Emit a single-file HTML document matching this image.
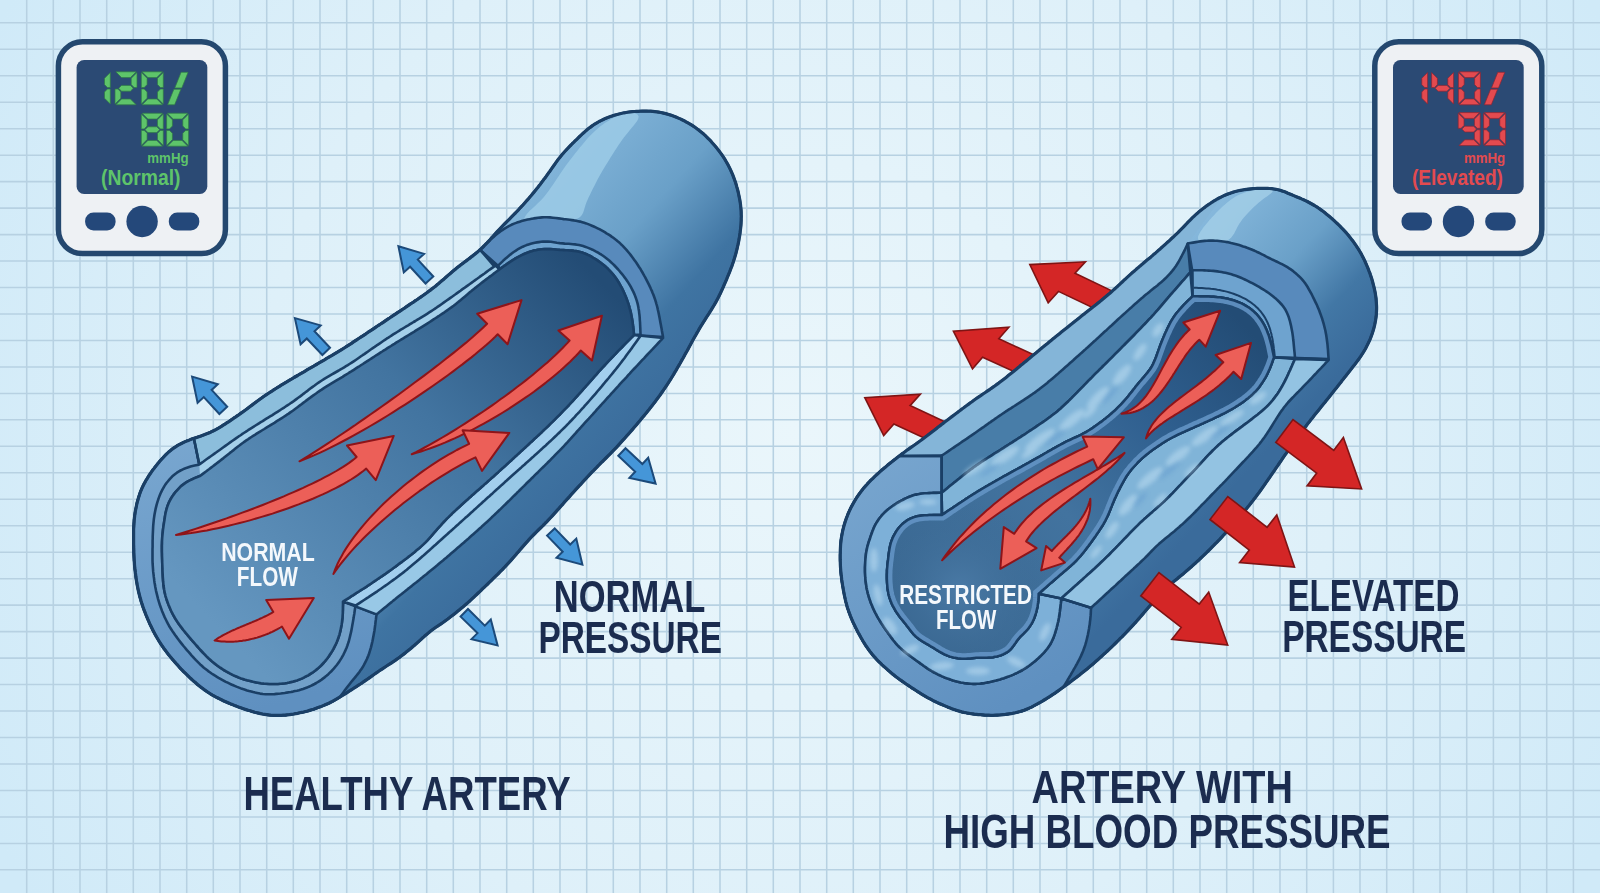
<!DOCTYPE html>
<html><head><meta charset="utf-8"><title>Healthy artery vs artery with high blood pressure</title>
<style>html,body{margin:0;padding:0;background:#d8ecf7;overflow:hidden;}svg{display:block;}text{font-family:"Liberation Sans",sans-serif;}</style></head>
<body><svg width="1600" height="893" viewBox="0 0 1600 893">
<defs>
<radialGradient id="bg" cx="800" cy="430" r="900" gradientUnits="userSpaceOnUse">
  <stop offset="0" stop-color="#eaf6fb"/>
  <stop offset="0.6" stop-color="#def0f9"/>
  <stop offset="1" stop-color="#d0eaf8"/>
</radialGradient>
<linearGradient id="lOuter" x1="540" y1="150" x2="740" y2="330" gradientUnits="userSpaceOnUse">
  <stop offset="0" stop-color="#86b8dc"/><stop offset="0.45" stop-color="#6aa0c8"/><stop offset="0.75" stop-color="#3f74a2"/><stop offset="1" stop-color="#3a6b9b"/>
</linearGradient>
<linearGradient id="lInt" x1="600" y1="280" x2="230" y2="640" gradientUnits="userSpaceOnUse">
  <stop offset="0" stop-color="#234c75"/><stop offset="0.42" stop-color="#4274a0"/><stop offset="1" stop-color="#6597c0"/>
</linearGradient>
<linearGradient id="lRing" x1="180" y1="440" x2="260" y2="710" gradientUnits="userSpaceOnUse">
  <stop offset="0" stop-color="#78a6cf"/><stop offset="0.5" stop-color="#6b9bc8"/><stop offset="1" stop-color="#5f90c0"/>
</linearGradient>
<linearGradient id="lWall" x1="420" y1="560" x2="470" y2="640" gradientUnits="userSpaceOnUse">
  <stop offset="0" stop-color="#4177ae"/><stop offset="1" stop-color="#3a6ea5"/>
</linearGradient>

<linearGradient id="rOuter" x1="1230" y1="190" x2="1380" y2="330" gradientUnits="userSpaceOnUse">
  <stop offset="0" stop-color="#86b8dc"/><stop offset="0.45" stop-color="#6aa0c8"/><stop offset="0.75" stop-color="#4277a5"/><stop offset="1" stop-color="#3a6b9b"/>
</linearGradient>
<linearGradient id="rLum" x1="1240" y1="320" x2="930" y2="620" gradientUnits="userSpaceOnUse">
  <stop offset="0" stop-color="#234c75"/><stop offset="0.3" stop-color="#2f5f8f"/><stop offset="0.6" stop-color="#42739f"/><stop offset="1" stop-color="#3a6892"/>
</linearGradient>
<linearGradient id="rRing" x1="850" y1="460" x2="1000" y2="710" gradientUnits="userSpaceOnUse">
  <stop offset="0" stop-color="#78a6cf"/><stop offset="1" stop-color="#5f90c0"/>
</linearGradient>
<radialGradient id="rLumC" cx="960" cy="590" r="90" gradientUnits="userSpaceOnUse">
  <stop offset="0" stop-color="#4a7aa6"/><stop offset="1" stop-color="#3a6892" stop-opacity="0"/>
</radialGradient>
<clipPath id="lumClip"><path d="M942,515 L939.5,515 L936.7,515 L933.7,515 L931.5,515.1 L929.3,515.1 L927,515.2 L924.7,515.3 L922.5,515.5 L920.3,515.8 L918.2,516.1 L916.1,516.6 L914.1,517.2 L912.2,517.9 L910.3,518.7 L908.5,519.6 L906,521.2 L903.6,523 L902.1,524.3 L900.7,525.8 L899.3,527.3 L898.1,528.9 L896.8,530.6 L895.7,532.3 L894.7,534.1 L893.7,535.9 L892.8,537.7 L892.1,539.6 L891.3,541.5 L890.7,543.5 L890.2,545.5 L889.8,547.5 L889.4,549.6 L889.1,551.6 L888.8,553.7 L888.6,555.8 L888.3,557.9 L888.1,559.9 L887.8,562 L887.6,564 L887.4,566.1 L887.2,568.2 L887,570.3 L887,572.4 L886.9,574.5 L886.9,576.6 L886.9,578.7 L887,580.8 L887.1,583 L887.3,585.2 L887.5,587.4 L887.7,589.5 L888.1,591.6 L888.5,593.7 L889,595.8 L889.6,597.8 L890.3,599.8 L891,601.8 L891.8,603.7 L892.7,605.6 L893.7,607.4 L894.7,609.2 L895.7,611 L896.9,612.8 L898.1,614.5 L899.3,616.2 L900.6,617.9 L901.9,619.5 L903.2,621.1 L904.5,622.7 L905.8,624.3 L907,625.9 L908.3,627.5 L909.5,629.1 L911.3,631.5 L913.1,633.8 L915.2,635.9 L917.4,637.8 L919.8,639.6 L921.5,640.7 L923.2,641.8 L925,642.8 L926.7,643.9 L928.5,644.9 L930.3,646 L932.1,647 L933.9,648.1 L935.6,649.2 L937.4,650.3 L939.2,651.4 L940.9,652.4 L942.7,653.4 L944.5,654.3 L946.3,655.1 L948.1,655.9 L950,656.6 L952,657.1 L954.9,657.8 L957.8,658.3 L959.8,658.5 L961.8,658.7 L963.8,658.7 L965.9,658.7 L968,658.5 L970,658.4 L972.1,658.2 L974.2,658 L976.3,657.8 L978.4,657.7 L980.5,657.6 L982.6,657.6 L984.6,657.6 L986.7,657.6 L988.8,657.5 L990.9,657.4 L992.9,657.2 L995,656.8 L997,656.4 L999.1,655.8 L1001.1,655.2 L1003.1,654.4 L1005,653.4 L1006.8,652.4 L1008.5,651.2 L1010.1,649.8 L1011.5,648.3 L1012.9,646.6 L1014.2,644.8 L1015.4,643.1 L1016.6,641.3 L1017.9,639.6 L1019.2,638 L1020.6,636.4 L1022,635 L1023.5,633.6 L1024.9,632.2 L1026.3,630.7 L1027.7,629.2 L1028.9,627.6 L1030.1,625.9 L1031.3,624.1 L1032.3,622.3 L1033.2,620.4 L1034.1,618.5 L1034.8,616.5 L1035.5,614.5 L1036.1,612.5 L1036.6,610.5 L1037.1,608.4 L1037.5,606.4 L1037.8,604.3 L1038.1,602.2 L1038.3,600.2 L1038.5,597.3 L1038.6,594.6 L1038.6,593.7 L1040.4,592.2 L1042.3,590.5 L1044.4,588.6 L1045.9,587.3 L1047.5,585.9 L1049.2,584.4 L1050.9,582.9 L1052.6,581.5 L1054.3,580 L1056,578.5 L1057.7,577.1 L1059.3,575.6 L1060.9,574.2 L1062.5,572.9 L1064.1,571.5 L1065.7,570.2 L1067.3,568.8 L1068.8,567.5 L1070.3,566.2 L1071.8,564.8 L1073.3,563.5 L1074.7,562.1 L1076.2,560.7 L1077.5,559.2 L1079.5,557 L1080.9,555.5 L1082.1,554 L1083.4,552.4 L1084.7,550.8 L1085.9,549.2 L1087.1,547.6 L1088.4,546 L1089.6,544.3 L1090.8,542.7 L1092,541 L1093.1,539.4 L1094.3,537.7 L1095.5,536.1 L1096.6,534.4 L1097.8,532.8 L1098.9,531.1 L1100,529.4 L1101.1,527.7 L1102.2,526 L1103.2,524.3 L1104.2,522.5 L1105.2,520.8 L1106.1,519 L1107,517.2 L1107.9,515.4 L1108.7,513.6 L1109.4,511.7 L1110.2,509.9 L1110.9,508 L1111.7,506.1 L1112.4,504.2 L1113.2,502.4 L1114,500.5 L1114.8,498.6 L1115.7,496.7 L1116.5,494.9 L1117.4,493 L1118.3,491.1 L1119.3,489.3 L1120.2,487.4 L1121.2,485.5 L1122.2,483.7 L1123.2,481.8 L1124.2,480 L1125.2,478.3 L1126.3,476.5 L1127.5,474.8 L1128.6,473.1 L1129.9,471.5 L1131.2,469.8 L1132.5,468.2 L1133.9,466.7 L1135.3,465.2 L1136.7,463.7 L1138,462.2 L1140.2,460.2 L1142.3,458.1 L1143.8,456.8 L1145.4,455.5 L1147,454.1 L1148.6,452.9 L1150.2,451.6 L1151.8,450.4 L1153.5,449.2 L1155.2,448.1 L1156.8,446.9 L1158.5,445.8 L1160.2,444.7 L1161.9,443.5 L1163.6,442.4 L1165.4,441.3 L1167.2,440.2 L1169,439.2 L1170.8,438.2 L1172.7,437.2 L1174.5,436.3 L1176.4,435.3 L1178.3,434.4 L1180.2,433.5 L1182.1,432.6 L1184,431.8 L1186,430.9 L1187.9,430 L1189.8,429.2 L1191.7,428.3 L1193.5,427.5 L1195.4,426.6 L1197.3,425.8 L1199.2,425 L1201.1,424.1 L1203,423.3 L1204.9,422.4 L1206.8,421.6 L1208.6,420.7 L1210.5,419.8 L1212.4,419 L1214.3,418.1 L1216.2,417.2 L1218.1,416.3 L1220,415.4 L1221.9,414.4 L1223.7,413.5 L1225.6,412.5 L1227.4,411.5 L1229.2,410.5 L1231.1,409.5 L1232.9,408.5 L1234.7,407.4 L1236.4,406.3 L1238.2,405.2 L1239.9,404.1 L1241.6,402.9 L1243.3,401.8 L1244.9,400.6 L1246.5,399.3 L1248.1,398.1 L1249.7,396.8 L1251.2,395.5 L1252.7,394.1 L1254.1,392.7 L1255.5,391.3 L1256.9,389.8 L1258.2,388.3 L1259.4,386.7 L1260.6,385 L1261.8,383.3 L1262.9,381.6 L1264,379.9 L1265.1,378.1 L1266.1,376.3 L1267.1,374.4 L1268,372.5 L1268.9,370.5 L1269.8,368.5 L1270.6,366.5 L1271.4,364.4 L1272.1,362.5 L1273,359.8 L1273.9,357.3 L1273.4,354.8 L1272.8,352.1 L1272.2,349.1 L1271.8,347 L1271.3,344.8 L1270.7,342.6 L1270.1,340.4 L1269.5,338.3 L1268.9,336.2 L1268.2,334.2 L1267.4,332.2 L1266.7,330.3 L1265.8,328.4 L1265,326.6 L1264.1,324.8 L1263.1,323.1 L1261.5,320.5 L1259.7,318.1 L1258.5,316.5 L1257.2,315 L1255.8,313.5 L1254.3,312.1 L1252.8,310.7 L1251.1,309.4 L1249.5,308.1 L1247.8,307 L1246,305.9 L1244.3,304.9 L1241.6,303.5 L1238.9,302.4 L1236.2,301.3 L1234.3,300.6 L1232.3,300 L1230.3,299.5 L1228.3,298.9 L1226.2,298.5 L1224.2,298.1 L1222.1,297.7 L1220,297.4 L1217.8,297.2 L1215.6,297 L1213.4,296.8 L1211.1,296.7 L1208.8,296.6 L1206.5,296.5 L1204.3,296.5 L1202.2,296.5 L1200.1,296.5 L1197.3,296.4 L1194.8,296.4 L1192.5,296.4 L1190.5,298.4 L1188.3,300.4 L1186.8,301.9 L1185.3,303.5 L1183.8,305 L1182.3,306.6 L1180.9,308.2 L1179.5,309.7 L1178.2,311.3 L1176.9,312.8 L1175.7,314.4 L1174.5,316 L1173.4,317.7 L1172.3,319.4 L1171.2,321.2 L1170.2,323 L1169.3,324.8 L1168.4,326.6 L1167.4,328.5 L1166.6,330.4 L1165.7,332.3 L1164.9,334.1 L1164.1,336 L1163.3,337.9 L1162.5,339.7 L1161.4,342.5 L1160.3,345.3 L1159.3,348.1 L1158.3,350.9 L1157.3,353.7 L1156.3,356.5 L1155.6,358.4 L1154.8,360.3 L1154,362.1 L1153.2,364 L1152.2,365.8 L1151.2,367.5 L1150.1,369.2 L1148.9,370.8 L1147.7,372.4 L1146.4,374 L1145.1,375.6 L1143.8,377.2 L1142.4,378.7 L1141.1,380.3 L1139.7,381.8 L1138.4,383.4 L1137.1,385 L1135.8,386.6 L1134.6,388.2 L1133.3,389.8 L1132.1,391.4 L1130.8,393 L1129.5,394.6 L1128.3,396.2 L1127,397.8 L1125,400 L1123.1,402.2 L1121.1,404.3 L1119,406.5 L1117.5,407.9 L1116.1,409.3 L1114.6,410.8 L1113,412.2 L1111.5,413.5 L1109.9,414.9 L1108.4,416.2 L1106.8,417.4 L1105.3,418.7 L1103.7,419.9 L1102.1,421.2 L1100.4,422.4 L1098.8,423.6 L1097.1,424.9 L1095.4,426.1 L1093.7,427.2 L1092,428.4 L1090.3,429.5 L1088.6,430.6 L1086.1,432.1 L1083.5,433.5 L1080.9,434.9 L1078.3,436.1 L1075.7,437.3 L1073,438.5 L1070.3,439.8 L1068.4,440.6 L1066.6,441.5 L1064.8,442.4 L1063,443.4 L1060.4,444.8 L1057.8,446.2 L1055.2,447.6 L1053.4,448.6 L1051.6,449.7 L1049.8,450.7 L1048,451.7 L1046.2,452.8 L1044.4,453.8 L1042.6,454.9 L1040.8,455.9 L1039,457 L1037.2,458 L1035.4,459 L1033.6,460 L1031.8,461 L1030,462 L1028.3,463 L1026.5,464 L1024.7,465 L1022.9,465.9 L1021.2,466.9 L1019.4,467.9 L1016.8,469.3 L1014.2,470.7 L1011.5,472.2 L1008.9,473.6 L1006.3,475.1 L1004.6,476 L1002.8,477 L1001.1,478 L999.3,479 L997.6,480 L995.8,481 L994.1,482 L992.3,483 L990.6,484 L988.8,485 L987.1,486 L985.3,487 L983.6,488 L981.8,489.1 L980,490.2 L978.2,491.2 L976.5,492.3 L974.7,493.4 L972.9,494.5 L971.1,495.7 L969.3,496.8 L967.5,498 L965.6,499.2 L963.7,500.5 L961.8,501.7 L959.9,503 L958,504.2 L956.2,505.5 L954.3,506.7 L952.6,507.9 L950.9,509 L948.5,510.6 L946.3,512.1 L944.4,513.4 L942.6,514.6 L942,515 Z"/></clipPath><filter id="soft" x="-20%" y="-20%" width="140%" height="140%"><feGaussianBlur stdDeviation="2.2"/></filter></defs>
<rect width="1600" height="893" fill="url(#bg)"/>
<path d="M26.7,0V893M53.3,0V893M80,0V893M106.7,0V893M133.3,0V893M160,0V893M186.7,0V893M213.3,0V893M240,0V893M266.7,0V893M293.3,0V893M320,0V893M346.7,0V893M373.3,0V893M400,0V893M426.7,0V893M453.3,0V893M480,0V893M506.7,0V893M533.3,0V893M560,0V893M586.7,0V893M613.3,0V893M640,0V893M666.7,0V893M693.3,0V893M720,0V893M746.7,0V893M773.3,0V893M800,0V893M826.7,0V893M853.3,0V893M880,0V893M906.7,0V893M933.3,0V893M960,0V893M986.7,0V893M1013.3,0V893M1040,0V893M1066.7,0V893M1093.3,0V893M1120,0V893M1146.7,0V893M1173.3,0V893M1200,0V893M1226.7,0V893M1253.3,0V893M1280,0V893M1306.7,0V893M1333.4,0V893M1360,0V893M1386.7,0V893M1413.4,0V893M1440,0V893M1466.7,0V893M1493.4,0V893M1520,0V893M1546.7,0V893M1573.4,0V893M0,22.8H1600M0,49.3H1600M0,75.7H1600M0,102.2H1600M0,128.7H1600M0,155.2H1600M0,181.6H1600M0,208.1H1600M0,234.6H1600M0,261H1600M0,287.5H1600M0,314H1600M0,340.4H1600M0,366.9H1600M0,393.4H1600M0,419.8H1600M0,446.3H1600M0,472.8H1600M0,499.3H1600M0,525.7H1600M0,552.2H1600M0,578.7H1600M0,605.1H1600M0,631.6H1600M0,658.1H1600M0,684.5H1600M0,711H1600M0,737.5H1600M0,764H1600M0,790.4H1600M0,816.9H1600M0,843.4H1600M0,869.8H1600" stroke="#b7d1e2" stroke-width="1.55" fill="none"/>
<rect x="58.4" y="41.8" width="167" height="211.8" rx="24" fill="#eef1f4" stroke="#24486f" stroke-width="5.5"/><rect x="76.6" y="60" width="130.7" height="134" rx="7.5" fill="#2b4a74"/><rect x="85.1" y="212.5" width="30.5" height="18" rx="8.5" fill="#24487a"/><circle cx="142.1" cy="221.5" r="15.7" fill="#24487a"/><rect x="168.8" y="212.5" width="30.5" height="18" rx="8.5" fill="#24487a"/>
<path d="M110.3,72.5 L104.5,78.3 L104.5,84.6 L107.4,87.5 L110.3,87.5 ZM110.3,89 L107.4,89 L104.5,92 L104.5,98.2 L110.3,104 ZM115.8,71.8 L136.2,71.8 L130.4,77.6 L121.5,77.6 ZM137,72.5 L131.2,78.3 L131.2,84.6 L134.1,87.5 L137,87.5 ZM115.8,104.8 L136.2,104.8 L130.4,99 L121.5,99 ZM115,89 L117.9,89 L120.8,92 L120.8,98.2 L115,104 ZM118.7,88.3 L121.5,85.4 L130.4,85.4 L133.3,88.3 L130.4,91.2 L121.5,91.2 ZM142.1,71.8 L162.6,71.8 L156.8,77.6 L147.9,77.6 ZM163.3,72.5 L157.5,78.3 L157.5,84.6 L160.4,87.5 L163.3,87.5 ZM163.3,89 L160.4,89 L157.5,92 L157.5,98.2 L163.3,104 ZM142.1,104.8 L162.6,104.8 L156.8,99 L147.9,99 ZM141.3,89 L144.2,89 L147.1,92 L147.1,98.2 L141.3,104 ZM141.3,72.5 L147.1,78.3 L147.1,84.6 L144.2,87.5 L141.3,87.5 ZM167.6,104.8 L174.6,104.8 L180.9,89.2 L173.9,89.2 ZM174.8,87.9 L181.8,87.9 L188.1,72.3 L181.1,72.3 Z" fill="#5ec46a" stroke="#2f7a45" stroke-width="0.7" stroke-linejoin="round"/>
<path d="M142.1,113.2 L162.6,113.2 L156.8,119 L147.9,119 ZM163.3,114 L157.5,119.8 L157.5,126 L160.4,128.9 L163.3,128.9 ZM163.3,130.4 L160.4,130.4 L157.5,133.3 L157.5,139.6 L163.3,145.4 ZM142.1,146.2 L162.6,146.2 L156.8,140.4 L147.9,140.4 ZM141.3,130.4 L144.2,130.4 L147.1,133.3 L147.1,139.6 L141.3,145.4 ZM141.3,114 L147.1,119.8 L147.1,126 L144.2,128.9 L141.3,128.9 ZM145,129.7 L147.9,126.8 L156.8,126.8 L159.7,129.7 L156.8,132.6 L147.9,132.6 ZM167.3,113.2 L187.8,113.2 L182,119 L173.2,119 ZM188.6,114 L182.8,119.8 L182.8,126 L185.7,128.9 L188.6,128.9 ZM188.6,130.4 L185.7,130.4 L182.8,133.3 L182.8,139.6 L188.6,145.4 ZM167.3,146.2 L187.8,146.2 L182,140.4 L173.2,140.4 ZM166.6,130.4 L169.5,130.4 L172.4,133.3 L172.4,139.6 L166.6,145.4 ZM166.6,114 L172.4,119.8 L172.4,126 L169.5,128.9 L166.6,128.9 Z" fill="#5ec46a" stroke="#2f7a45" stroke-width="0.7" stroke-linejoin="round"/>
<text x="147.3" y="162.5" font-family="Liberation Sans" font-weight="bold" font-size="15" fill="#5ec46a" textLength="41.3" lengthAdjust="spacingAndGlyphs">mmHg</text>
<text x="101" y="184.8" font-family="Liberation Sans" font-weight="bold" font-size="22" fill="#5ec46a" textLength="79.5" lengthAdjust="spacingAndGlyphs">(Normal)</text>
<rect x="1374.8" y="41.8" width="167" height="211.8" rx="24" fill="#eef1f4" stroke="#24486f" stroke-width="5.5"/><rect x="1393" y="60" width="130.7" height="134" rx="7.5" fill="#2b4a74"/><rect x="1401.5" y="212.5" width="30.5" height="18" rx="8.5" fill="#24487a"/><circle cx="1458.5" cy="221.5" r="15.7" fill="#24487a"/><rect x="1485.2" y="212.5" width="30.5" height="18" rx="8.5" fill="#24487a"/>
<path d="M1427.6,72.5 L1421.8,78.3 L1421.8,84.6 L1424.7,87.5 L1427.6,87.5 ZM1427.6,89 L1424.7,89 L1421.8,92 L1421.8,98.2 L1427.6,104 ZM1453.6,72.5 L1447.8,78.3 L1447.8,84.6 L1450.7,87.5 L1453.6,87.5 ZM1453.6,89 L1450.7,89 L1447.8,92 L1447.8,98.2 L1453.6,104 ZM1431.6,72.5 L1437.4,78.3 L1437.4,84.6 L1434.5,87.5 L1431.6,87.5 ZM1435.2,88.3 L1438.1,85.4 L1447,85.4 L1449.9,88.3 L1447,91.2 L1438.1,91.2 ZM1459.2,71.8 L1479.7,71.8 L1473.9,77.6 L1465,77.6 ZM1480.4,72.5 L1474.6,78.3 L1474.6,84.6 L1477.5,87.5 L1480.4,87.5 ZM1480.4,89 L1477.5,89 L1474.6,92 L1474.6,98.2 L1480.4,104 ZM1459.2,104.8 L1479.7,104.8 L1473.9,99 L1465,99 ZM1458.4,89 L1461.3,89 L1464.2,92 L1464.2,98.2 L1458.4,104 ZM1458.4,72.5 L1464.2,78.3 L1464.2,84.6 L1461.3,87.5 L1458.4,87.5 ZM1484.3,104.8 L1491.3,104.8 L1497.6,89.2 L1490.6,89.2 ZM1491.5,87.9 L1498.5,87.9 L1504.8,72.3 L1497.8,72.3 Z" fill="#e34a4f" stroke="#8c2432" stroke-width="0.7" stroke-linejoin="round"/>
<path d="M1459,112.6 L1479.5,112.6 L1473.7,118.4 L1464.8,118.4 ZM1480.2,113.3 L1474.4,119.1 L1474.4,125.4 L1477.3,128.3 L1480.2,128.3 ZM1480.2,129.8 L1477.3,129.8 L1474.4,132.8 L1474.4,139 L1480.2,144.8 ZM1459,145.6 L1479.5,145.6 L1473.7,139.8 L1464.8,139.8 ZM1458.2,113.3 L1464,119.1 L1464,125.4 L1461.1,128.3 L1458.2,128.3 ZM1461.9,129.1 L1464.8,126.2 L1473.7,126.2 L1476.5,129.1 L1473.7,132 L1464.8,132 ZM1484.3,112.6 L1504.8,112.6 L1499,118.4 L1490.1,118.4 ZM1505.6,113.3 L1499.8,119.1 L1499.8,125.4 L1502.7,128.3 L1505.6,128.3 ZM1505.6,129.8 L1502.7,129.8 L1499.8,132.8 L1499.8,139 L1505.6,144.8 ZM1484.3,145.6 L1504.8,145.6 L1499,139.8 L1490.1,139.8 ZM1483.6,129.8 L1486.5,129.8 L1489.4,132.8 L1489.4,139 L1483.6,144.8 ZM1483.6,113.3 L1489.4,119.1 L1489.4,125.4 L1486.5,128.3 L1483.6,128.3 Z" fill="#e34a4f" stroke="#8c2432" stroke-width="0.7" stroke-linejoin="round"/>
<text x="1463.9" y="162.5" font-family="Liberation Sans" font-weight="bold" font-size="15" fill="#e34a4f" textLength="41.3" lengthAdjust="spacingAndGlyphs">mmHg</text>
<text x="1411.9" y="184.8" font-family="Liberation Sans" font-weight="bold" font-size="22" fill="#e34a4f" textLength="91" lengthAdjust="spacingAndGlyphs">(Elevated)</text>
<path d="M193.3,438.6 L195.2,437.9 L198.1,436.9 L200.9,436 L202.8,435.3 L204.7,434.6 L206.7,433.8 L208.7,433 L210.7,432.2 L212.6,431.2 L214.5,430.3 L216.3,429.3 L218,428.3 L219.8,427.3 L221.5,426.3 L223.2,425.2 L225,424.1 L226.7,422.9 L228.5,421.8 L230.3,420.6 L232,419.4 L233.7,418.2 L235.4,417.1 L237.1,415.9 L238.8,414.8 L240.4,413.6 L242.1,412.4 L243.8,411.2 L245.5,410 L247.2,408.7 L248.8,407.5 L250.4,406.3 L252,405.1 L254.4,403.3 L256.8,401.5 L259.2,399.7 L261.6,398 L264,396.3 L266.5,394.6 L269,393 L270.7,391.9 L272.4,390.8 L274.1,389.6 L275.9,388.5 L277.7,387.4 L279.5,386.3 L281.2,385.2 L283,384.1 L285.5,382.6 L288,381.1 L290.5,379.6 L292.3,378.6 L294,377.5 L295.8,376.5 L297.6,375.5 L299.4,374.4 L301.2,373.4 L303,372.3 L304.8,371.3 L306.6,370.2 L308.3,369.2 L310.1,368.2 L311.9,367.1 L313.7,366.1 L315.5,365 L317.3,364 L319.1,362.9 L320.9,361.9 L322.7,360.8 L324.5,359.8 L326.3,358.7 L328.1,357.7 L329.8,356.6 L331.6,355.6 L334.1,354.1 L336.6,352.6 L339.1,351.1 L341.6,349.6 L344.2,348 L346.7,346.4 L349.1,344.8 L351.5,343.3 L353.9,341.7 L356.3,340.1 L358.7,338.5 L361.2,336.9 L363.6,335.3 L365.9,333.8 L368.2,332.2 L370.6,330.7 L373,329.1 L375.5,327.4 L377.1,326.3 L378.9,325.1 L380.6,324 L382.4,322.8 L384.2,321.6 L386,320.4 L387.8,319.2 L389.6,318 L391.3,316.8 L393,315.7 L395.4,314.1 L397.9,312.4 L399.6,311.3 L401.4,310.1 L403.1,309 L404.9,307.8 L406.6,306.6 L408.4,305.4 L410.2,304.2 L412,303 L413.8,301.8 L415.5,300.6 L417.3,299.5 L419,298.3 L420.7,297.1 L422.3,296 L424.8,294.2 L427.2,292.5 L428.8,291.3 L430.4,290.1 L432.1,288.8 L433.8,287.5 L435.5,286.2 L437.1,284.8 L438.7,283.5 L440.3,282.1 L441.8,280.8 L444.1,278.9 L446.2,277 L448.4,275.1 L450.6,273.2 L452.8,271.3 L455.1,269.4 L456.7,268.1 L458.3,266.8 L460,265.6 L461.6,264.3 L463.3,263.1 L465,261.8 L466.6,260.6 L468.3,259.3 L469.9,258.1 L471.6,256.8 L473.2,255.6 L474.8,254.3 L476.3,253 L477.9,251.7 L479.4,250.3 L481,248.9 L482.5,247.5 L484,246 L485.5,244.4 L487,242.9 L488.5,241.3 L489.9,239.8 L491.3,238.2 L492.7,236.7 L494.1,235.1 L495.4,233.6 L497.4,231.4 L499.4,229.3 L500.8,227.8 L502.2,226.3 L503.6,224.9 L505,223.5 L507.1,221.4 L509.2,219.3 L511.3,217.2 L513.3,215.1 L515.4,213 L517.5,210.8 L518.9,209.3 L520.2,207.8 L521.6,206.3 L523.1,204.8 L524.5,203.2 L525.8,201.7 L527.2,200.1 L528.6,198.6 L529.9,197 L531.2,195.5 L532.5,193.9 L533.8,192.4 L535.1,190.8 L536.3,189.2 L537.6,187.7 L538.8,186.1 L540.1,184.5 L541.3,182.9 L542.5,181.2 L543.7,179.6 L545,178 L546.2,176.3 L547.4,174.6 L548.6,172.9 L549.9,171.2 L551.1,169.4 L552.3,167.7 L553.5,166 L554.7,164.3 L555.9,162.6 L557.1,160.9 L558.3,159.3 L559.6,157.7 L560.9,156.1 L562.1,154.5 L563.5,153 L564.8,151.5 L566.8,149.3 L568.2,147.9 L569.6,146.4 L571,145 L572.4,143.5 L573.9,142.1 L575.3,140.7 L576.8,139.3 L578.2,137.9 L579.6,136.5 L581.1,135.1 L582.6,133.7 L584.2,132.3 L585.7,130.9 L587.3,129.6 L588.9,128.3 L590.5,127.1 L592.1,125.9 L593.8,124.7 L595.6,123.6 L597.3,122.6 L599.1,121.5 L601,120.6 L602.8,119.7 L604.7,118.8 L606.6,118 L608.5,117.3 L610.4,116.6 L612.3,115.9 L614.2,115.3 L616.2,114.7 L618.1,114.2 L620.1,113.7 L622.1,113.2 L624.2,112.8 L626.2,112.5 L628.2,112.2 L630.3,111.9 L632.3,111.7 L634.3,111.5 L636.4,111.4 L638.4,111.3 L640.4,111.2 L642.5,111.1 L644.5,111.1 L646.5,111.1 L648.6,111.2 L650.6,111.2 L652.7,111.4 L654.7,111.6 L656.7,111.8 L658.7,112.1 L660.7,112.5 L662.7,112.9 L664.7,113.4 L666.7,113.9 L668.7,114.5 L670.6,115.1 L672.6,115.8 L674.6,116.5 L676.5,117.3 L678.4,118.1 L680.3,118.9 L682.1,119.8 L684,120.7 L685.7,121.7 L687.5,122.6 L690.1,124.1 L692.6,125.7 L694.3,126.8 L696,128 L697.6,129.2 L699.2,130.4 L700.8,131.7 L702.4,133 L703.9,134.3 L705.4,135.7 L706.8,137.1 L708.2,138.5 L709.7,139.9 L711.1,141.4 L712.4,143 L713.8,144.5 L715.1,146 L716.4,147.6 L717.7,149.2 L718.9,150.8 L720.1,152.4 L721.3,154 L722.5,155.7 L723.6,157.3 L724.7,159 L725.7,160.8 L726.7,162.5 L728.2,165.1 L729.5,167.8 L730.8,170.4 L732,173.2 L732.8,175 L733.5,176.9 L734.2,178.8 L734.9,180.8 L735.6,182.7 L736.2,184.7 L736.7,186.6 L737.3,188.6 L737.8,190.5 L738.3,192.5 L738.7,194.5 L739.1,196.4 L739.5,198.4 L739.9,200.4 L740.2,202.4 L740.5,204.4 L740.7,206.4 L740.9,208.4 L741.1,210.4 L741.2,212.4 L741.2,214.4 L741.3,216.4 L741.2,218.4 L741.2,220.5 L741.1,222.5 L741,224.5 L740.8,226.6 L740.6,228.6 L740.3,230.7 L740.1,232.7 L739.8,234.8 L739.5,236.8 L739.1,238.8 L738.8,240.8 L738.4,242.8 L738,244.7 L737.5,246.7 L737.1,248.7 L736.6,250.6 L736.1,252.6 L735.6,254.5 L735,256.5 L734.4,258.4 L733.8,260.3 L733.2,262.3 L732.5,264.2 L731.9,266.1 L731.1,268 L730.4,269.9 L729.7,271.8 L728.9,273.7 L728.1,275.6 L727.3,277.5 L726.6,279.3 L725.4,282.1 L724.2,284.8 L723.1,287.4 L721.9,290 L720.7,292.7 L719.4,295.3 L718.5,297.1 L717.6,298.9 L716.6,300.7 L715.7,302.4 L714.2,305 L712.6,307.6 L711.1,310.1 L710,311.8 L708.9,313.6 L707.8,315.3 L706.6,317.1 L705.5,318.9 L704.4,320.7 L703.3,322.4 L702.2,324.2 L701.1,325.9 L700,327.7 L699,329.4 L698,331.2 L697,332.9 L696,334.7 L695,336.4 L693.5,339 L692.1,341.6 L690.7,344.2 L689.3,346.8 L687.9,349.4 L686.9,351.2 L685.9,352.9 L684.9,354.7 L684,356.4 L683,358.2 L682,359.9 L681,361.7 L680,363.5 L678.9,365.3 L677.9,367 L676.9,368.8 L675.9,370.6 L674.8,372.3 L673.8,374.1 L672.8,375.8 L671.7,377.5 L670.7,379.2 L669.6,380.9 L668.5,382.6 L667.4,384.3 L666.3,386 L665.2,387.6 L663.5,390.1 L661.8,392.5 L660.1,395 L658.9,396.6 L657.7,398.2 L656.5,399.8 L655.3,401.5 L654.1,403.1 L652.8,404.7 L651.6,406.3 L650.3,407.9 L649.1,409.5 L647.8,411.1 L646.5,412.7 L645.2,414.3 L643.9,415.9 L642.5,417.5 L641.2,419.1 L639.9,420.7 L638.5,422.3 L637.2,423.9 L635.9,425.5 L634.5,427 L633.2,428.6 L631.9,430.1 L630.5,431.7 L629.2,433.2 L627.9,434.7 L626.5,436.2 L625.2,437.7 L623.9,439.2 L622.5,440.7 L620.5,442.9 L618.5,445.1 L616.5,447.3 L614.4,449.5 L612.3,451.7 L610.2,453.8 L608.1,455.9 L606,458 L603.9,460.1 L602.5,461.5 L601,462.9 L599.6,464.4 L598.1,465.8 L596.7,467.3 L595.2,468.8 L593.8,470.3 L592.4,471.7 L591,473.2 L589.6,474.7 L588.2,476.2 L586.8,477.6 L585.4,479.2 L584,480.7 L582.6,482.2 L581.2,483.8 L579.7,485.3 L578.3,486.9 L576.9,488.4 L575.5,489.9 L574.1,491.5 L572.7,493 L571.3,494.5 L570,496.1 L568.6,497.6 L567.2,499.1 L565.8,500.7 L564.4,502.2 L563.1,503.8 L561.7,505.3 L560.3,506.9 L559,508.4 L557.6,509.9 L556.3,511.4 L554.3,513.6 L552.3,515.8 L550.3,518 L548.3,520.1 L546.9,521.6 L545.5,523 L544.1,524.5 L542.7,525.9 L540.5,528 L538.4,530 L536.3,532.1 L534.9,533.5 L533.4,535 L532,536.4 L530.6,537.9 L529.2,539.4 L527.9,540.9 L525.9,543.1 L523.9,545.4 L522.6,546.9 L521.3,548.4 L519.9,550 L518.6,551.6 L517.2,553.1 L515.9,554.7 L514.5,556.3 L513.2,557.8 L511.8,559.4 L510.5,560.9 L509.1,562.4 L507.7,563.9 L506.3,565.4 L504.9,566.9 L503.5,568.3 L502.1,569.8 L500.7,571.2 L499.3,572.6 L497.9,574.1 L495.7,576.2 L493.6,578.2 L491.5,580.3 L489.3,582.4 L487.2,584.5 L485.7,585.9 L484.2,587.3 L482.7,588.7 L481.3,590.2 L479.8,591.6 L478.2,593 L476.7,594.5 L475.2,595.9 L473.7,597.3 L472.2,598.7 L470.7,600.1 L469.2,601.5 L467.6,602.9 L466.1,604.2 L464.5,605.6 L462.9,607 L461.3,608.3 L459.6,609.7 L457.9,611.1 L456.2,612.5 L454.4,613.9 L452.7,615.2 L451,616.5 L449.4,617.8 L447.8,619 L446.1,620.2 L443.7,622 L441.3,623.7 L439.6,624.8 L438,625.9 L435.5,627.5 L433.1,629.2 L430.7,631 L428.4,632.9 L426.9,634.2 L425.3,635.5 L423.8,636.9 L422.2,638.3 L420.6,639.8 L419.1,641.2 L417.5,642.6 L415.9,644.1 L414.3,645.4 L412.7,646.8 L411.1,648.2 L409.5,649.5 L407.9,650.8 L406.3,652.1 L404.7,653.4 L403.1,654.6 L401.5,655.8 L399.9,657.1 L398.2,658.3 L396.6,659.4 L394.9,660.6 L393.3,661.7 L391.6,662.8 L389.1,664.4 L386.6,666 L384.1,667.7 L382.4,668.8 L380.7,669.9 L379,671 L377.4,672.2 L375.7,673.3 L374,674.5 L372.3,675.7 L370.7,676.9 L369,678.1 L367.3,679.3 L365.6,680.4 L363.9,681.6 L362.2,682.8 L360.4,684 L358.6,685.1 L356.9,686.3 L355.1,687.4 L353.4,688.5 L351.7,689.6 L349.2,691.2 L346.7,692.8 L344.2,694.4 L341.7,695.9 L339.3,697.4 L336.8,698.9 L334.2,700.4 L332.5,701.4 L330.7,702.3 L328.9,703.2 L327,704 L325.2,704.8 L323.3,705.6 L321.4,706.4 L319.4,707.1 L317.5,707.8 L315.5,708.5 L313.6,709.2 L311.6,709.8 L309.6,710.4 L307.7,711 L305.7,711.5 L303.7,712 L301.7,712.4 L299.7,712.8 L297.7,713.3 L295.7,713.6 L293.7,714 L291.6,714.3 L289.5,714.6 L287.5,714.8 L285.4,715.1 L283.3,715.2 L281.3,715.3 L279.3,715.4 L276.3,715.4 L273.4,715.3 L270.5,715.1 L268.5,714.9 L266.5,714.6 L264.5,714.3 L262.5,714 L260.5,713.6 L257.6,712.9 L254.8,712.2 L251.9,711.4 L250,710.8 L248,710.2 L246.1,709.6 L244.1,709 L242.1,708.3 L240.1,707.6 L238.2,706.9 L236.3,706.1 L234.4,705.4 L232.5,704.6 L230.6,703.9 L227.9,702.7 L225.1,701.5 L223.3,700.7 L221.5,699.8 L219.7,698.9 L217.9,698 L216.1,697.1 L214.3,696.1 L212.5,695.1 L210.8,694.1 L209.1,693 L207.4,691.9 L205.7,690.7 L204,689.6 L202.4,688.3 L200.7,687.1 L199.1,685.8 L197.5,684.5 L196,683.1 L194.4,681.8 L192.8,680.4 L191.3,679 L189.8,677.6 L188.3,676.1 L186.8,674.7 L185.3,673.2 L183.8,671.8 L182.4,670.3 L180.9,668.8 L179.5,667.3 L178.1,665.7 L176.7,664.2 L175.3,662.6 L173.9,661 L172.5,659.4 L171.2,657.8 L169.9,656.3 L168.6,654.7 L167.3,653 L166.1,651.4 L164.9,649.8 L163.7,648.2 L162.6,646.5 L161.4,644.8 L160.3,643.1 L159.2,641.4 L158.2,639.7 L156.7,637.2 L155.2,634.6 L153.8,631.9 L152.4,629.3 L151.6,627.5 L150.7,625.7 L149.8,623.9 L149,622 L148.2,620.2 L147.4,618.3 L146.6,616.4 L145.8,614.5 L145.1,612.6 L144.3,610.6 L143.6,608.7 L142.9,606.7 L142.3,604.8 L141.6,602.8 L141,600.9 L140.5,598.9 L139.9,597 L139.4,595 L138.9,593 L138.4,591 L138,589 L137.6,587 L137.2,585.1 L136.9,583.1 L136.5,581.1 L136.2,579.1 L135.9,577.1 L135.7,575.1 L135.4,573 L135.2,571 L134.9,569 L134.7,566.9 L134.5,564.8 L134.4,562.7 L134.2,560.6 L134.1,558.5 L134,556.5 L133.9,554.4 L133.8,552.3 L133.8,550.3 L133.7,548.2 L133.7,546.2 L133.6,544.1 L133.6,542 L133.6,539.9 L133.6,537.9 L133.6,535.8 L133.6,533.7 L133.6,531.7 L133.6,529.7 L133.7,527.7 L133.9,524.7 L134.1,521.7 L134.2,519.7 L134.5,517.6 L134.7,515.6 L135,513.5 L135.3,511.5 L135.7,509.4 L136.1,507.5 L136.5,505.5 L136.9,503.5 L137.4,501.5 L138,499.6 L138.5,497.6 L139.2,495.6 L139.8,493.6 L140.5,491.7 L141.3,489.8 L142.1,487.9 L143,486 L143.9,484.2 L144.9,482.4 L145.9,480.5 L147,478.8 L148.1,477 L149.2,475.2 L150.4,473.5 L151.5,471.8 L152.7,470.1 L154,468.5 L155.2,466.9 L156.5,465.3 L157.7,463.7 L159.1,462.1 L160.4,460.5 L161.8,459 L163.2,457.5 L164.6,456 L166,454.5 L167.5,453.1 L169,451.7 L170.6,450.4 L172.2,449.1 L173.9,447.9 L175.6,446.8 L177.3,445.7 L179.1,444.6 L180.9,443.7 L182.8,442.8 L184.6,441.9 L186.5,441.1 L188.5,440.4 L190.4,439.6 Z" fill="url(#lOuter)" stroke="#1a3f66" stroke-width="2.6" stroke-linejoin="round"/>
<path d="M524.7,220.4 L524.3,218.2 L525.4,215.9 L527,213.8 L528.4,212.3 L530,210.6 L531.8,209 L533.7,207.2 L535.6,205.4 L537.5,203.6 L539.4,201.8 L541.2,199.9 L542.8,198.2 L544.3,196.4 L545.7,194.7 L547,193.1 L548.2,191.5 L549.9,189 L551.6,186.6 L552.8,184.9 L553.9,183.2 L555.1,181.5 L556.2,179.7 L557.4,178 L558.6,176.2 L559.7,174.5 L560.9,172.7 L562.1,171 L563.3,169.2 L564.5,167.5 L565.7,165.8 L567,164.1 L568.2,162.5 L569.4,160.8 L570.7,159.2 L572,157.5 L573.2,155.9 L574.5,154.2 L575.9,152.6 L577.2,150.9 L578.5,149.3 L579.8,147.6 L581.2,146 L582.5,144.4 L583.9,142.8 L585.2,141.2 L586.6,139.6 L587.9,138.1 L589.3,136.6 L591.3,134.5 L593.4,132.4 L595.5,130.4 L597.8,128.4 L599.4,127.1 L601.1,125.8 L602.9,124.4 L604.7,123.1 L606.6,121.9 L608.5,120.7 L610.4,119.6 L612.2,118.6 L614.1,117.6 L615.9,116.7 L618.6,115.5 L621.3,114.5 L624.1,113.6 L626.2,113.2 L628.4,112.9 L630.6,112.7 L632.7,112.8 L635.5,113.4 L637.5,114.4 L638.7,116.5 L638.2,118.9 L637.1,120.9 L635.6,123.1 L633.7,125.4 L632.4,127.1 L630.9,128.8 L629.5,130.6 L628,132.4 L626.5,134.2 L625.1,136 L623.7,137.8 L622.4,139.6 L621.2,141.3 L620,143 L618.9,144.6 L617.3,147.1 L616.2,148.8 L615,150.5 L613.9,152.3 L612.8,154 L611.7,155.8 L610.5,157.6 L609.4,159.4 L608.3,161.2 L607.2,163 L606.1,164.7 L605,166.5 L604,168.3 L602.9,170 L601.9,171.8 L600.9,173.5 L599.9,175.3 L598.8,177.2 L597.8,179.1 L596.8,181 L595.8,183 L594.8,184.9 L593.8,186.9 L592.8,188.8 L591.9,190.7 L591,192.6 L590.1,194.4 L588.8,197.1 L587.6,199.7 L586.5,202.3 L585.5,205 L584.6,207.9 L584.1,209.8 L583.2,212.6 L581.9,215.1 L580.1,217 L577.8,218.4 L575.2,219.3 L572.4,219.9 L569.4,220.4 L567.4,220.7 L565.2,221 L562.9,221.3 L560.5,221.5 L558.1,221.7 L555.6,221.9 L553.1,222.1 L550.6,222.3 L548.1,222.4 L545.6,222.5 L543.2,222.6 L540.8,222.7 L538.5,222.7 L536.3,222.6 L534.3,222.6 L531.5,222.4 L529,222.1 L527,221.6 Z" fill="#9ccbe6" opacity="0.85"/>
<path d="M193.9,438.3 L191.1,439.3 L189.2,440.1 L187.2,440.9 L185.2,441.7 L183.1,442.6 L181.2,443.6 L179.3,444.6 L177.4,445.6 L175.6,446.7 L173.9,447.9 L172.2,449.1 L170.6,450.4 L169,451.7 L167.5,453.1 L166,454.5 L164.6,456 L163.2,457.5 L161.8,459 L160.4,460.5 L159.1,462.1 L157.7,463.7 L156.5,465.3 L155.2,466.9 L154,468.5 L152.7,470.1 L151.5,471.8 L150.4,473.5 L149.2,475.2 L148.1,477 L147,478.8 L145.9,480.5 L144.9,482.4 L143.9,484.2 L143,486 L142.1,487.9 L141.3,489.8 L140.5,491.7 L139.8,493.6 L139.2,495.6 L138.5,497.6 L138,499.6 L137.4,501.5 L136.9,503.5 L136.5,505.5 L136.1,507.5 L135.7,509.4 L135.3,511.5 L135,513.5 L134.7,515.6 L134.5,517.6 L134.2,519.7 L134.1,521.7 L133.9,523.7 L133.8,526.7 L133.6,529.7 L133.6,531.7 L133.6,533.7 L133.6,535.8 L133.6,537.9 L133.6,539.9 L133.6,542 L133.6,544.1 L133.7,546.2 L133.7,548.2 L133.8,550.3 L133.8,552.3 L133.9,554.4 L134,556.5 L134.1,558.5 L134.2,560.6 L134.4,562.7 L134.5,564.8 L134.7,566.9 L134.9,569 L135.2,571 L135.4,573 L135.7,575.1 L135.9,577.1 L136.2,579.1 L136.5,581.1 L136.9,583.1 L137.2,585.1 L137.6,587 L138,589 L138.4,591 L138.9,593 L139.4,595 L139.9,597 L140.5,598.9 L141,600.9 L141.6,602.8 L142.3,604.8 L142.9,606.7 L143.6,608.7 L144.3,610.6 L145.1,612.6 L145.8,614.5 L146.6,616.4 L147.4,618.3 L148.2,620.2 L149,622 L149.8,623.9 L150.7,625.7 L151.6,627.5 L152.4,629.3 L153.8,631.9 L155.2,634.6 L156.7,637.2 L158.2,639.7 L159.2,641.4 L160.3,643.1 L161.4,644.8 L162.6,646.5 L163.7,648.2 L164.9,649.8 L166.1,651.4 L167.3,653 L168.6,654.7 L169.9,656.3 L171.2,657.8 L172.5,659.4 L173.9,661 L175.3,662.6 L176.7,664.2 L178.1,665.7 L179.5,667.3 L180.9,668.8 L182.4,670.3 L183.8,671.8 L185.3,673.2 L186.8,674.7 L188.3,676.1 L189.8,677.6 L191.3,679 L192.8,680.4 L194.4,681.8 L196,683.1 L197.5,684.5 L199.1,685.8 L200.7,687.1 L202.4,688.3 L204,689.6 L205.7,690.7 L207.4,691.9 L209.1,693 L210.8,694.1 L212.5,695.1 L214.3,696.1 L216.1,697.1 L217.9,698 L219.7,698.9 L221.5,699.8 L223.3,700.7 L225.1,701.5 L226.9,702.3 L229.7,703.5 L231.5,704.3 L233.4,705 L235.3,705.8 L237.2,706.5 L239.2,707.2 L241.1,707.9 L243.1,708.6 L245.1,709.3 L247.1,709.9 L249,710.5 L250.9,711.1 L253.8,711.9 L256.7,712.7 L259.5,713.3 L262.5,714 L264.5,714.3 L266.5,714.6 L268.5,714.9 L270.5,715.1 L273.4,715.3 L276.3,715.4 L279.3,715.4 L281.3,715.3 L283.3,715.2 L285.4,715.1 L287.5,714.8 L289.5,714.6 L291.6,714.3 L293.7,714 L295.7,713.6 L297.7,713.3 L299.7,712.8 L301.7,712.4 L303.7,712 L305.7,711.5 L307.7,711 L309.6,710.4 L311.6,709.8 L313.6,709.2 L315.5,708.5 L317.5,707.8 L319.4,707.1 L321.4,706.4 L323.3,705.6 L325.2,704.8 L327.1,704 L328.9,703.1 L330.8,702.2 L332.6,701.3 L334.4,700.3 L336.9,698.9 L339.2,697.5 L340,697 L340,697 L341.6,694.8 L343.3,692.5 L344.5,690.8 L345.8,689 L347.1,687.3 L348.5,685.5 L349.9,683.7 L351.2,682 L352.6,680.3 L354,678.7 L355.3,677.1 L356.6,675.5 L357.9,673.9 L359.2,672.3 L360.3,670.6 L361.5,668.9 L362.6,667.3 L364.1,664.7 L365,662.9 L365.9,661.1 L366.8,659.2 L367.6,657.4 L368.4,655.5 L369.1,653.5 L369.7,651.6 L370.3,649.6 L370.9,647.6 L371.4,645.6 L371.9,643.6 L372.4,641.5 L372.8,639.4 L373.2,637.3 L373.6,635.2 L374,633.1 L374.4,630.9 L374.7,628.7 L375,626.5 L375.3,624.4 L375.5,622.3 L375.9,619.4 L376.2,616.8 L376.5,614.4 L343,601.6 L343,604.2 L342.9,607 L342.9,609 L342.8,611.2 L342.8,613.4 L342.6,615.6 L342.5,617.8 L342.2,620 L342,622.1 L341.7,624.2 L341.3,626.3 L340.9,628.3 L340.5,630.4 L340,632.4 L339.5,634.3 L338.9,636.3 L338.2,638.2 L337.5,640.1 L336.8,642 L336,643.8 L335.1,645.6 L334.2,647.4 L333.3,649.2 L332.3,650.9 L331.2,652.6 L330.1,654.3 L329,656 L327.8,657.7 L326.6,659.3 L325.3,660.9 L323.9,662.5 L322.5,664 L321.1,665.5 L319.6,666.9 L318.1,668.3 L316.5,669.6 L315,670.8 L313.3,672 L311.6,673.1 L309.9,674.2 L308.2,675.3 L306.4,676.2 L304.6,677.2 L302.8,678.1 L300.9,678.9 L299,679.6 L297.1,680.4 L295.1,681 L293.1,681.6 L291.1,682.1 L289,682.6 L287,683 L284.9,683.3 L282.9,683.5 L280.8,683.7 L278.7,683.9 L276.7,684 L274.6,684 L272.6,684 L269.7,684 L266.8,683.8 L263.9,683.6 L261,683.3 L258.2,682.8 L255.2,682.2 L253.2,681.8 L251.2,681.3 L249.2,680.8 L247.1,680.3 L245.1,679.7 L243,679 L241,678.4 L239,677.6 L237,676.8 L235.1,676 L233.1,675.1 L231.2,674.1 L229.3,673.2 L227.5,672.1 L225.7,671.1 L223.8,670 L222.1,668.9 L220.3,667.7 L218.6,666.5 L216.9,665.3 L215.3,664 L213.7,662.7 L212.1,661.4 L210.5,660 L209,658.7 L207.5,657.3 L206.1,655.9 L204.7,654.4 L203.3,653 L201.9,651.5 L200.5,650 L199.2,648.5 L197.9,647 L196.5,645.5 L195.2,644 L193.8,642.4 L192.4,640.8 L191.1,639.3 L189.7,637.7 L188.4,636.1 L187.1,634.5 L185.7,632.9 L184.4,631.3 L183.1,629.7 L181.9,628 L180.6,626.4 L179.4,624.7 L178.2,623.1 L177.1,621.4 L176,619.7 L174.9,618 L173.9,616.2 L173,614.5 L172,612.7 L171.1,610.8 L170.3,609 L169.5,607.1 L168.7,605.2 L168,603.4 L167.3,601.5 L166.6,599.5 L166,597.5 L165.4,595.5 L164.9,593.4 L164.5,591.4 L164.1,589.3 L163.8,587.3 L163.5,585.3 L163.3,583.2 L163.1,581.2 L163,579.1 L162.8,577 L162.7,574.9 L162.6,572.8 L162.5,570.7 L162.5,568.6 L162.4,566.5 L162.3,564.4 L162.2,562.3 L162.2,560.2 L162.1,558.1 L162,556 L162,554 L161.9,551.9 L161.9,549.9 L161.9,547.8 L161.9,545.8 L162,543.8 L162,541.8 L162.1,539.8 L162.2,537.7 L162.4,535.7 L162.6,533.6 L162.8,531.6 L163,529.5 L163.3,527.5 L163.7,524.6 L164.2,521.6 L164.5,519.7 L164.8,517.6 L165.1,515.6 L165.5,513.6 L165.9,511.6 L166.4,509.7 L167.2,506.8 L168.3,504 L169.1,502.1 L170,500.3 L171,498.5 L172.1,496.8 L173.2,495.1 L174.5,493.4 L175.7,491.8 L177.1,490.3 L178.5,488.8 L179.9,487.3 L181.4,485.9 L183.1,484.6 L184.8,483.4 L186.6,482.2 L188.4,481.1 L190.3,480.2 L192.2,479.3 L194.1,478.4 L196.7,477.3 L199.2,476.3 L200,476 L199.3,464.5 Z" fill="url(#lRing)" stroke="#1a3f66" stroke-width="2.6" stroke-linejoin="round"/>
<path d="M355.5,605.6 L355.1,608.1 L354.7,610.8 L354.3,613.7 L353.9,615.9 L353.6,618.1 L353.2,620.3 L352.8,622.6 L352.4,624.8 L352,627.1 L351.6,629.2 L351.2,631.4 L350.7,633.5 L350.2,635.6 L349.7,637.7 L349.2,639.7 L348.7,641.7 L348,643.6 L347.4,645.5 L346.7,647.4 L345.9,649.3 L345.1,651.2 L344.2,653 L343.3,654.8 L342.3,656.6 L341.3,658.4 L340.2,660.1 L339.1,661.9 L337.9,663.5 L336.6,665.2 L335.3,666.8 L334,668.4 L332.6,669.9 L331.1,671.5 L329.6,672.9 L328.1,674.4 L326.5,675.8 L324.9,677.1 L323.2,678.4 L321.6,679.6 L319.8,680.8 L318.1,681.9 L316.3,683 L314.5,684 L312.6,685 L310.8,685.9 L308.9,686.7 L307,687.6 L305,688.3 L303,689 L301.1,689.6 L299,690.2 L297,690.7 L295,691.1 L293,691.6 L290.9,692 L288.9,692.3 L286.8,692.6 L284.8,693 L282.7,693.2 L280.6,693.5 L278.6,693.7 L276.5,693.9 L274.5,694.1 L271.5,694.3 L268.7,694.3 L265.8,694.3 L262.9,694 L260.1,693.6 L257.2,693 L255.2,692.6 L253.2,692.1 L251.2,691.5 L249.2,691 L247.1,690.4 L245.1,689.7 L243,689.1 L241,688.4 L239,687.6 L237.1,686.9 L235.2,686.1 L233.3,685.3 L231.4,684.5 L229.6,683.6 L227.7,682.7 L225.8,681.8 L224,680.8 L222.2,679.8 L220.4,678.8 L218.6,677.8 L216.9,676.8 L215.1,675.7 L213.4,674.6 L211.6,673.5 L209.9,672.3 L208.2,671.1 L206.6,669.8 L204.9,668.5 L203.3,667.2 L201.8,665.8 L200.2,664.4 L198.7,662.9 L197.2,661.4 L195.7,659.9 L194.3,658.4 L192.9,656.8 L191.5,655.3 L190.1,653.7 L188.8,652.2 L187.4,650.7 L186.1,649.1 L184.8,647.5 L183.5,646 L182.2,644.4 L180.4,642.1 L178.6,639.8 L176.9,637.4 L175.1,635 L173.4,632.5 L172.3,630.9 L171.2,629.2 L170.1,627.5 L169,625.7 L168,623.9 L167.1,622.2 L166.2,620.3 L165.3,618.5 L164.4,616.6 L163.6,614.7 L162.8,612.8 L162,610.9 L161.3,608.9 L160.6,607 L159.9,605 L159.3,603.1 L158.7,601.1 L158.1,599.1 L157.6,597.1 L157.1,595.1 L156.6,593.1 L156.1,591.1 L155.7,589.1 L155.3,587 L155,585 L154.6,583 L154.3,580.9 L154.1,578.9 L153.8,576.9 L153.6,574.9 L153.2,571.9 L153,569 L152.8,566.1 L152.6,563.2 L152.5,560.3 L152.5,558.2 L152.5,556.1 L152.5,554.1 L152.5,552.1 L152.5,549.1 L152.6,547.1 L152.6,545 L152.6,542.9 L152.6,540.8 L152.7,538.7 L152.7,536.5 L152.8,534.3 L152.9,532.1 L153,530 L153.1,527.9 L153.2,525.8 L153.4,523.7 L153.6,521.6 L153.8,519.5 L154.1,517.4 L154.4,515.3 L154.8,513.1 L155.2,511 L155.6,508.9 L156.1,506.9 L156.6,504.9 L157.4,502.1 L158.3,499.3 L159,497.4 L159.7,495.4 L160.5,493.5 L161.4,491.6 L162.4,489.7 L163.4,487.9 L164.4,486.1 L165.5,484.4 L166.7,482.8 L168,481.2 L169.3,479.6 L170.7,478.1 L172.1,476.6 L173.6,475.3 L175.2,474 L176.9,472.7 L178.6,471.6 L180.5,470.5 L182.4,469.6 L184.3,468.7 L186.3,467.9 L188.4,467.2 L190.5,466.5 L192.5,466 L194.6,465.5 L197.4,464.9 L199.3,464.5 L201.2,463.1 L203.2,461.7 L205.5,460 L207.2,458.8 L208.9,457.6 L210.8,456.3 L212.6,455 L214.5,453.6 L216.4,452.3 L218.2,451 L220,449.7 L221.7,448.5 L223.4,447.3 L225.7,445.6 L228,444 L230.2,442.4 L232.5,440.8 L234.9,439.1 L236.6,437.9 L238.3,436.7 L240.2,435.5 L242,434.2 L243.8,433 L245.6,431.9 L247.3,430.8 L249.7,429.2 L252.2,427.6 L254.7,426 L256.4,425 L258.1,423.9 L259.9,422.8 L261.7,421.6 L263.6,420.5 L265.4,419.3 L267.3,418.2 L269.2,417 L271,415.8 L272.9,414.7 L274.8,413.5 L276.6,412.4 L278.4,411.2 L280.2,410.1 L281.9,409 L283.6,407.9 L285.3,406.8 L287,405.7 L288.7,404.5 L290.4,403.4 L292.1,402.2 L293.8,401 L295.6,399.7 L297.3,398.5 L299,397.2 L300.7,396 L302.3,394.8 L303.9,393.5 L306.2,391.8 L308.5,390 L310.8,388.3 L313.1,386.6 L315.4,384.9 L317.7,383.2 L320.2,381.6 L322.6,380 L325.1,378.4 L327.7,376.9 L330.2,375.4 L332.7,373.9 L335.3,372.5 L337.9,371 L339.7,370 L341.5,368.9 L343.3,367.8 L345.1,366.7 L346.9,365.6 L348.7,364.5 L350.4,363.4 L352.9,361.8 L355.3,360.2 L357.7,358.6 L360.2,356.9 L362.6,355.2 L364.3,354.1 L366,352.9 L367.7,351.7 L369.4,350.5 L371.1,349.3 L372.8,348.1 L374.6,346.9 L376.3,345.7 L378,344.6 L379.8,343.4 L381.5,342.2 L383.2,341 L384.9,339.9 L386.6,338.7 L388.4,337.6 L390.1,336.5 L391.8,335.4 L393.6,334.2 L395.4,333.1 L397.2,332 L399,330.9 L400.8,329.7 L402.7,328.6 L404.5,327.5 L406.3,326.4 L408.2,325.3 L410,324.2 L411.8,323.1 L413.6,322 L415.4,321 L417.1,319.9 L418.8,318.9 L421.4,317.4 L423.8,315.8 L426.3,314.3 L428.7,312.8 L431.3,311.1 L433,310 L434.7,308.9 L436.3,307.8 L438.7,306.2 L441,304.6 L443.3,303 L445.6,301.4 L447.9,299.7 L449.6,298.5 L451.2,297.3 L452.9,296.1 L454.6,294.9 L456.3,293.7 L458,292.5 L459.7,291.3 L461.4,290.1 L463.1,288.8 L464.9,287.5 L466.7,286.2 L468.6,284.9 L470.5,283.5 L472.4,282.2 L474.3,280.8 L476.1,279.5 L478,278.1 L479.8,276.8 L481.6,275.5 L483.4,274.3 L485,273.1 L487.4,271.4 L489.5,269.8 L491.4,268.5 L493.2,267.2 L494.3,266.4 L499.4,269.4 L497.6,270.8 L495.6,272.3 L493.4,273.9 L491.8,275.2 L490.1,276.4 L488.3,277.8 L486.5,279.1 L484.7,280.5 L482.9,281.9 L481.1,283.3 L479.3,284.7 L477.6,286 L475.9,287.4 L474.2,288.7 L472.6,290 L471.1,291.3 L469.5,292.6 L467.3,294.5 L465,296.4 L462.8,298.3 L460.5,300.2 L458.2,302.1 L455.9,303.9 L453.6,305.7 L451.3,307.4 L449,309 L446.8,310.6 L444.4,312.3 L442,313.9 L440.3,315 L438.6,316.2 L436.8,317.4 L435,318.5 L433.2,319.7 L431.4,320.9 L429.7,322 L427.2,323.6 L424.8,325.1 L422.4,326.6 L419.9,328.1 L417.4,329.6 L415.7,330.7 L414,331.8 L412.2,332.8 L410.5,333.9 L408.7,335 L406.9,336.1 L405.1,337.2 L403.3,338.3 L401.5,339.4 L399.7,340.5 L397.9,341.6 L396.1,342.7 L394.4,343.8 L392.6,344.9 L390.9,346 L389.1,347.1 L387.4,348.2 L385.7,349.3 L383.9,350.4 L382.2,351.5 L380.4,352.6 L378.6,353.8 L376.9,354.9 L375.1,356 L373.4,357.2 L371.6,358.3 L369.8,359.5 L368.1,360.6 L366.4,361.7 L364.6,362.8 L362.9,364 L361.2,365 L358.7,366.7 L356.3,368.2 L353.8,369.8 L351.3,371.4 L349.6,372.4 L347.9,373.5 L346.1,374.6 L344.3,375.7 L342.6,376.8 L340.8,377.8 L339.1,378.9 L336.5,380.4 L334,381.9 L331.5,383.4 L329.1,384.8 L326.6,386.4 L324.2,387.9 L321.7,389.6 L320,390.7 L318.3,391.8 L316.7,393 L315,394.2 L313.3,395.4 L311.6,396.6 L309.9,397.9 L308.2,399.1 L306.5,400.4 L304.8,401.7 L303.2,402.9 L301.5,404.2 L299.9,405.4 L298.3,406.6 L295.9,408.4 L293.5,410.1 L291.1,411.8 L289.5,413 L287.8,414.1 L286.1,415.3 L284.4,416.4 L282.7,417.6 L280.1,419.2 L277.7,420.7 L275.2,422.3 L272.7,423.8 L270.2,425.4 L267.7,426.9 L265.1,428.5 L262.6,430 L260,431.6 L258.3,432.6 L256.6,433.7 L254.9,434.8 L253.1,435.9 L251.4,437 L249.7,438.1 L248,439.3 L246.3,440.4 L244.6,441.6 L243,442.8 L241.3,444 L239.7,445.3 L238,446.5 L236.4,447.8 L234.8,449.1 L233.2,450.4 L231.5,451.7 L229.9,452.9 L228.3,454.2 L226.7,455.5 L225.1,456.8 L223.5,458.1 L221.8,459.4 L220.1,460.7 L218.3,462.1 L216.5,463.5 L214.7,464.9 L212.9,466.3 L211.1,467.6 L209.3,469 L207.6,470.2 L206,471.5 L203.8,473.1 L201.8,474.6 L200,476 L197.6,477 L195,478 L192.2,479.3 L190.3,480.2 L188.4,481.1 L186.6,482.2 L184.8,483.4 L183.1,484.6 L181.4,485.9 L179.9,487.3 L178.5,488.8 L177.1,490.3 L175.7,491.8 L174.5,493.4 L173.2,495.1 L172.1,496.8 L171,498.5 L170,500.3 L169.1,502.1 L168.3,504 L167.6,505.8 L166.7,508.7 L166.2,510.6 L165.7,512.6 L165.3,514.6 L165,516.6 L164.6,518.7 L164.3,520.7 L164,522.6 L163.6,525.6 L163.2,528.5 L162.9,530.5 L162.7,532.6 L162.5,534.6 L162.3,536.7 L162.2,538.7 L162.1,540.8 L162,542.8 L161.9,544.8 L161.9,546.8 L161.9,548.8 L161.9,550.9 L162,552.9 L162,555 L162.1,557.1 L162.1,559.2 L162.2,561.2 L162.3,563.3 L162.3,565.4 L162.4,567.5 L162.5,569.6 L162.6,571.7 L162.7,573.9 L162.8,576 L162.9,578.1 L163,580.2 L163.2,582.2 L163.4,584.3 L163.6,586.3 L163.9,588.3 L164.3,590.4 L164.7,592.4 L165.2,594.5 L165.7,596.5 L166.3,598.5 L166.9,600.5 L167.6,602.4 L168.3,604.3 L169.1,606.2 L169.9,608 L170.7,609.9 L171.6,611.7 L172.5,613.6 L173.4,615.3 L174.4,617.1 L175.5,618.8 L176.5,620.6 L177.6,622.2 L178.8,623.9 L180,625.6 L181.2,627.2 L182.5,628.9 L183.8,630.5 L185.1,632.1 L186.4,633.7 L187.7,635.3 L189.1,636.9 L190.4,638.5 L191.8,640 L193.1,641.6 L194.5,643.2 L195.8,644.7 L197.2,646.3 L198.5,647.8 L199.9,649.3 L201.2,650.8 L202.6,652.3 L204,653.7 L205.4,655.2 L206.8,656.6 L208.3,658 L209.8,659.4 L211.3,660.7 L212.9,662 L214.5,663.4 L216.1,664.6 L217.8,665.9 L219.5,667.1 L221.2,668.3 L223,669.4 L224.7,670.6 L226.6,671.6 L228.4,672.7 L230.3,673.6 L232.2,674.6 L234.1,675.5 L236,676.4 L238,677.2 L240,678 L242,678.7 L244,679.4 L246.1,680 L248.2,680.6 L250.2,681.1 L252.2,681.6 L254.2,682 L256.2,682.4 L259.1,683 L262,683.4 L264.9,683.7 L267.7,683.9 L270.7,684 L273.6,684 L275.6,684 L277.7,683.9 L279.7,683.8 L281.8,683.7 L283.9,683.4 L286,683.1 L288,682.8 L290,682.3 L292.1,681.9 L294.1,681.3 L296.1,680.7 L298,680 L300,679.3 L301.9,678.5 L303.7,677.6 L305.5,676.7 L307.3,675.8 L309.1,674.8 L310.8,673.7 L312.5,672.6 L314.1,671.4 L315.8,670.2 L317.3,668.9 L318.9,667.6 L320.4,666.2 L321.8,664.8 L323.2,663.3 L324.6,661.7 L325.9,660.1 L327.2,658.5 L328.4,656.9 L329.6,655.2 L330.7,653.5 L331.8,651.8 L332.8,650.1 L333.8,648.3 L334.7,646.5 L335.6,644.7 L336.4,642.9 L337.2,641 L337.9,639.2 L338.6,637.2 L339.2,635.3 L339.7,633.3 L340.3,631.4 L340.7,629.4 L341.1,627.3 L341.5,625.3 L341.8,623.2 L342.1,621.1 L342.4,618.9 L342.5,616.7 L342.7,614.5 L342.8,612.3 L342.9,610.1 L342.9,608 L343,605.1 L343,602.5 L343,601.6 Z" fill="#72a0c8" stroke="#1a3f66" stroke-width="2.6" stroke-linejoin="round"/>
<path d="M199.3,464.5 L201.2,463.1 L203.2,461.7 L205.5,460 L207.2,458.8 L208.9,457.6 L210.8,456.3 L212.6,455 L214.5,453.6 L216.4,452.3 L218.2,451 L220,449.7 L221.7,448.5 L223.4,447.3 L225.7,445.6 L228,444 L230.2,442.4 L232.5,440.8 L234.9,439.1 L236.6,437.9 L238.3,436.7 L240.2,435.5 L242,434.2 L243.8,433 L245.6,431.9 L247.3,430.8 L249.7,429.2 L252.2,427.6 L254.7,426 L256.4,425 L258.1,423.9 L259.9,422.8 L261.7,421.6 L263.6,420.5 L265.4,419.3 L267.3,418.2 L269.2,417 L271,415.8 L272.9,414.7 L274.8,413.5 L276.6,412.4 L278.4,411.2 L280.2,410.1 L281.9,409 L283.6,407.9 L285.3,406.8 L287,405.7 L288.7,404.5 L290.4,403.4 L292.1,402.2 L293.8,401 L295.6,399.7 L297.3,398.5 L299,397.2 L300.7,396 L302.3,394.8 L303.9,393.5 L306.2,391.8 L308.5,390 L310.8,388.3 L313.1,386.6 L315.4,384.9 L317.7,383.2 L320.2,381.6 L322.6,380 L325.1,378.4 L327.7,376.9 L330.2,375.4 L332.7,373.9 L335.3,372.5 L337.9,371 L339.7,370 L341.5,368.9 L343.3,367.8 L345.1,366.7 L346.9,365.6 L348.7,364.5 L350.4,363.4 L352.9,361.8 L355.3,360.2 L357.7,358.6 L360.2,356.9 L362.6,355.2 L364.3,354.1 L366,352.9 L367.7,351.7 L369.4,350.5 L371.1,349.3 L372.8,348.1 L374.6,346.9 L376.3,345.7 L378,344.6 L379.8,343.4 L381.5,342.2 L383.2,341 L384.9,339.9 L386.6,338.7 L388.4,337.6 L390.1,336.5 L391.8,335.4 L393.6,334.2 L395.4,333.1 L397.2,332 L399,330.9 L400.8,329.7 L402.7,328.6 L404.5,327.5 L406.3,326.4 L408.2,325.3 L410,324.2 L411.8,323.1 L413.6,322 L415.4,321 L417.1,319.9 L418.8,318.9 L421.4,317.4 L423.8,315.8 L426.3,314.3 L428.7,312.8 L431.3,311.1 L433,310 L434.7,308.9 L436.3,307.8 L438.7,306.2 L441,304.6 L443.3,303 L445.6,301.4 L447.9,299.7 L449.6,298.5 L451.2,297.3 L452.9,296.1 L454.6,294.9 L456.3,293.7 L458,292.5 L459.7,291.3 L461.4,290.1 L463.1,288.8 L464.9,287.5 L466.7,286.2 L468.6,284.9 L470.5,283.5 L472.4,282.2 L474.3,280.8 L476.1,279.5 L478,278.1 L479.8,276.8 L481.6,275.5 L483.4,274.3 L485,273.1 L487.4,271.4 L489.5,269.8 L491.4,268.5 L493.2,267.2 L494.3,266.4 L499.4,269.4 L497.6,270.8 L495.6,272.3 L493.4,273.9 L491.8,275.2 L490.1,276.4 L488.3,277.8 L486.5,279.1 L484.7,280.5 L482.9,281.9 L481.1,283.3 L479.3,284.7 L477.6,286 L475.9,287.4 L474.2,288.7 L472.6,290 L471.1,291.3 L469.5,292.6 L467.3,294.5 L465,296.4 L462.8,298.3 L460.5,300.2 L458.2,302.1 L455.9,303.9 L453.6,305.7 L451.3,307.4 L449,309 L446.8,310.6 L444.4,312.3 L442,313.9 L440.3,315 L438.6,316.2 L436.8,317.4 L435,318.5 L433.2,319.7 L431.4,320.9 L429.7,322 L427.2,323.6 L424.8,325.1 L422.4,326.6 L419.9,328.1 L417.4,329.6 L415.7,330.7 L414,331.8 L412.2,332.8 L410.5,333.9 L408.7,335 L406.9,336.1 L405.1,337.2 L403.3,338.3 L401.5,339.4 L399.7,340.5 L397.9,341.6 L396.1,342.7 L394.4,343.8 L392.6,344.9 L390.9,346 L389.1,347.1 L387.4,348.2 L385.7,349.3 L383.9,350.4 L382.2,351.5 L380.4,352.6 L378.6,353.8 L376.9,354.9 L375.1,356 L373.4,357.2 L371.6,358.3 L369.8,359.5 L368.1,360.6 L366.4,361.7 L364.6,362.8 L362.9,364 L361.2,365 L358.7,366.7 L356.3,368.2 L353.8,369.8 L351.3,371.4 L349.6,372.4 L347.9,373.5 L346.1,374.6 L344.3,375.7 L342.6,376.8 L340.8,377.8 L339.1,378.9 L336.5,380.4 L334,381.9 L331.5,383.4 L329.1,384.8 L326.6,386.4 L324.2,387.9 L321.7,389.6 L320,390.7 L318.3,391.8 L316.7,393 L315,394.2 L313.3,395.4 L311.6,396.6 L309.9,397.9 L308.2,399.1 L306.5,400.4 L304.8,401.7 L303.2,402.9 L301.5,404.2 L299.9,405.4 L298.3,406.6 L295.9,408.4 L293.5,410.1 L291.1,411.8 L289.5,413 L287.8,414.1 L286.1,415.3 L284.4,416.4 L282.7,417.6 L280.1,419.2 L277.7,420.7 L275.2,422.3 L272.7,423.8 L270.2,425.4 L267.7,426.9 L265.1,428.5 L262.6,430 L260,431.6 L258.3,432.6 L256.6,433.7 L254.9,434.8 L253.1,435.9 L251.4,437 L249.7,438.1 L248,439.3 L246.3,440.4 L244.6,441.6 L243,442.8 L241.3,444 L239.7,445.3 L238,446.5 L236.4,447.8 L234.8,449.1 L233.2,450.4 L231.5,451.7 L229.9,452.9 L228.3,454.2 L226.7,455.5 L225.1,456.8 L223.5,458.1 L221.8,459.4 L220.1,460.7 L218.3,462.1 L216.5,463.5 L214.7,464.9 L212.9,466.3 L211.1,467.6 L209.3,469 L207.6,470.2 L206,471.5 L203.8,473.1 L201.8,474.6 L200,476 Z" fill="#a5d0ea"/>
<path d="M193.9,438.3 L196.1,437.6 L198.5,436.8 L201.2,435.9 L203.2,435.2 L205.2,434.4 L207.3,433.6 L209.4,432.7 L211.4,431.8 L213.4,430.8 L215.3,429.8 L217.1,428.9 L218.9,427.8 L220.6,426.8 L222.4,425.7 L224.1,424.6 L225.9,423.5 L227.6,422.3 L229.4,421.2 L231.1,420 L232.9,418.8 L234.6,417.7 L236.3,416.5 L237.9,415.3 L239.6,414.2 L241.3,413 L243,411.8 L244.6,410.6 L246.3,409.3 L248,408.1 L249.6,406.9 L251.2,405.7 L253.6,403.9 L256,402.1 L258.4,400.3 L260.8,398.6 L263.2,396.9 L265.7,395.2 L268.1,393.5 L269.8,392.4 L271.5,391.3 L273.3,390.2 L275,389.1 L276.8,387.9 L278.6,386.8 L280.4,385.7 L282.1,384.6 L284.6,383.1 L287.2,381.6 L289.7,380.1 L292.3,378.6 L294,377.5 L295.8,376.5 L297.6,375.5 L299.4,374.4 L301.2,373.4 L303,372.3 L304.8,371.3 L306.6,370.2 L308.3,369.2 L310.1,368.2 L311.9,367.1 L313.7,366.1 L315.5,365 L317.3,364 L319.1,362.9 L320.9,361.9 L322.7,360.8 L324.5,359.8 L326.3,358.7 L328.1,357.7 L329.8,356.6 L331.6,355.6 L334.1,354.1 L336.6,352.6 L339.1,351.1 L341.6,349.6 L344.2,348 L346.7,346.4 L349.1,344.8 L351.5,343.3 L353.9,341.7 L356.3,340.1 L358.7,338.5 L361.2,336.9 L363.6,335.3 L365.9,333.8 L368.2,332.2 L370.6,330.7 L373,329.1 L375.5,327.4 L377.1,326.3 L378.9,325.1 L380.6,324 L382.4,322.8 L384.2,321.6 L386,320.4 L387.8,319.2 L389.6,318 L391.3,316.8 L393,315.7 L395.4,314.1 L397.9,312.4 L399.6,311.3 L401.4,310.1 L403.1,309 L404.9,307.8 L406.6,306.6 L408.4,305.4 L410.2,304.2 L412,303 L413.8,301.8 L415.5,300.6 L417.3,299.5 L419,298.3 L420.7,297.1 L422.3,296 L424.8,294.2 L427.2,292.5 L428.8,291.3 L430.4,290.1 L432.1,288.8 L433.8,287.5 L435.5,286.2 L437.1,284.8 L438.7,283.5 L440.3,282.1 L441.8,280.8 L444.1,278.9 L446.2,277 L448.4,275.1 L450.6,273.2 L452.9,271.2 L454.4,269.9 L456.1,268.6 L457.8,267.2 L459.5,265.8 L461.3,264.4 L463.1,263 L464.9,261.6 L466.8,260.2 L468.6,258.8 L470.3,257.4 L472,256.1 L473.6,254.9 L475.8,253.2 L477.8,251.6 L479.6,250.3 L480.2,249.8 L494.3,266.4 L492.6,267.6 L490.8,268.9 L488.8,270.3 L486.6,271.9 L484.2,273.7 L482.5,274.9 L480.7,276.1 L478.9,277.5 L477.1,278.8 L475.2,280.1 L473.3,281.5 L471.4,282.9 L469.5,284.2 L467.6,285.6 L465.8,286.9 L464,288.2 L462.2,289.4 L460.5,290.7 L458.8,291.9 L457.1,293.1 L455.5,294.3 L453.8,295.5 L452.1,296.7 L450.4,297.9 L448.7,299.1 L446.3,300.8 L444,302.4 L441.8,304 L439.5,305.6 L437.1,307.2 L434.7,308.9 L433,310 L431.3,311.1 L429.6,312.2 L427.1,313.8 L424.7,315.3 L422.2,316.8 L419.7,318.4 L417.1,319.9 L415.4,321 L413.6,322 L411.8,323.1 L410,324.2 L408.2,325.3 L406.3,326.4 L404.5,327.5 L402.7,328.6 L400.8,329.7 L399,330.9 L397.2,332 L395.4,333.1 L393.6,334.2 L391.8,335.4 L390.1,336.5 L388.4,337.6 L386.6,338.7 L384.9,339.9 L383.2,341 L381.5,342.2 L379.8,343.4 L378,344.6 L376.3,345.7 L374.6,346.9 L372.8,348.1 L371.1,349.3 L369.4,350.5 L367.7,351.7 L366,352.9 L364.3,354.1 L362.6,355.2 L361,356.3 L358.6,358 L356.1,359.7 L353.7,361.3 L351.3,362.9 L349.5,364 L347.8,365.1 L346,366.2 L344.2,367.3 L342.4,368.4 L340.6,369.4 L338.8,370.5 L337,371.5 L334.4,373 L331.9,374.4 L329.4,375.9 L326.8,377.4 L324.3,378.9 L321.8,380.5 L319.3,382.1 L316.9,383.8 L314.6,385.5 L312.3,387.1 L310,388.8 L307.8,390.6 L305.5,392.3 L303.1,394.1 L301.5,395.4 L299.9,396.6 L298.2,397.8 L296.4,399.1 L294.7,400.4 L293,401.6 L291.2,402.8 L289.5,404 L287.8,405.1 L286.1,406.2 L284.5,407.3 L282.8,408.4 L281,409.5 L279.3,410.7 L277.5,411.8 L275.7,412.9 L273.8,414.1 L272,415.3 L270.1,416.4 L268.2,417.6 L266.4,418.7 L264.5,419.9 L262.7,421.1 L260.8,422.2 L259,423.3 L257.3,424.4 L255.5,425.5 L253,427.1 L250.6,428.6 L248.1,430.2 L245.6,431.9 L243.8,433 L242,434.2 L240.2,435.5 L238.3,436.7 L236.6,437.9 L234.9,439.1 L232.5,440.8 L230.2,442.4 L228,444 L225.7,445.6 L223.4,447.3 L221.7,448.5 L220,449.7 L218.2,451 L216.4,452.3 L214.5,453.6 L212.6,455 L210.8,456.3 L208.9,457.6 L207.2,458.8 L205.5,460 L203.2,461.7 L201.2,463.1 L199.3,464.5 Z" fill="#8cbedc" stroke="#1a3f66" stroke-width="2.6" stroke-linejoin="round"/>
<path d="M480.2,249.8 L481.9,248 L483.8,246.2 L485.9,244.1 L487.4,242.6 L489,241.1 L490.5,239.6 L492.2,238.1 L493.8,236.7 L495.4,235.3 L497,234 L498.7,232.7 L500.3,231.5 L502,230.3 L503.7,229.2 L506.2,227.6 L508.8,226.1 L511.4,224.8 L514.1,223.6 L516.9,222.6 L519.7,221.7 L521.6,221.1 L523.6,220.6 L525.6,220.1 L527.6,219.6 L529.6,219.2 L531.7,218.8 L533.7,218.4 L535.8,218.1 L537.9,217.8 L540,217.6 L542,217.4 L544,217.3 L547,217.3 L549.9,217.4 L552.9,217.7 L555.8,218 L558.7,218.4 L561.7,218.8 L563.7,219.1 L565.7,219.3 L567.7,219.5 L569.8,219.8 L571.9,220.1 L574,220.4 L576,220.8 L578.1,221.2 L580.2,221.6 L582.2,222.2 L584.2,222.8 L586.2,223.4 L588.1,224.1 L590,224.9 L591.9,225.7 L593.8,226.5 L595.7,227.4 L597.6,228.3 L599.4,229.2 L601.2,230.2 L603,231.2 L604.8,232.2 L606.5,233.3 L608.3,234.3 L610,235.4 L611.6,236.6 L613.3,237.8 L614.9,239 L616.5,240.2 L618,241.5 L619.6,242.8 L621,244.2 L622.5,245.6 L623.9,247.1 L625.3,248.6 L626.7,250.1 L628,251.7 L629.3,253.3 L630.6,254.9 L631.8,256.5 L633.1,258.2 L634.3,259.9 L635.5,261.6 L636.7,263.3 L637.8,265 L638.9,266.7 L640.1,268.4 L641.1,270.2 L642.2,272 L643.2,273.8 L644.2,275.6 L645.2,277.3 L646.1,279.1 L647.5,281.8 L648.8,284.4 L650.1,287.1 L650.9,289 L651.8,290.8 L652.5,292.7 L653.3,294.5 L654.3,297.3 L655.3,300.2 L655.9,302.1 L656.4,304 L657,306 L657.5,308 L657.9,310 L658.4,312 L658.8,314 L659.2,316.1 L659.6,318.1 L660,320.2 L660.4,322.4 L660.8,324.5 L661.2,326.7 L661.6,328.8 L661.9,330.8 L662.4,333.6 L662.9,336.2 L663,337 L634,335 L633.8,332.5 L633.5,329.7 L633.1,326.8 L632.9,324.7 L632.6,322.5 L632.3,320.4 L631.9,318.3 L631.5,316.2 L631.1,314.1 L630.7,312.1 L630.2,310.1 L629.6,308.1 L629.1,306.1 L628.5,304.1 L627.8,302.1 L627.1,300.2 L626.4,298.2 L625.6,296.3 L624.8,294.4 L624,292.5 L623.1,290.6 L622.2,288.7 L621.2,286.9 L620.2,285.1 L619.2,283.3 L618.1,281.5 L617,279.8 L615.8,278.1 L614.7,276.5 L613.4,274.9 L612.1,273.3 L610.8,271.8 L609.4,270.3 L607.9,268.8 L606.4,267.4 L604.9,266 L603.3,264.7 L601.7,263.5 L600.1,262.3 L598.4,261.1 L596.7,259.9 L595,258.8 L593.2,257.8 L591.4,256.7 L589.6,255.7 L587.7,254.8 L585.9,254 L584,253.2 L582.1,252.6 L580.1,252 L578.1,251.5 L576,251.1 L573.9,250.9 L571.9,250.6 L569.8,250.5 L567.7,250.3 L565.7,250.2 L563.7,250.1 L561.7,250 L559.7,249.9 L557.6,249.7 L555.6,249.5 L553.6,249.3 L550.7,249.1 L547.8,249 L544.8,249 L541.8,249.3 L539.8,249.5 L537.8,249.8 L535.8,250.2 L533.8,250.6 L531.8,251.2 L529.8,251.8 L527.9,252.5 L526,253.2 L524.1,254 L522.2,254.9 L520.3,255.8 L518.4,256.8 L516.5,257.9 L514.6,259 L512.8,260.2 L510.9,261.4 L509,262.6 L507.2,263.9 L505.5,265.1 L503.8,266.2 L501.5,267.9 L499.4,269.4 Z" fill="#588abc" stroke="#1a3f66" stroke-width="2.6" stroke-linejoin="round"/>
<path d="M498.3,265.4 L500.2,263.6 L502.3,261.6 L503.7,260.2 L505.3,258.8 L506.9,257.4 L508.6,256 L510.3,254.6 L512,253.3 L513.7,252 L515.5,250.9 L517.2,249.7 L519,248.7 L520.9,247.7 L522.8,246.7 L524.7,245.9 L526.6,245.1 L528.6,244.4 L530.7,243.8 L532.7,243.3 L534.8,242.8 L536.9,242.4 L538.9,242.1 L541,241.8 L543,241.6 L545,241.5 L548,241.6 L550.9,241.8 L553.8,242.2 L556.8,242.7 L559.7,243.1 L562.7,243.4 L564.7,243.6 L566.7,243.7 L568.8,243.8 L570.8,244 L572.9,244.2 L575,244.4 L577.1,244.7 L579.1,245.1 L581.1,245.6 L583.1,246.1 L585,246.7 L586.9,247.4 L588.8,248.1 L590.6,248.9 L592.5,249.7 L594.3,250.6 L596.1,251.6 L597.9,252.5 L599.6,253.6 L601.4,254.7 L603,255.8 L604.7,257 L606.3,258.2 L607.9,259.5 L609.5,260.8 L611,262.2 L612.5,263.6 L614,265 L615.4,266.5 L616.8,268 L618.2,269.5 L619.5,271 L620.8,272.6 L622.1,274.1 L623.4,275.7 L624.6,277.4 L625.8,279 L627,280.7 L628.1,282.4 L629.2,284.1 L630.7,286.7 L632.1,289.3 L633.4,291.9 L634.6,294.6 L635.6,297.3 L636.6,300.1 L637.4,302.9 L637.9,304.9 L638.3,306.9 L638.6,308.9 L639,311 L639.2,313.1 L639.5,315.3 L639.7,317.5 L639.8,319.8 L640,322 L640.1,324.2 L640.2,326.4 L640.3,328.4 L640.4,331.2 L640.5,333.7 L640.5,334.5 L634,335 L633.8,332.5 L633.5,329.7 L633.1,326.8 L632.9,324.7 L632.6,322.5 L632.3,320.4 L631.9,318.3 L631.5,316.2 L631.1,314.1 L630.7,312.1 L630.2,310.1 L629.6,308.1 L629.1,306.1 L628.5,304.1 L627.8,302.1 L627.1,300.2 L626.4,298.2 L625.6,296.3 L624.8,294.4 L624,292.5 L623.1,290.6 L622.2,288.7 L621.2,286.9 L620.2,285.1 L619.2,283.3 L618.1,281.5 L617,279.8 L615.8,278.1 L614.7,276.5 L613.4,274.9 L612.1,273.3 L610.8,271.8 L609.4,270.3 L607.9,268.8 L606.4,267.4 L604.9,266 L603.3,264.7 L601.7,263.5 L600.1,262.3 L598.4,261.1 L596.7,259.9 L595,258.8 L593.2,257.8 L591.4,256.7 L589.6,255.7 L587.7,254.8 L585.9,254 L584,253.2 L582.1,252.6 L580.1,252 L578.1,251.5 L576,251.1 L573.9,250.9 L571.9,250.6 L569.8,250.5 L567.7,250.3 L565.7,250.2 L563.7,250.1 L561.7,250 L559.7,249.9 L557.6,249.7 L555.6,249.5 L553.6,249.3 L550.7,249.1 L547.8,249 L544.8,249 L541.8,249.3 L539.8,249.5 L537.8,249.8 L535.8,250.2 L533.8,250.6 L531.8,251.2 L529.8,251.8 L527.9,252.5 L526,253.2 L524.1,254 L522.2,254.9 L520.3,255.8 L518.4,256.8 L516.5,257.9 L514.6,259 L512.8,260.2 L510.9,261.4 L509,262.6 L507.2,263.9 L505.5,265.1 L503.8,266.2 L501.5,267.9 L499.4,269.4 Z" fill="#6ea3cf" stroke="#1a3f66" stroke-width="2.6" stroke-linejoin="round"/>
<path d="M634,335 L632.2,336.9 L630.7,338.4 L629,340.1 L627.2,341.9 L625.2,343.9 L623.1,346 L621.7,347.5 L620.1,349.1 L618.5,350.7 L616.9,352.4 L615.3,354.1 L613.6,355.8 L611.9,357.6 L610.2,359.4 L608.5,361.1 L606.9,362.8 L605.4,364.5 L604,366 L602,368.1 L600.2,370.2 L598.3,372.2 L596.5,374.3 L594.6,376.4 L592.7,378.6 L590.7,380.8 L588.7,383.1 L587.4,384.6 L586,386.1 L584.7,387.7 L583.3,389.2 L581.9,390.8 L580.5,392.3 L579.1,393.9 L577.7,395.5 L576.2,397.1 L574.8,398.7 L573.3,400.3 L571.9,401.9 L570.4,403.4 L569,405 L567.5,406.6 L566,408.2 L564.5,409.7 L563,411.2 L561.6,412.7 L560.2,414.2 L558.7,415.6 L556.6,417.7 L554.5,419.8 L552.4,421.9 L550.3,423.9 L548.2,426 L546,428.1 L544.6,429.4 L543.1,430.8 L541.7,432.2 L540.2,433.6 L538.7,435 L537.2,436.4 L535.7,437.8 L534.2,439.1 L532.8,440.5 L531.2,441.9 L529.7,443.3 L528.2,444.7 L526.7,446.1 L525.2,447.5 L523.7,448.9 L522.2,450.3 L520.7,451.6 L519.2,453 L517.7,454.4 L516.2,455.8 L514.7,457.1 L513.2,458.5 L511.7,459.9 L510.2,461.2 L508.7,462.6 L507.2,464 L505.7,465.4 L504.2,466.7 L502.7,468.1 L501.1,469.5 L499.6,470.9 L498,472.4 L496.4,473.8 L494.8,475.2 L493.2,476.7 L491.6,478.1 L489.9,479.6 L488.3,481 L486.7,482.5 L485,483.9 L483.4,485.4 L481.8,486.8 L480.2,488.3 L478.5,489.7 L476.9,491.1 L475.3,492.5 L473.7,493.9 L472.1,495.3 L470.6,496.7 L469,498.1 L467.5,499.5 L466,500.8 L463.8,502.8 L461.6,504.8 L459.5,506.7 L457.5,508.5 L455.5,510.4 L453.5,512.2 L451.5,514.2 L450,515.6 L448.5,517.1 L446.9,518.6 L445.3,520.3 L443.7,522 L442.2,523.6 L440.7,525.3 L439.3,526.8 L437.9,528.4 L436,530.6 L434.2,532.7 L432.5,534.7 L430.8,536.7 L429,538.7 L427.2,540.6 L425.2,542.6 L423.1,544.6 L420.9,546.6 L419.4,548 L417.8,549.3 L416.2,550.6 L414.7,551.9 L413.1,553.2 L411.5,554.5 L409.9,555.7 L408.3,556.9 L406.7,558.2 L404.3,560 L402,561.8 L400.3,562.9 L398.7,564.1 L397.1,565.4 L395.5,566.6 L393.8,567.8 L392.2,569 L390.5,570.2 L388.8,571.4 L387.1,572.6 L385.5,573.8 L383.8,574.9 L382.1,576.1 L380.4,577.2 L378.7,578.4 L377,579.5 L375.3,580.7 L373.6,581.8 L371.9,583 L370.2,584.2 L368.4,585.3 L366.6,586.6 L364.7,587.8 L362.8,589 L360.9,590.2 L358.9,591.5 L357,592.7 L355.1,593.9 L353.3,595.1 L351.5,596.2 L349.1,597.8 L346.9,599.2 L344.9,600.4 L343,601.6 L376.5,614.4 L378.3,613 L380.1,611.4 L382.2,609.7 L384.6,607.8 L386.3,606.4 L388,605 L389.8,603.5 L391.6,602.1 L393.3,600.6 L395.1,599.2 L396.8,597.8 L398.4,596.5 L400,595.2 L401.6,594 L403.2,592.7 L404.8,591.5 L406.3,590.2 L407.9,588.9 L409.5,587.7 L411.2,586.4 L412.8,585.1 L414.4,583.8 L416.1,582.5 L417.7,581.2 L419.3,579.9 L420.9,578.6 L422.5,577.3 L424,576 L426.4,574.2 L428.6,572.3 L430.8,570.5 L433,568.7 L435.2,566.9 L437.5,565.1 L439.8,563.1 L441.4,561.8 L443,560.5 L444.6,559.1 L446.3,557.7 L447.9,556.3 L449.5,554.9 L451,553.6 L453.2,551.7 L455.3,549.9 L457.4,548.1 L459.6,546.2 L461.8,544.3 L464,542.4 L465.5,541.1 L467,539.7 L468.6,538.4 L470.1,537 L471.7,535.6 L473.3,534.2 L474.9,532.8 L476.4,531.4 L478,530 L479.6,528.6 L481.2,527.2 L482.7,525.7 L484.3,524.3 L485.8,522.9 L487.4,521.5 L488.9,520.1 L490.4,518.7 L491.8,517.3 L493.3,515.9 L494.8,514.5 L496.2,513.1 L497.7,511.7 L499.2,510.3 L500.7,508.9 L502.2,507.4 L503.7,505.9 L505.2,504.5 L506.7,503 L508.2,501.5 L509.7,500.1 L511.2,498.6 L512.6,497.2 L514.1,495.7 L515.6,494.3 L517,492.8 L518.5,491.4 L519.9,490 L522,487.9 L524.1,485.9 L526.1,483.8 L528.2,481.8 L530.4,479.7 L531.8,478.2 L533.4,476.7 L534.9,475.2 L536.4,473.7 L538,472.2 L539.5,470.7 L541,469.2 L542.5,467.7 L544,466.3 L545.4,464.9 L547.5,462.8 L549.6,460.8 L551.6,458.7 L553.6,456.7 L555.5,454.7 L557.5,452.7 L559.5,450.7 L561.5,448.6 L563.4,446.6 L565.3,444.5 L567.1,442.6 L568.9,440.6 L570.7,438.7 L572.5,436.6 L574.5,434.4 L575.9,432.9 L577.3,431.2 L578.8,429.6 L580.3,428 L581.7,426.4 L583.1,424.8 L585,422.7 L586.9,420.6 L588.8,418.6 L590.7,416.5 L592.7,414.3 L594,412.8 L595.4,411.3 L596.8,409.7 L598.2,408.2 L599.6,406.6 L601.1,405 L602.5,403.4 L604,401.8 L605.5,400.2 L606.9,398.5 L608.4,396.9 L609.9,395.3 L611.3,393.7 L612.8,392.1 L614.3,390.5 L615.7,388.9 L617.1,387.3 L618.5,385.8 L619.9,384.2 L621.3,382.7 L622.7,381.2 L624,379.8 L625.4,378.3 L626.8,376.8 L628.2,375.2 L629.7,373.6 L631.2,371.9 L632.8,370.2 L634.4,368.5 L636,366.8 L637.6,365.1 L639.2,363.3 L640.8,361.6 L642.4,359.9 L644,358.3 L645.5,356.6 L647,355 L648.5,353.4 L650,351.8 L651.4,350.3 L652.8,348.9 L654.7,346.8 L656.6,344.8 L658.3,343 L659.8,341.4 L661.3,339.9 L663,338 Z" fill="#98c8e6" stroke="#1a3f66" stroke-width="2.6" stroke-linejoin="round"/>
<path d="M634,335 L632.2,336.9 L630.7,338.4 L629,340.1 L627.2,341.9 L625.2,343.9 L623.1,346 L621.7,347.5 L620.1,349.1 L618.5,350.7 L616.9,352.4 L615.3,354.1 L613.6,355.8 L611.9,357.6 L610.2,359.4 L608.5,361.1 L606.9,362.8 L605.4,364.5 L604,366 L602,368.1 L600.2,370.2 L598.3,372.2 L596.5,374.3 L594.6,376.4 L592.7,378.6 L590.7,380.8 L588.7,383.1 L587.4,384.6 L586,386.1 L584.7,387.7 L583.3,389.2 L581.9,390.8 L580.5,392.3 L579.1,393.9 L577.7,395.5 L576.2,397.1 L574.8,398.7 L573.3,400.3 L571.9,401.9 L570.4,403.4 L569,405 L567.5,406.6 L566,408.2 L564.5,409.7 L563,411.2 L561.6,412.7 L560.2,414.2 L558.7,415.6 L556.6,417.7 L554.5,419.8 L552.4,421.9 L550.3,423.9 L548.2,426 L546,428.1 L544.6,429.4 L543.1,430.8 L541.7,432.2 L540.2,433.6 L538.7,435 L537.2,436.4 L535.7,437.8 L534.2,439.1 L532.8,440.5 L531.2,441.9 L529.7,443.3 L528.2,444.7 L526.7,446.1 L525.2,447.5 L523.7,448.9 L522.2,450.3 L520.7,451.6 L519.2,453 L517.7,454.4 L516.2,455.8 L514.7,457.1 L513.2,458.5 L511.7,459.9 L510.2,461.2 L508.7,462.6 L507.2,464 L505.7,465.4 L504.2,466.7 L502.7,468.1 L501.1,469.5 L499.6,470.9 L498,472.4 L496.4,473.8 L494.8,475.2 L493.2,476.7 L491.6,478.1 L489.9,479.6 L488.3,481 L486.7,482.5 L485,483.9 L483.4,485.4 L481.8,486.8 L480.2,488.3 L478.5,489.7 L476.9,491.1 L475.3,492.5 L473.7,493.9 L472.1,495.3 L470.6,496.7 L469,498.1 L467.5,499.5 L466,500.8 L463.8,502.8 L461.6,504.8 L459.5,506.7 L457.5,508.5 L455.5,510.4 L453.5,512.2 L451.5,514.2 L450,515.6 L448.5,517.1 L446.9,518.6 L445.3,520.3 L443.7,522 L442.2,523.6 L440.7,525.3 L439.3,526.8 L437.9,528.4 L436,530.6 L434.2,532.7 L432.5,534.7 L430.8,536.7 L429,538.7 L427.2,540.6 L425.2,542.6 L423.1,544.6 L420.9,546.6 L419.4,548 L417.8,549.3 L416.2,550.6 L414.7,551.9 L413.1,553.2 L411.5,554.5 L409.9,555.7 L408.3,556.9 L406.7,558.2 L404.3,560 L402,561.8 L400.3,562.9 L398.7,564.1 L397.1,565.4 L395.5,566.6 L393.8,567.8 L392.2,569 L390.5,570.2 L388.8,571.4 L387.1,572.6 L385.5,573.8 L383.8,574.9 L382.1,576.1 L380.4,577.2 L378.7,578.4 L377,579.5 L375.3,580.7 L373.6,581.8 L371.9,583 L370.2,584.2 L368.4,585.3 L366.6,586.6 L364.7,587.8 L362.8,589 L360.9,590.2 L358.9,591.5 L357,592.7 L355.1,593.9 L353.3,595.1 L351.5,596.2 L349.1,597.8 L346.9,599.2 L344.9,600.4 L343,601.6 L355.5,605.6 L357.4,604.4 L359.4,603.1 L361.6,601.6 L364.1,600 L365.8,598.9 L367.7,597.7 L369.6,596.4 L371.5,595.1 L373.4,593.9 L375.3,592.6 L377.3,591.3 L379.1,590 L381,588.7 L382.7,587.5 L384.4,586.3 L386.1,585.2 L388.5,583.5 L390.8,581.8 L393.1,580.1 L395.4,578.5 L397.7,576.7 L400.1,574.9 L401.7,573.7 L403.4,572.4 L405.1,571 L406.8,569.7 L408.4,568.3 L410,567 L412.3,565.1 L414.4,563.3 L416.5,561.6 L418.6,559.8 L420.6,558 L422.8,556.1 L424.9,554.2 L427.1,552.3 L429.4,550.3 L430.9,548.9 L432.4,547.5 L434,546.1 L435.6,544.7 L437.2,543.2 L438.8,541.7 L440.5,540.3 L442.2,538.7 L443.8,537.2 L445.5,535.7 L447.2,534.3 L448.8,532.8 L450.3,531.4 L452.5,529.5 L454.6,527.6 L456.6,525.7 L458.7,523.9 L460.8,522 L462.9,520.1 L465.1,518.1 L467.3,516.2 L469.5,514.2 L471,512.8 L472.5,511.5 L474,510.1 L475.5,508.8 L477,507.4 L478.5,506 L480.1,504.6 L481.6,503.2 L483.1,501.8 L484.7,500.4 L486.2,499 L487.8,497.6 L489.4,496.2 L490.9,494.8 L492.5,493.4 L494.1,491.9 L495.6,490.5 L497.2,489.1 L498.7,487.7 L500.3,486.3 L501.8,484.9 L503.4,483.5 L504.9,482.1 L506.4,480.8 L508.6,478.8 L510.8,476.8 L513,474.8 L515.3,472.8 L516.8,471.4 L518.3,470.1 L519.8,468.7 L521.3,467.4 L522.8,466 L524.4,464.7 L525.9,463.3 L527.4,461.9 L529,460.6 L530.5,459.2 L532,457.8 L533.6,456.4 L535.1,455 L536.6,453.7 L538.2,452.3 L539.7,450.9 L541.2,449.5 L542.7,448.1 L544.2,446.8 L545.8,445.4 L547.2,444 L548.7,442.6 L550.2,441.3 L551.7,439.9 L553.9,437.8 L556,435.8 L558.1,433.7 L560.2,431.7 L562.3,429.6 L564.5,427.5 L565.9,426.1 L567.3,424.6 L568.8,423.1 L570.3,421.5 L571.8,420 L573.3,418.4 L574.8,416.8 L576.2,415.2 L577.7,413.7 L579.2,412.1 L580.6,410.5 L582,408.9 L583.5,407.3 L584.9,405.7 L586.3,404.2 L587.7,402.6 L589.1,401 L590.4,399.5 L591.8,397.9 L593.1,396.4 L594.5,394.8 L595.8,393.3 L597.7,391 L599.6,388.8 L601.5,386.6 L603.3,384.4 L605.1,382.2 L606.9,380.1 L608.7,378 L610.5,375.8 L611.8,374.2 L613.1,372.6 L614.5,370.8 L616,369 L617.5,367.1 L619,365.2 L620.5,363.3 L621.9,361.4 L623.4,359.5 L624.8,357.7 L626.1,355.8 L627.4,354 L628.7,352.3 L630,350.6 L631.2,348.9 L632.9,346.5 L634.5,344.3 L636,342.2 L637.4,340.3 L638.6,338.6 L640.1,336.5 L640.5,336 Z" fill="#a3cfee" stroke="#1a3f66" stroke-width="2.6" stroke-linejoin="round"/>
<path d="M200,476 L201.8,474.6 L203.8,473.1 L206,471.5 L207.6,470.2 L209.3,469 L211.1,467.6 L212.9,466.3 L214.7,464.9 L216.5,463.5 L218.3,462.1 L220.1,460.7 L221.8,459.4 L223.5,458.1 L225.1,456.8 L226.7,455.5 L228.3,454.2 L229.9,452.9 L231.5,451.7 L233.2,450.4 L234.8,449.1 L236.4,447.8 L238,446.5 L239.7,445.3 L241.3,444 L243,442.8 L244.6,441.6 L246.3,440.4 L248,439.3 L249.7,438.1 L251.4,437 L253.1,435.9 L254.9,434.8 L256.6,433.7 L258.3,432.6 L260,431.6 L261.8,430.5 L264.3,429 L266.8,427.4 L269.3,425.9 L271.8,424.3 L274.4,422.8 L276.8,421.2 L279.3,419.7 L281.8,418.1 L283.5,417 L285.2,415.9 L286.9,414.7 L288.7,413.6 L290.3,412.4 L292.8,410.7 L295.1,409 L297.5,407.2 L299.9,405.4 L301.5,404.2 L303.2,402.9 L304.8,401.7 L306.5,400.4 L308.2,399.1 L309.9,397.9 L311.6,396.6 L313.3,395.4 L315,394.2 L316.7,393 L318.3,391.8 L320,390.7 L321.7,389.6 L324.2,387.9 L326.6,386.4 L329.1,384.8 L331.5,383.4 L334,381.9 L336.5,380.4 L339.1,378.9 L340.8,377.8 L342.6,376.8 L344.3,375.7 L346.1,374.6 L347.9,373.5 L349.6,372.4 L351.3,371.4 L353.8,369.8 L356.3,368.2 L358.7,366.7 L361.2,365 L362.9,364 L364.6,362.8 L366.4,361.7 L368.1,360.6 L369.8,359.5 L371.6,358.3 L373.4,357.2 L375.1,356 L376.9,354.9 L378.6,353.8 L380.4,352.6 L382.2,351.5 L383.9,350.4 L385.7,349.3 L387.4,348.2 L389.1,347.1 L390.9,346 L392.6,344.9 L394.4,343.8 L396.1,342.7 L397.9,341.6 L399.7,340.5 L401.5,339.4 L403.3,338.3 L405.1,337.2 L406.9,336.1 L408.7,335 L410.5,333.9 L412.2,332.8 L414,331.8 L415.7,330.7 L417.4,329.6 L419.9,328.1 L422.4,326.6 L424.8,325.1 L427.2,323.6 L429.7,322 L431.4,320.9 L433.2,319.7 L435,318.5 L436.8,317.4 L438.6,316.2 L440.3,315 L442,313.9 L444.4,312.3 L446.8,310.6 L449,309 L451.3,307.4 L453.6,305.7 L455.9,303.9 L458.2,302.1 L460.5,300.2 L462.8,298.3 L465,296.4 L467.3,294.5 L469.5,292.6 L471.1,291.3 L472.6,290 L474.2,288.7 L475.9,287.4 L477.6,286 L479.3,284.7 L481.1,283.3 L482.9,281.9 L484.7,280.5 L486.5,279.1 L488.3,277.8 L490.1,276.4 L491.8,275.2 L493.4,273.9 L495.6,272.3 L497.6,270.8 L499.4,269.4 L501.5,267.9 L503.8,266.2 L505.5,265.1 L507.2,263.9 L509,262.6 L510.9,261.4 L512.8,260.2 L514.6,259 L516.5,257.9 L518.4,256.8 L520.3,255.8 L522.2,254.9 L524.1,254 L526,253.2 L527.9,252.5 L529.8,251.8 L531.8,251.2 L533.8,250.6 L535.8,250.2 L537.8,249.8 L539.8,249.5 L541.8,249.3 L543.8,249.1 L546.8,249 L549.7,249.1 L552.6,249.3 L555.6,249.5 L557.6,249.7 L559.7,249.9 L561.7,250 L563.7,250.1 L565.7,250.2 L567.7,250.3 L569.8,250.5 L571.9,250.6 L573.9,250.9 L576,251.1 L578.1,251.5 L580.1,252 L582.1,252.6 L584,253.2 L585.9,254 L587.7,254.8 L589.6,255.7 L591.4,256.7 L593.2,257.8 L595,258.8 L596.7,259.9 L598.4,261.1 L600.1,262.3 L601.7,263.5 L603.3,264.7 L604.9,266 L606.4,267.4 L607.9,268.8 L609.4,270.3 L610.8,271.8 L612.1,273.3 L613.4,274.9 L614.7,276.5 L615.8,278.1 L617,279.8 L618.1,281.5 L619.2,283.3 L620.2,285.1 L621.2,286.9 L622.2,288.7 L623.1,290.6 L624,292.5 L624.8,294.4 L625.6,296.3 L626.4,298.2 L627.1,300.2 L627.8,302.1 L628.5,304.1 L629.1,306.1 L629.6,308.1 L630.2,310.1 L630.7,312.1 L631.1,314.1 L631.5,316.2 L631.9,318.3 L632.3,320.4 L632.6,322.5 L632.9,324.7 L633.1,326.8 L633.4,328.8 L633.7,331.6 L633.9,334.2 L634,335 L632.2,336.9 L630.7,338.4 L629,340.1 L627.2,341.9 L625.2,343.9 L623.1,346 L621.7,347.5 L620.1,349.1 L618.5,350.7 L616.9,352.4 L615.3,354.1 L613.6,355.8 L611.9,357.6 L610.2,359.4 L608.5,361.1 L606.9,362.8 L605.4,364.5 L604,366 L602,368.1 L600.2,370.2 L598.3,372.2 L596.5,374.3 L594.6,376.4 L592.7,378.6 L590.7,380.8 L588.7,383.1 L587.4,384.6 L586,386.1 L584.7,387.7 L583.3,389.2 L581.9,390.8 L580.5,392.3 L579.1,393.9 L577.7,395.5 L576.2,397.1 L574.8,398.7 L573.3,400.3 L571.9,401.9 L570.4,403.4 L569,405 L567.5,406.6 L566,408.2 L564.5,409.7 L563,411.2 L561.6,412.7 L560.2,414.2 L558.7,415.6 L556.6,417.7 L554.5,419.8 L552.4,421.9 L550.3,423.9 L548.2,426 L546,428.1 L544.6,429.4 L543.1,430.8 L541.7,432.2 L540.2,433.6 L538.7,435 L537.2,436.4 L535.7,437.8 L534.2,439.1 L532.8,440.5 L531.2,441.9 L529.7,443.3 L528.2,444.7 L526.7,446.1 L525.2,447.5 L523.7,448.9 L522.2,450.3 L520.7,451.6 L519.2,453 L517.7,454.4 L516.2,455.8 L514.7,457.1 L513.2,458.5 L511.7,459.9 L510.2,461.2 L508.7,462.6 L507.2,464 L505.7,465.4 L504.2,466.7 L502.7,468.1 L501.1,469.5 L499.6,470.9 L498,472.4 L496.4,473.8 L494.8,475.2 L493.2,476.7 L491.6,478.1 L489.9,479.6 L488.3,481 L486.7,482.5 L485,483.9 L483.4,485.4 L481.8,486.8 L480.2,488.3 L478.5,489.7 L476.9,491.1 L475.3,492.5 L473.7,493.9 L472.1,495.3 L470.6,496.7 L469,498.1 L467.5,499.5 L466,500.8 L463.8,502.8 L461.6,504.8 L459.5,506.7 L457.5,508.5 L455.5,510.4 L453.5,512.2 L451.5,514.2 L450,515.6 L448.5,517.1 L446.9,518.6 L445.3,520.3 L443.7,522 L442.2,523.6 L440.7,525.3 L439.3,526.8 L437.9,528.4 L436,530.6 L434.2,532.7 L432.5,534.7 L430.8,536.7 L429,538.7 L427.2,540.6 L425.2,542.6 L423.1,544.6 L420.9,546.6 L419.4,548 L417.8,549.3 L416.2,550.6 L414.7,551.9 L413.1,553.2 L411.5,554.5 L409.9,555.7 L408.3,556.9 L406.7,558.2 L404.3,560 L402,561.8 L400.3,562.9 L398.7,564.1 L397.1,565.4 L395.5,566.6 L393.8,567.8 L392.2,569 L390.5,570.2 L388.8,571.4 L387.1,572.6 L385.5,573.8 L383.8,574.9 L382.1,576.1 L380.4,577.2 L378.7,578.4 L377,579.5 L375.3,580.7 L373.6,581.8 L371.9,583 L370.2,584.2 L368.4,585.3 L366.6,586.6 L364.7,587.8 L362.8,589 L360.9,590.2 L358.9,591.5 L357,592.7 L355.1,593.9 L353.3,595.1 L351.5,596.2 L349.1,597.8 L346.9,599.2 L344.9,600.4 L343,601.6 L343,604.2 L342.9,607 L342.9,609 L342.8,611.2 L342.8,613.4 L342.6,615.6 L342.5,617.8 L342.2,620 L342,622.1 L341.7,624.2 L341.3,626.3 L340.9,628.3 L340.5,630.4 L340,632.4 L339.5,634.3 L338.9,636.3 L338.2,638.2 L337.5,640.1 L336.8,642 L336,643.8 L335.1,645.6 L334.2,647.4 L333.3,649.2 L332.3,650.9 L331.2,652.6 L330.1,654.3 L329,656 L327.8,657.7 L326.6,659.3 L325.3,660.9 L323.9,662.5 L322.5,664 L321.1,665.5 L319.6,666.9 L318.1,668.3 L316.5,669.6 L315,670.8 L313.3,672 L311.6,673.1 L309.9,674.2 L308.2,675.3 L306.4,676.2 L304.6,677.2 L302.8,678.1 L300.9,678.9 L299,679.6 L297.1,680.4 L295.1,681 L293.1,681.6 L291.1,682.1 L289,682.6 L287,683 L284.9,683.3 L282.9,683.5 L280.8,683.7 L278.7,683.9 L276.7,684 L274.6,684 L272.6,684 L269.7,684 L266.8,683.8 L263.9,683.6 L261,683.3 L258.2,682.8 L255.2,682.2 L253.2,681.8 L251.2,681.3 L249.2,680.8 L247.1,680.3 L245.1,679.7 L243,679 L241,678.4 L239,677.6 L237,676.8 L235.1,676 L233.1,675.1 L231.2,674.1 L229.3,673.2 L227.5,672.1 L225.7,671.1 L223.8,670 L222.1,668.9 L220.3,667.7 L218.6,666.5 L216.9,665.3 L215.3,664 L213.7,662.7 L212.1,661.4 L210.5,660 L209,658.7 L207.5,657.3 L206.1,655.9 L204.7,654.4 L203.3,653 L201.9,651.5 L200.5,650 L199.2,648.5 L197.9,647 L196.5,645.5 L195.2,644 L193.8,642.4 L192.4,640.8 L191.1,639.3 L189.7,637.7 L188.4,636.1 L187.1,634.5 L185.7,632.9 L184.4,631.3 L183.1,629.7 L181.9,628 L180.6,626.4 L179.4,624.7 L178.2,623.1 L177.1,621.4 L176,619.7 L174.9,618 L173.9,616.2 L173,614.5 L172,612.7 L171.1,610.8 L170.3,609 L169.5,607.1 L168.7,605.2 L168,603.4 L167.3,601.5 L166.6,599.5 L166,597.5 L165.4,595.5 L164.9,593.4 L164.5,591.4 L164.1,589.3 L163.8,587.3 L163.5,585.3 L163.3,583.2 L163.1,581.2 L163,579.1 L162.8,577 L162.7,574.9 L162.6,572.8 L162.5,570.7 L162.5,568.6 L162.4,566.5 L162.3,564.4 L162.2,562.3 L162.2,560.2 L162.1,558.1 L162,556 L162,554 L161.9,551.9 L161.9,549.9 L161.9,547.8 L161.9,545.8 L162,543.8 L162,541.8 L162.1,539.8 L162.2,537.7 L162.4,535.7 L162.6,533.6 L162.8,531.6 L163,529.5 L163.3,527.5 L163.7,524.6 L164.2,521.6 L164.5,519.7 L164.8,517.6 L165.1,515.6 L165.5,513.6 L165.9,511.6 L166.4,509.7 L167.2,506.8 L168.3,504 L169.1,502.1 L170,500.3 L171,498.5 L172.1,496.8 L173.2,495.1 L174.5,493.4 L175.7,491.8 L177.1,490.3 L178.5,488.8 L179.9,487.3 L181.4,485.9 L183.1,484.6 L184.8,483.4 L186.6,482.2 L188.4,481.1 L190.3,480.2 L192.2,479.3 L194.1,478.4 L196.7,477.3 L199.2,476.3 L200,476 Z" fill="url(#lInt)" stroke="#1a3f66" stroke-width="2.6" stroke-linejoin="round"/>
<path d="M193.9,438.3 L199.3,464.5 M480.2,249.8 L498.3,266" stroke="#1a3f66" stroke-width="2.4"/>
<path d="M193.3,438.6 L195.2,437.9 L198.1,436.9 L200.9,436 L202.8,435.3 L204.7,434.6 L206.7,433.8 L208.7,433 L210.7,432.2 L212.6,431.2 L214.5,430.3 L216.3,429.3 L218,428.3 L219.8,427.3 L221.5,426.3 L223.2,425.2 L225,424.1 L226.7,422.9 L228.5,421.8 L230.3,420.6 L232,419.4 L233.7,418.2 L235.4,417.1 L237.1,415.9 L238.8,414.8 L240.4,413.6 L242.1,412.4 L243.8,411.2 L245.5,410 L247.2,408.7 L248.8,407.5 L250.4,406.3 L252,405.1 L254.4,403.3 L256.8,401.5 L259.2,399.7 L261.6,398 L264,396.3 L266.5,394.6 L269,393 L270.7,391.9 L272.4,390.8 L274.1,389.6 L275.9,388.5 L277.7,387.4 L279.5,386.3 L281.2,385.2 L283,384.1 L285.5,382.6 L288,381.1 L290.5,379.6 L292.3,378.6 L294,377.5 L295.8,376.5 L297.6,375.5 L299.4,374.4 L301.2,373.4 L303,372.3 L304.8,371.3 L306.6,370.2 L308.3,369.2 L310.1,368.2 L311.9,367.1 L313.7,366.1 L315.5,365 L317.3,364 L319.1,362.9 L320.9,361.9 L322.7,360.8 L324.5,359.8 L326.3,358.7 L328.1,357.7 L329.8,356.6 L331.6,355.6 L334.1,354.1 L336.6,352.6 L339.1,351.1 L341.6,349.6 L344.2,348 L346.7,346.4 L349.1,344.8 L351.5,343.3 L353.9,341.7 L356.3,340.1 L358.7,338.5 L361.2,336.9 L363.6,335.3 L365.9,333.8 L368.2,332.2 L370.6,330.7 L373,329.1 L375.5,327.4 L377.1,326.3 L378.9,325.1 L380.6,324 L382.4,322.8 L384.2,321.6 L386,320.4 L387.8,319.2 L389.6,318 L391.3,316.8 L393,315.7 L395.4,314.1 L397.9,312.4 L399.6,311.3 L401.4,310.1 L403.1,309 L404.9,307.8 L406.6,306.6 L408.4,305.4 L410.2,304.2 L412,303 L413.8,301.8 L415.5,300.6 L417.3,299.5 L419,298.3 L420.7,297.1 L422.3,296 L424.8,294.2 L427.2,292.5 L428.8,291.3 L430.4,290.1 L432.1,288.8 L433.8,287.5 L435.5,286.2 L437.1,284.8 L438.7,283.5 L440.3,282.1 L441.8,280.8 L444.1,278.9 L446.2,277 L448.4,275.1 L450.6,273.2 L452.8,271.3 L455.1,269.4 L456.7,268.1 L458.3,266.8 L460,265.6 L461.6,264.3 L463.3,263.1 L465,261.8 L466.6,260.6 L468.3,259.3 L469.9,258.1 L471.6,256.8 L473.2,255.6 L474.8,254.3 L476.3,253 L477.9,251.7 L479.4,250.3 L481,248.9 L482.5,247.5 L484,246 L485.5,244.4 L487,242.9 L488.5,241.3 L489.9,239.8 L491.3,238.2 L492.7,236.7 L494.1,235.1 L495.4,233.6 L497.4,231.4 L499.4,229.3 L500.8,227.8 L502.2,226.3 L503.6,224.9 L505,223.5 L507.1,221.4 L509.2,219.3 L511.3,217.2 L513.3,215.1 L515.4,213 L517.5,210.8 L518.9,209.3 L520.2,207.8 L521.6,206.3 L523.1,204.8 L524.5,203.2 L525.8,201.7 L527.2,200.1 L528.6,198.6 L529.9,197 L531.2,195.5 L532.5,193.9 L533.8,192.4 L535.1,190.8 L536.3,189.2 L537.6,187.7 L538.8,186.1 L540.1,184.5 L541.3,182.9 L542.5,181.2 L543.7,179.6 L545,178 L546.2,176.3 L547.4,174.6 L548.6,172.9 L549.9,171.2 L551.1,169.4 L552.3,167.7 L553.5,166 L554.7,164.3 L555.9,162.6 L557.1,160.9 L558.3,159.3 L559.6,157.7 L560.9,156.1 L562.1,154.5 L563.5,153 L564.8,151.5 L566.8,149.3 L568.2,147.9 L569.6,146.4 L571,145 L572.4,143.5 L573.9,142.1 L575.3,140.7 L576.8,139.3 L578.2,137.9 L579.6,136.5 L581.1,135.1 L582.6,133.7 L584.2,132.3 L585.7,130.9 L587.3,129.6 L588.9,128.3 L590.5,127.1 L592.1,125.9 L593.8,124.7 L595.6,123.6 L597.3,122.6 L599.1,121.5 L601,120.6 L602.8,119.7 L604.7,118.8 L606.6,118 L608.5,117.3 L610.4,116.6 L612.3,115.9 L614.2,115.3 L616.2,114.7 L618.1,114.2 L620.1,113.7 L622.1,113.2 L624.2,112.8 L626.2,112.5 L628.2,112.2 L630.3,111.9 L632.3,111.7 L634.3,111.5 L636.4,111.4 L638.4,111.3 L640.4,111.2 L642.5,111.1 L644.5,111.1 L646.5,111.1 L648.6,111.2 L650.6,111.2 L652.7,111.4 L654.7,111.6 L656.7,111.8 L658.7,112.1 L660.7,112.5 L662.7,112.9 L664.7,113.4 L666.7,113.9 L668.7,114.5 L670.6,115.1 L672.6,115.8 L674.6,116.5 L676.5,117.3 L678.4,118.1 L680.3,118.9 L682.1,119.8 L684,120.7 L685.7,121.7 L687.5,122.6 L690.1,124.1 L692.6,125.7 L694.3,126.8 L696,128 L697.6,129.2 L699.2,130.4 L700.8,131.7 L702.4,133 L703.9,134.3 L705.4,135.7 L706.8,137.1 L708.2,138.5 L709.7,139.9 L711.1,141.4 L712.4,143 L713.8,144.5 L715.1,146 L716.4,147.6 L717.7,149.2 L718.9,150.8 L720.1,152.4 L721.3,154 L722.5,155.7 L723.6,157.3 L724.7,159 L725.7,160.8 L726.7,162.5 L728.2,165.1 L729.5,167.8 L730.8,170.4 L732,173.2 L732.8,175 L733.5,176.9 L734.2,178.8 L734.9,180.8 L735.6,182.7 L736.2,184.7 L736.7,186.6 L737.3,188.6 L737.8,190.5 L738.3,192.5 L738.7,194.5 L739.1,196.4 L739.5,198.4 L739.9,200.4 L740.2,202.4 L740.5,204.4 L740.7,206.4 L740.9,208.4 L741.1,210.4 L741.2,212.4 L741.2,214.4 L741.3,216.4 L741.2,218.4 L741.2,220.5 L741.1,222.5 L741,224.5 L740.8,226.6 L740.6,228.6 L740.3,230.7 L740.1,232.7 L739.8,234.8 L739.5,236.8 L739.1,238.8 L738.8,240.8 L738.4,242.8 L738,244.7 L737.5,246.7 L737.1,248.7 L736.6,250.6 L736.1,252.6 L735.6,254.5 L735,256.5 L734.4,258.4 L733.8,260.3 L733.2,262.3 L732.5,264.2 L731.9,266.1 L731.1,268 L730.4,269.9 L729.7,271.8 L728.9,273.7 L728.1,275.6 L727.3,277.5 L726.6,279.3 L725.4,282.1 L724.2,284.8 L723.1,287.4 L721.9,290 L720.7,292.7 L719.4,295.3 L718.5,297.1 L717.6,298.9 L716.6,300.7 L715.7,302.4 L714.2,305 L712.6,307.6 L711.1,310.1 L710,311.8 L708.9,313.6 L707.8,315.3 L706.6,317.1 L705.5,318.9 L704.4,320.7 L703.3,322.4 L702.2,324.2 L701.1,325.9 L700,327.7 L699,329.4 L698,331.2 L697,332.9 L696,334.7 L695,336.4 L693.5,339 L692.1,341.6 L690.7,344.2 L689.3,346.8 L687.9,349.4 L686.9,351.2 L685.9,352.9 L684.9,354.7 L684,356.4 L683,358.2 L682,359.9 L681,361.7 L680,363.5 L678.9,365.3 L677.9,367 L676.9,368.8 L675.9,370.6 L674.8,372.3 L673.8,374.1 L672.8,375.8 L671.7,377.5 L670.7,379.2 L669.6,380.9 L668.5,382.6 L667.4,384.3 L666.3,386 L665.2,387.6 L663.5,390.1 L661.8,392.5 L660.1,395 L658.9,396.6 L657.7,398.2 L656.5,399.8 L655.3,401.5 L654.1,403.1 L652.8,404.7 L651.6,406.3 L650.3,407.9 L649.1,409.5 L647.8,411.1 L646.5,412.7 L645.2,414.3 L643.9,415.9 L642.5,417.5 L641.2,419.1 L639.9,420.7 L638.5,422.3 L637.2,423.9 L635.9,425.5 L634.5,427 L633.2,428.6 L631.9,430.1 L630.5,431.7 L629.2,433.2 L627.9,434.7 L626.5,436.2 L625.2,437.7 L623.9,439.2 L622.5,440.7 L620.5,442.9 L618.5,445.1 L616.5,447.3 L614.4,449.5 L612.3,451.7 L610.2,453.8 L608.1,455.9 L606,458 L603.9,460.1 L602.5,461.5 L601,462.9 L599.6,464.4 L598.1,465.8 L596.7,467.3 L595.2,468.8 L593.8,470.3 L592.4,471.7 L591,473.2 L589.6,474.7 L588.2,476.2 L586.8,477.6 L585.4,479.2 L584,480.7 L582.6,482.2 L581.2,483.8 L579.7,485.3 L578.3,486.9 L576.9,488.4 L575.5,489.9 L574.1,491.5 L572.7,493 L571.3,494.5 L570,496.1 L568.6,497.6 L567.2,499.1 L565.8,500.7 L564.4,502.2 L563.1,503.8 L561.7,505.3 L560.3,506.9 L559,508.4 L557.6,509.9 L556.3,511.4 L554.3,513.6 L552.3,515.8 L550.3,518 L548.3,520.1 L546.9,521.6 L545.5,523 L544.1,524.5 L542.7,525.9 L540.5,528 L538.4,530 L536.3,532.1 L534.9,533.5 L533.4,535 L532,536.4 L530.6,537.9 L529.2,539.4 L527.9,540.9 L525.9,543.1 L523.9,545.4 L522.6,546.9 L521.3,548.4 L519.9,550 L518.6,551.6 L517.2,553.1 L515.9,554.7 L514.5,556.3 L513.2,557.8 L511.8,559.4 L510.5,560.9 L509.1,562.4 L507.7,563.9 L506.3,565.4 L504.9,566.9 L503.5,568.3 L502.1,569.8 L500.7,571.2 L499.3,572.6 L497.9,574.1 L495.7,576.2 L493.6,578.2 L491.5,580.3 L489.3,582.4 L487.2,584.5 L485.7,585.9 L484.2,587.3 L482.7,588.7 L481.3,590.2 L479.8,591.6 L478.2,593 L476.7,594.5 L475.2,595.9 L473.7,597.3 L472.2,598.7 L470.7,600.1 L469.2,601.5 L467.6,602.9 L466.1,604.2 L464.5,605.6 L462.9,607 L461.3,608.3 L459.6,609.7 L457.9,611.1 L456.2,612.5 L454.4,613.9 L452.7,615.2 L451,616.5 L449.4,617.8 L447.8,619 L446.1,620.2 L443.7,622 L441.3,623.7 L439.6,624.8 L438,625.9 L435.5,627.5 L433.1,629.2 L430.7,631 L428.4,632.9 L426.9,634.2 L425.3,635.5 L423.8,636.9 L422.2,638.3 L420.6,639.8 L419.1,641.2 L417.5,642.6 L415.9,644.1 L414.3,645.4 L412.7,646.8 L411.1,648.2 L409.5,649.5 L407.9,650.8 L406.3,652.1 L404.7,653.4 L403.1,654.6 L401.5,655.8 L399.9,657.1 L398.2,658.3 L396.6,659.4 L394.9,660.6 L393.3,661.7 L391.6,662.8 L389.1,664.4 L386.6,666 L384.1,667.7 L382.4,668.8 L380.7,669.9 L379,671 L377.4,672.2 L375.7,673.3 L374,674.5 L372.3,675.7 L370.7,676.9 L369,678.1 L367.3,679.3 L365.6,680.4 L363.9,681.6 L362.2,682.8 L360.4,684 L358.6,685.1 L356.9,686.3 L355.1,687.4 L353.4,688.5 L351.7,689.6 L349.2,691.2 L346.7,692.8 L344.2,694.4 L341.7,695.9 L339.3,697.4 L336.8,698.9 L334.2,700.4 L332.5,701.4 L330.7,702.3 L328.9,703.2 L327,704 L325.2,704.8 L323.3,705.6 L321.4,706.4 L319.4,707.1 L317.5,707.8 L315.5,708.5 L313.6,709.2 L311.6,709.8 L309.6,710.4 L307.7,711 L305.7,711.5 L303.7,712 L301.7,712.4 L299.7,712.8 L297.7,713.3 L295.7,713.6 L293.7,714 L291.6,714.3 L289.5,714.6 L287.5,714.8 L285.4,715.1 L283.3,715.2 L281.3,715.3 L279.3,715.4 L276.3,715.4 L273.4,715.3 L270.5,715.1 L268.5,714.9 L266.5,714.6 L264.5,714.3 L262.5,714 L260.5,713.6 L257.6,712.9 L254.8,712.2 L251.9,711.4 L250,710.8 L248,710.2 L246.1,709.6 L244.1,709 L242.1,708.3 L240.1,707.6 L238.2,706.9 L236.3,706.1 L234.4,705.4 L232.5,704.6 L230.6,703.9 L227.9,702.7 L225.1,701.5 L223.3,700.7 L221.5,699.8 L219.7,698.9 L217.9,698 L216.1,697.1 L214.3,696.1 L212.5,695.1 L210.8,694.1 L209.1,693 L207.4,691.9 L205.7,690.7 L204,689.6 L202.4,688.3 L200.7,687.1 L199.1,685.8 L197.5,684.5 L196,683.1 L194.4,681.8 L192.8,680.4 L191.3,679 L189.8,677.6 L188.3,676.1 L186.8,674.7 L185.3,673.2 L183.8,671.8 L182.4,670.3 L180.9,668.8 L179.5,667.3 L178.1,665.7 L176.7,664.2 L175.3,662.6 L173.9,661 L172.5,659.4 L171.2,657.8 L169.9,656.3 L168.6,654.7 L167.3,653 L166.1,651.4 L164.9,649.8 L163.7,648.2 L162.6,646.5 L161.4,644.8 L160.3,643.1 L159.2,641.4 L158.2,639.7 L156.7,637.2 L155.2,634.6 L153.8,631.9 L152.4,629.3 L151.6,627.5 L150.7,625.7 L149.8,623.9 L149,622 L148.2,620.2 L147.4,618.3 L146.6,616.4 L145.8,614.5 L145.1,612.6 L144.3,610.6 L143.6,608.7 L142.9,606.7 L142.3,604.8 L141.6,602.8 L141,600.9 L140.5,598.9 L139.9,597 L139.4,595 L138.9,593 L138.4,591 L138,589 L137.6,587 L137.2,585.1 L136.9,583.1 L136.5,581.1 L136.2,579.1 L135.9,577.1 L135.7,575.1 L135.4,573 L135.2,571 L134.9,569 L134.7,566.9 L134.5,564.8 L134.4,562.7 L134.2,560.6 L134.1,558.5 L134,556.5 L133.9,554.4 L133.8,552.3 L133.8,550.3 L133.7,548.2 L133.7,546.2 L133.6,544.1 L133.6,542 L133.6,539.9 L133.6,537.9 L133.6,535.8 L133.6,533.7 L133.6,531.7 L133.6,529.7 L133.7,527.7 L133.9,524.7 L134.1,521.7 L134.2,519.7 L134.5,517.6 L134.7,515.6 L135,513.5 L135.3,511.5 L135.7,509.4 L136.1,507.5 L136.5,505.5 L136.9,503.5 L137.4,501.5 L138,499.6 L138.5,497.6 L139.2,495.6 L139.8,493.6 L140.5,491.7 L141.3,489.8 L142.1,487.9 L143,486 L143.9,484.2 L144.9,482.4 L145.9,480.5 L147,478.8 L148.1,477 L149.2,475.2 L150.4,473.5 L151.5,471.8 L152.7,470.1 L154,468.5 L155.2,466.9 L156.5,465.3 L157.7,463.7 L159.1,462.1 L160.4,460.5 L161.8,459 L163.2,457.5 L164.6,456 L166,454.5 L167.5,453.1 L169,451.7 L170.6,450.4 L172.2,449.1 L173.9,447.9 L175.6,446.8 L177.3,445.7 L179.1,444.6 L180.9,443.7 L182.8,442.8 L184.6,441.9 L186.5,441.1 L188.5,440.4 L190.4,439.6 Z" fill="none" stroke="#1a3f66" stroke-width="3.2" stroke-linejoin="round"/>
<path d="M299.5,461.3 L304.3,459.4 L309.3,457.4 L314.4,455.2 L319.6,452.8 L325,450.3 L330.4,447.7 L335.9,444.9 L341.5,442 L347.2,439 L352.9,435.9 L358.7,432.7 L364.5,429.4 L370.3,426 L376.1,422.6 L381.9,419.1 L387.8,415.5 L393.6,411.9 L399.3,408.2 L405.1,404.6 L410.8,400.9 L416.4,397.1 L421.9,393.4 L427.4,389.7 L432.7,386 L438,382.3 L443.2,378.6 L448.2,375 L453.1,371.4 L457.8,367.8 L462.4,364.4 L466.8,360.9 L471.1,357.6 L475.2,354.3 L479,351.1 L482.7,348 L486.2,345.1 L489.4,342.2 L492.4,339.4 L495.2,336.8 L497.7,334.3 L507.6,344.2 L521.5,300.1 L477.2,313.8 L487.1,323.7 L484.8,326 L482.2,328.5 L479.4,331.1 L476.3,333.8 L473,336.7 L469.5,339.7 L465.8,342.9 L461.8,346.1 L457.7,349.5 L453.5,352.9 L449,356.4 L444.4,360 L439.7,363.7 L434.9,367.4 L429.9,371.2 L424.8,375.1 L419.7,378.9 L414.4,382.8 L409.1,386.8 L403.7,390.7 L398.3,394.7 L392.8,398.6 L387.3,402.6 L381.8,406.5 L376.3,410.4 L370.7,414.3 L365.2,418.1 L359.7,421.9 L354.3,425.7 L348.9,429.3 L343.5,433 L338.2,436.5 L333,440 L327.9,443.3 L322.9,446.6 L317.9,449.8 L313.1,452.9 L308.5,455.8 L303.9,458.6 L299.5,461.3 Z" fill="#ec5f58" stroke="#8e1419" stroke-width="2" stroke-linejoin="round"/>
<path d="M411.8,454.2 L416.4,452.9 L421,451.5 L425.7,449.9 L430.4,448.3 L435.2,446.5 L440,444.6 L444.9,442.6 L449.7,440.5 L454.6,438.4 L459.5,436.1 L464.4,433.7 L469.2,431.3 L474.1,428.8 L479,426.2 L483.8,423.6 L488.6,420.9 L493.4,418.1 L498.1,415.3 L502.8,412.5 L507.5,409.6 L512,406.7 L516.5,403.7 L521,400.7 L525.4,397.7 L529.7,394.7 L533.9,391.7 L538,388.6 L542,385.6 L545.9,382.6 L549.7,379.5 L553.4,376.5 L557,373.5 L560.5,370.5 L563.8,367.5 L567,364.6 L570.1,361.7 L573,358.8 L575.8,356 L578.4,353.2 L580.8,350.5 L592,360.5 L601.9,315.7 L558.4,330.5 L569.6,340.5 L567.3,343.1 L564.9,345.6 L562.4,348.3 L559.6,351 L556.8,353.7 L553.8,356.6 L550.6,359.4 L547.4,362.4 L544,365.3 L540.5,368.3 L536.9,371.3 L533.2,374.4 L529.4,377.5 L525.5,380.6 L521.5,383.7 L517.4,386.8 L513.3,390 L509.1,393.1 L504.9,396.2 L500.5,399.3 L496.2,402.5 L491.8,405.6 L487.4,408.6 L482.9,411.7 L478.4,414.7 L473.9,417.7 L469.4,420.7 L464.9,423.6 L460.3,426.5 L455.8,429.3 L451.3,432.1 L446.8,434.8 L442.3,437.5 L437.8,440.1 L433.4,442.6 L429,445.1 L424.6,447.5 L420.3,449.8 L416,452.1 L411.8,454.2 Z" fill="#ec5f58" stroke="#8e1419" stroke-width="2" stroke-linejoin="round"/>
<path d="M176,535 L180.9,534.4 L186,533.8 L191.1,533.1 L196.3,532.2 L201.6,531.3 L206.9,530.4 L212.3,529.3 L217.7,528.2 L223.2,527 L228.6,525.8 L234.1,524.4 L239.6,523 L245.2,521.6 L250.7,520.1 L256.1,518.5 L261.6,516.9 L267.1,515.3 L272.5,513.6 L277.8,511.8 L283.1,510 L288.3,508.2 L293.5,506.3 L298.6,504.4 L303.6,502.4 L308.5,500.5 L313.4,498.5 L318.1,496.4 L322.7,494.4 L327.1,492.3 L331.5,490.2 L335.7,488.1 L339.7,486 L343.7,483.8 L347.4,481.7 L351,479.5 L354.4,477.3 L357.7,475.1 L360.7,472.9 L363.6,470.7 L366.2,468.6 L375.8,480.1 L393.7,435.9 L347,445.5 L356.6,457 L354.3,459 L351.8,460.9 L349.1,462.9 L346.2,464.8 L343.1,466.9 L339.8,468.9 L336.3,471 L332.7,473 L328.9,475.1 L324.9,477.2 L320.8,479.4 L316.5,481.5 L312.2,483.6 L307.7,485.7 L303.1,487.9 L298.4,490 L293.6,492.1 L288.7,494.2 L283.8,496.4 L278.7,498.5 L273.7,500.5 L268.5,502.6 L263.3,504.7 L258.1,506.7 L252.9,508.7 L247.6,510.7 L242.3,512.6 L237,514.6 L231.7,516.5 L226.5,518.4 L221.2,520.2 L216,522 L210.8,523.8 L205.6,525.5 L200.5,527.2 L195.5,528.9 L190.5,530.5 L185.6,532 L180.8,533.5 L176,535 Z" fill="#ec5f58" stroke="#8e1419" stroke-width="2" stroke-linejoin="round"/>
<path d="M333.4,574 L335.5,570.9 L337.7,567.8 L340.1,564.6 L342.6,561.5 L345.2,558.3 L347.9,555.1 L350.7,551.8 L353.6,548.6 L356.7,545.3 L359.8,542.1 L363,538.8 L366.3,535.5 L369.7,532.3 L373.2,529 L376.7,525.7 L380.3,522.5 L384,519.2 L387.8,516 L391.6,512.8 L395.4,509.6 L399.3,506.4 L403.2,503.3 L407.2,500.2 L411.2,497.2 L415.2,494.2 L419.3,491.2 L423.4,488.4 L427.4,485.5 L431.5,482.7 L435.6,480 L439.7,477.4 L443.8,474.8 L447.9,472.3 L451.9,469.9 L455.9,467.6 L459.9,465.3 L463.9,463.2 L467.8,461.2 L471.7,459.2 L475.5,457.4 L482,470.9 L509.3,432.9 L462.6,430.3 L469.1,443.8 L465.1,445.8 L461,447.8 L456.8,450 L452.7,452.3 L448.5,454.6 L444.3,457.1 L440.1,459.7 L435.9,462.4 L431.7,465.1 L427.5,468 L423.3,470.9 L419.2,473.9 L415.1,477 L411,480.1 L406.9,483.3 L402.9,486.6 L398.9,490 L394.9,493.4 L391.1,496.8 L387.3,500.3 L383.5,503.8 L379.9,507.4 L376.3,511.1 L372.8,514.7 L369.4,518.4 L366.1,522.1 L362.9,525.8 L359.8,529.6 L356.8,533.3 L353.9,537.1 L351.2,540.9 L348.6,544.6 L346.1,548.4 L343.8,552.1 L341.7,555.9 L339.7,559.6 L337.8,563.2 L336.2,566.9 L334.7,570.5 L333.4,574 Z" fill="#ec5f58" stroke="#8e1419" stroke-width="2" stroke-linejoin="round"/>
<path d="M214.6,640.5 L216.3,640.8 L217.9,641 L219.6,641.2 L221.3,641.4 L223,641.5 L224.7,641.6 L226.4,641.7 L228,641.7 L229.7,641.7 L231.4,641.7 L233.1,641.7 L234.9,641.6 L236.6,641.4 L238.3,641.3 L240,641.1 L241.7,640.9 L243.4,640.6 L245.1,640.4 L246.9,640.1 L248.6,639.7 L250.3,639.3 L252,638.9 L253.7,638.5 L255.4,638 L257.1,637.6 L258.8,637 L260.5,636.5 L262.2,635.9 L263.9,635.3 L265.6,634.6 L267.3,634 L268.9,633.3 L270.6,632.5 L272.2,631.8 L273.9,631 L275.5,630.2 L277.1,629.3 L278.8,628.4 L280.4,627.5 L281.9,626.6 L289,638.7 L313.8,598.1 L266.2,599.9 L273.3,612 L271.9,612.8 L270.5,613.6 L269.1,614.3 L267.7,615.1 L266.3,615.8 L264.9,616.5 L263.5,617.2 L262,617.9 L260.6,618.5 L259.1,619.2 L257.7,619.8 L256.2,620.5 L254.7,621.1 L253.2,621.7 L251.7,622.4 L250.2,623 L248.7,623.6 L247.2,624.2 L245.7,624.9 L244.2,625.5 L242.7,626.1 L241.2,626.7 L239.7,627.4 L238.2,628 L236.7,628.7 L235.2,629.4 L233.7,630 L232.1,630.7 L230.6,631.4 L229.1,632.2 L227.6,632.9 L226.2,633.7 L224.7,634.4 L223.2,635.2 L221.7,636 L220.3,636.9 L218.8,637.7 L217.4,638.6 L216,639.6 L214.6,640.5 Z" fill="#ec5f58" stroke="#8e1419" stroke-width="2" stroke-linejoin="round"/>
<path d="M227.2,406.8 L211.6,389.9 L217.8,384.2 L192.1,376.6 L197.6,402.8 L203.8,397.1 L219.4,414 Z" fill="#4596d8" stroke="#1c4a7a" stroke-width="2" stroke-linejoin="miter"/>
<path d="M330,347.8 L314.5,331.3 L320.7,325.4 L294.9,318.1 L300.6,344.3 L306.8,338.5 L322.4,355 Z" fill="#4596d8" stroke="#1c4a7a" stroke-width="2" stroke-linejoin="miter"/>
<path d="M433.3,276.5 L417.8,259.6 L424.1,253.9 L398.4,246.2 L403.8,272.4 L410.1,266.7 L425.5,283.5 Z" fill="#4596d8" stroke="#1c4a7a" stroke-width="2" stroke-linejoin="miter"/>
<path d="M618.3,455.8 L635.2,471.7 L629.4,477.9 L655.6,483.6 L648.2,457.8 L642.4,464 L625.5,448.2 Z" fill="#4596d8" stroke="#1c4a7a" stroke-width="2" stroke-linejoin="miter"/>
<path d="M547.1,535.6 L562.7,551.8 L556.5,557.7 L582.4,564.7 L576.3,538.6 L570.2,544.5 L554.7,528.4 Z" fill="#4596d8" stroke="#1c4a7a" stroke-width="2" stroke-linejoin="miter"/>
<path d="M460.6,616.6 L477.5,633.1 L471.5,639.1 L497.6,645.4 L490.8,619.5 L484.8,625.6 L468,609 Z" fill="#4596d8" stroke="#1c4a7a" stroke-width="2" stroke-linejoin="miter"/>
<path d="M1116.6,293.1 L1075,273.2 L1085.4,261.8 L1029.8,264.6 L1048.2,302.8 L1058.5,291.4 L1106.5,314.3 Z" fill="#d42626" stroke="#7f1414" stroke-width="1.6" stroke-linejoin="miter"/>
<path d="M1039.1,357.2 L998.8,338.8 L1008.9,327.2 L953.4,331.1 L972.5,368.9 L982.6,357.3 L1029.4,378.6 Z" fill="#d42626" stroke="#7f1414" stroke-width="1.6" stroke-linejoin="miter"/>
<path d="M949.6,423.9 L910.1,405.6 L920.4,394.1 L864.8,397.6 L883.7,435.5 L893.9,424 L939.8,445.2 Z" fill="#d42626" stroke="#7f1414" stroke-width="1.6" stroke-linejoin="miter"/>
<path d="M923.1,438.7 L925.4,437 L927.7,435.3 L930,433.5 L932.3,431.7 L934.6,429.9 L937,428.1 L938.6,426.8 L940.2,425.6 L941.9,424.3 L943.5,423.1 L945.1,421.8 L947.5,420 L949.8,418.2 L952.2,416.4 L953.8,415.2 L955.4,414 L957.1,412.8 L958.7,411.5 L960.4,410.3 L962,409 L963.7,407.8 L965.4,406.5 L967.1,405.3 L968.7,404.1 L970.4,402.8 L972,401.7 L973.6,400.5 L976,398.8 L978.4,397.1 L980.7,395.6 L983,394 L985.3,392.5 L987.6,390.9 L990,389.3 L991.7,388.1 L993.4,386.9 L995.1,385.7 L996.9,384.4 L998.7,383.1 L1000.4,381.8 L1002.1,380.5 L1003.8,379.2 L1006.1,377.4 L1008.3,375.6 L1010.6,373.8 L1012.9,372 L1014.4,370.7 L1016,369.4 L1017.7,368 L1019.3,366.7 L1020.9,365.3 L1022.6,364 L1024.3,362.6 L1026,361.2 L1027.7,359.8 L1029.3,358.4 L1031,357 L1032.7,355.6 L1034.3,354.2 L1036,352.9 L1037.6,351.6 L1039.2,350.2 L1040.7,348.9 L1043,347.1 L1045.2,345.2 L1047.5,343.4 L1049.8,341.5 L1051.4,340.2 L1053.1,338.8 L1054.8,337.4 L1056.5,336.1 L1058.2,334.7 L1059.8,333.4 L1061.4,332.1 L1063.7,330.3 L1066,328.5 L1068.2,326.7 L1070.3,325 L1072.5,323.3 L1074.7,321.5 L1076.9,319.8 L1079.2,317.9 L1081.5,316.1 L1083.1,314.8 L1084.7,313.6 L1086.3,312.3 L1087.9,311 L1089.5,309.8 L1091.1,308.5 L1092.7,307.2 L1094.3,306 L1095.9,304.7 L1097.5,303.4 L1099.1,302.2 L1100.6,300.9 L1103,299 L1105.3,297.1 L1106.8,295.8 L1108.3,294.5 L1109.9,293.2 L1111.5,291.8 L1113,290.4 L1114.6,289 L1116.1,287.6 L1117.7,286.2 L1119.2,284.8 L1120.7,283.4 L1122.2,282 L1123.6,280.6 L1125.1,279.3 L1126.6,277.9 L1128.8,275.9 L1131,273.9 L1132.5,272.5 L1134.1,271.2 L1135.6,269.9 L1137.1,268.5 L1138.7,267.2 L1140.2,265.9 L1141.8,264.6 L1143.3,263.3 L1144.8,262 L1147.1,260.1 L1149.4,258.2 L1151,256.9 L1152.5,255.6 L1154,254.2 L1155.6,252.9 L1157.1,251.6 L1158.6,250.2 L1160.2,248.9 L1161.7,247.5 L1163.3,246.1 L1164.8,244.8 L1166.3,243.4 L1167.8,242 L1169.4,240.7 L1170.8,239.3 L1173,237.3 L1175.2,235.2 L1176.7,233.8 L1178.2,232.4 L1179.6,230.9 L1181.1,229.4 L1182.6,227.9 L1184.1,226.3 L1185.5,224.8 L1186.9,223.4 L1188.3,221.9 L1190.4,219.8 L1192.5,217.7 L1194,216.3 L1195.5,214.9 L1197.1,213.5 L1198.7,212.1 L1200.3,210.8 L1201.9,209.5 L1203.5,208.3 L1205.1,207.1 L1206.7,205.8 L1208.4,204.7 L1210.2,203.5 L1211.9,202.3 L1213.7,201.2 L1215.5,200.1 L1217.3,199 L1219.2,198 L1221,197.1 L1222.9,196.1 L1224.8,195.3 L1226.7,194.5 L1228.6,193.7 L1230.6,193.1 L1232.5,192.4 L1234.5,191.8 L1236.4,191.3 L1238.5,190.8 L1240.5,190.4 L1242.5,190 L1244.6,189.7 L1246.7,189.4 L1248.8,189.1 L1250.9,188.9 L1252.9,188.7 L1255,188.5 L1257.1,188.4 L1259.2,188.3 L1261.3,188.3 L1263.4,188.3 L1265.5,188.3 L1267.6,188.4 L1269.7,188.5 L1271.8,188.7 L1273.9,189 L1276,189.3 L1278,189.7 L1280.1,190.3 L1282,190.9 L1284,191.6 L1285.9,192.3 L1287.9,193.2 L1289.8,194 L1291.8,194.8 L1293.7,195.6 L1295.7,196.4 L1297.6,197.2 L1299.6,198 L1301.6,198.9 L1303.5,199.7 L1305.4,200.6 L1307.3,201.5 L1309.1,202.5 L1310.9,203.5 L1312.7,204.5 L1314.5,205.5 L1316.3,206.6 L1318,207.7 L1319.7,208.9 L1321.4,210.1 L1323,211.3 L1324.7,212.6 L1326.3,213.9 L1327.9,215.2 L1329.5,216.5 L1331.1,217.9 L1332.7,219.3 L1334.2,220.7 L1335.7,222.1 L1337.2,223.5 L1338.7,224.9 L1340.2,226.4 L1341.6,227.9 L1343.1,229.4 L1344.5,230.9 L1345.9,232.4 L1347.3,234 L1348.6,235.6 L1349.9,237.2 L1351.2,238.9 L1352.5,240.5 L1353.7,242.2 L1354.9,243.9 L1356.1,245.6 L1357.2,247.3 L1358.4,249.1 L1359.4,250.8 L1360.5,252.6 L1361.5,254.4 L1362.4,256.2 L1363.4,258.1 L1364.3,259.9 L1365.2,261.8 L1366,263.6 L1366.8,265.5 L1367.6,267.4 L1368.4,269.3 L1369.1,271.3 L1369.9,273.2 L1370.5,275.1 L1371.2,277.1 L1371.8,279 L1372.4,281 L1372.9,283 L1373.4,284.9 L1373.9,286.9 L1374.4,288.9 L1374.8,290.8 L1375.2,292.8 L1375.5,294.8 L1375.8,296.8 L1376.1,298.8 L1376.3,301.8 L1376.5,304.8 L1376.6,306.8 L1376.6,308.8 L1376.5,310.8 L1376.4,312.8 L1376.3,314.8 L1376.1,316.8 L1375.8,318.8 L1375.5,320.8 L1375.1,322.8 L1374.7,324.8 L1374.2,326.8 L1373.7,328.8 L1373.1,330.8 L1372.5,332.7 L1371.8,334.7 L1371.1,336.6 L1370.4,338.5 L1369.6,340.4 L1368.7,342.2 L1367.8,344.1 L1366.9,345.9 L1366,347.7 L1365,349.5 L1364,351.2 L1362.9,353 L1361.8,354.7 L1360.7,356.4 L1359.5,358.1 L1358.3,359.8 L1357.1,361.4 L1355.8,363.1 L1354.6,364.7 L1353.3,366.3 L1352,368 L1350.8,369.6 L1349.5,371.2 L1348.3,372.8 L1347,374.4 L1345.8,376 L1344.5,377.6 L1343.2,379.2 L1341.9,380.8 L1340.7,382.5 L1339.4,384.1 L1338.1,385.7 L1336.8,387.4 L1335.5,389 L1334.2,390.6 L1332.9,392.3 L1331.6,393.9 L1330.3,395.6 L1329,397.2 L1327.6,398.9 L1326.3,400.5 L1325,402.2 L1323.7,403.8 L1322.3,405.5 L1321,407.1 L1319.7,408.8 L1318.4,410.4 L1317.1,412 L1315.7,413.6 L1314.4,415.3 L1313.2,416.9 L1311.9,418.5 L1310.6,420.1 L1309.4,421.7 L1308.1,423.3 L1306.9,424.9 L1305.7,426.5 L1303.9,428.9 L1302.2,431.3 L1300.4,433.8 L1298.6,436.2 L1296.8,438.6 L1295.7,440.2 L1294.5,441.8 L1293.3,443.4 L1292.1,445.1 L1290.9,446.7 L1289.7,448.4 L1288.6,450 L1287.4,451.6 L1286.2,453.3 L1284.5,455.7 L1282.8,458.2 L1281.2,460.6 L1279.5,463 L1277.9,465.4 L1276.7,467.1 L1275.6,468.7 L1274.5,470.4 L1273.3,472.1 L1272.1,473.8 L1271,475.4 L1269.9,477.1 L1268.7,478.7 L1267.6,480.4 L1266.4,482 L1265.3,483.7 L1264.1,485.4 L1262.9,487.1 L1261.7,488.8 L1260.5,490.5 L1259.3,492.2 L1258,493.9 L1256.8,495.5 L1255.6,497.2 L1254.3,498.8 L1253.1,500.4 L1251.8,502 L1250.5,503.7 L1249.3,505.3 L1248,506.8 L1246.7,508.4 L1245.4,510 L1244.1,511.6 L1242.8,513.1 L1241.5,514.7 L1240.2,516.2 L1238.9,517.8 L1237.6,519.3 L1236.2,520.9 L1234.9,522.4 L1233.5,524 L1232.1,525.6 L1230.8,527.1 L1229.4,528.7 L1228,530.2 L1226.6,531.7 L1225.2,533.3 L1223.8,534.8 L1222.5,536.3 L1221.1,537.8 L1219.7,539.3 L1218.2,540.8 L1216.8,542.3 L1215.4,543.7 L1214,545.2 L1212.5,546.7 L1211.1,548.1 L1209.6,549.6 L1208.2,551 L1206.8,552.4 L1205.3,553.8 L1203.9,555.2 L1202.4,556.6 L1200.9,558 L1199.5,559.4 L1198,560.8 L1196.5,562.1 L1195,563.5 L1193.5,564.8 L1192,566.2 L1190.5,567.5 L1188.2,569.5 L1186.7,570.8 L1185.2,572.1 L1183.7,573.4 L1182.1,574.7 L1180.5,576 L1178.9,577.3 L1177.3,578.7 L1175.7,580 L1174.1,581.3 L1172.5,582.6 L1171,583.9 L1169.4,585.2 L1167.9,586.5 L1165.7,588.5 L1163.6,590.6 L1161.5,592.7 L1159.4,594.9 L1158.1,596.4 L1156.8,597.9 L1155.4,599.4 L1154,601 L1152.7,602.5 L1151.4,604.1 L1149.5,606.3 L1147.6,608.5 L1145.6,610.8 L1144.3,612.3 L1143,613.9 L1141.7,615.4 L1140.3,617 L1138.9,618.6 L1137.5,620.2 L1136.1,621.8 L1134.7,623.3 L1133.3,624.9 L1131.9,626.4 L1130.5,627.9 L1129.1,629.4 L1127.7,630.9 L1126.3,632.4 L1124.9,633.8 L1123.4,635.3 L1122,636.8 L1120.5,638.2 L1119.1,639.7 L1117.6,641.1 L1116.2,642.5 L1114.7,644 L1113.3,645.4 L1111.8,646.8 L1110.4,648.2 L1108.9,649.6 L1107.4,651 L1105.9,652.4 L1104.4,653.7 L1102.9,655.1 L1101.4,656.5 L1099.9,657.8 L1098.4,659.2 L1096.9,660.5 L1095.4,661.8 L1093.9,663.2 L1092.4,664.5 L1090.8,665.8 L1089.3,667.1 L1087.7,668.4 L1086.1,669.7 L1084.5,671 L1082.9,672.3 L1081.2,673.6 L1079.6,674.9 L1077.9,676.2 L1076.3,677.5 L1074.6,678.7 L1072.9,680 L1071.3,681.2 L1069.7,682.4 L1068.1,683.6 L1065.6,685.4 L1064,686.6 L1062.4,687.8 L1060.7,689 L1059.1,690.2 L1057.4,691.4 L1055,693.1 L1052.6,694.7 L1050.1,696.3 L1047.6,697.9 L1045.9,699 L1044.2,700 L1042.4,701.1 L1040.6,702.1 L1038.8,703.1 L1037,704.2 L1035.1,705.2 L1033.3,706.1 L1031.5,707.1 L1029.7,707.9 L1027.8,708.8 L1026,709.5 L1024.1,710.3 L1022.2,710.9 L1020.2,711.5 L1018.3,712 L1015.4,712.7 L1012.5,713.3 L1009.5,713.8 L1007.5,714.1 L1005.5,714.4 L1003.4,714.6 L1001.3,714.8 L999.2,715 L997.1,715.1 L995.1,715.2 L993,715.3 L990.9,715.3 L988.8,715.2 L986.7,715.2 L984.6,715.1 L982.6,714.9 L980.5,714.7 L978.4,714.6 L976.3,714.3 L974.2,714.1 L972.1,713.8 L970,713.5 L968,713.2 L965.9,712.8 L963.8,712.4 L961.8,711.9 L959.8,711.3 L957.8,710.7 L955.8,710.1 L953.9,709.4 L951.9,708.7 L950,707.9 L948.1,707.2 L946.2,706.4 L944.3,705.6 L942.4,704.8 L940.5,704 L938.7,703.2 L936.9,702.4 L935,701.5 L933.2,700.6 L930.6,699.2 L928,697.8 L925.4,696.3 L922.9,694.8 L921.2,693.8 L919.4,692.7 L917.7,691.6 L916,690.5 L913.5,688.9 L911,687.3 L908.6,685.6 L906.1,684 L904.4,682.8 L902.7,681.6 L901,680.4 L899.3,679.2 L897.7,678 L896,676.7 L894.4,675.4 L892.8,674.2 L891.3,672.9 L889.7,671.6 L888.2,670.3 L886.7,668.9 L885.2,667.6 L883.6,666.2 L882.1,664.8 L880.7,663.4 L879.2,662 L877.8,660.6 L876.4,659.1 L875.1,657.6 L873.7,656.1 L872.4,654.6 L871.2,653 L869.9,651.4 L868.7,649.8 L867.6,648.2 L866.4,646.5 L865.3,644.9 L864.3,643.2 L863.2,641.5 L862.2,639.7 L861.2,638 L860.2,636.2 L859.2,634.4 L858.2,632.7 L857.3,630.9 L856.4,629.1 L855.4,627.2 L854.6,625.4 L853.7,623.6 L852.8,621.7 L852,619.8 L851.2,617.9 L850.4,616 L849.7,614 L848.9,612.1 L848.3,610.1 L847.6,608.2 L847,606.2 L846.5,604.1 L845.9,602.1 L845.4,600 L845,598 L844.5,595.9 L844.1,593.8 L843.7,591.7 L843.3,589.6 L843,587.6 L842.6,585.6 L842.3,583.6 L842,581.7 L841.7,579.7 L841.5,577.6 L841.2,575.6 L841,573.6 L840.8,571.6 L840.6,568.6 L840.4,565.7 L840.3,562.8 L840.2,559.9 L840.2,556.9 L840.2,554.8 L840.3,552.8 L840.3,550.7 L840.4,548.7 L840.5,546.6 L840.6,544.6 L840.8,542.5 L841,540.5 L841.3,538.5 L841.6,536.4 L842,534.4 L842.4,532.3 L842.8,530.3 L843.3,528.3 L843.8,526.3 L844.4,524.3 L845,522.3 L845.7,520.3 L846.3,518.4 L847.1,516.4 L847.8,514.5 L848.7,512.5 L849.5,510.6 L850.4,508.7 L851.3,506.9 L852.3,505.1 L853.3,503.3 L854.8,500.7 L856.3,498.2 L858,495.7 L859.2,494 L860.4,492.4 L861.6,490.8 L862.8,489.2 L864.1,487.6 L865.4,486.1 L866.8,484.6 L868.1,483.1 L869.5,481.7 L870.9,480.2 L872.4,478.8 L873.9,477.3 L875.4,475.9 L876.9,474.5 L878.5,473.1 L880,471.7 L881.5,470.3 L883.1,469 L884.6,467.7 L886.2,466.4 L887.7,465.1 L889.3,463.8 L890.9,462.5 L892.5,461.3 L894.1,460 L895.7,458.8 L897.3,457.5 L898.9,456.3 L900.5,455.1 L902.1,453.9 L903.7,452.7 L905.3,451.5 L906.9,450.3 L908.6,449.1 L911,447.4 L913.4,445.7 L915.9,444 L918.3,442.2 L920.7,440.5 Z" fill="url(#rOuter)" stroke="#1a3f66" stroke-width="2.6" stroke-linejoin="round"/>
<path d="M902.8,453.3 L904.7,452 L906.7,450.5 L909,448.9 L910.6,447.8 L912.3,446.6 L914.1,445.3 L915.9,444 L917.7,442.7 L919.5,441.4 L921.2,440.1 L922.9,438.9 L924.6,437.6 L926.9,435.9 L929.2,434.1 L931.5,432.3 L933.8,430.5 L936.2,428.7 L937.8,427.5 L939.4,426.2 L941,424.9 L942.7,423.7 L944.3,422.4 L945.9,421.2 L948.3,419.4 L950.6,417.6 L953,415.8 L954.6,414.6 L956.2,413.4 L957.9,412.1 L959.5,410.9 L961.2,409.6 L962.9,408.4 L964.6,407.1 L966.2,405.9 L967.9,404.7 L969.6,403.5 L971.2,402.2 L972.8,401.1 L975.2,399.3 L977.6,397.7 L979.9,396.1 L982.2,394.5 L984.5,393 L986.8,391.4 L989.2,389.8 L991.7,388.1 L993.4,386.9 L995.1,385.7 L996.9,384.4 L998.7,383.1 L1000.4,381.8 L1002.1,380.5 L1003.8,379.2 L1006.1,377.4 L1008.3,375.6 L1010.6,373.8 L1012.9,372 L1014.4,370.7 L1016,369.4 L1017.7,368 L1019.3,366.7 L1020.9,365.3 L1022.6,364 L1024.3,362.6 L1026,361.2 L1027.7,359.8 L1029.3,358.4 L1031,357 L1032.7,355.6 L1034.3,354.2 L1036,352.9 L1037.6,351.6 L1039.2,350.2 L1040.7,348.9 L1043,347.1 L1045.2,345.2 L1047.5,343.4 L1049.8,341.5 L1051.4,340.2 L1053.1,338.8 L1054.8,337.4 L1056.5,336.1 L1058.2,334.7 L1059.8,333.4 L1061.4,332.1 L1063.7,330.3 L1066,328.5 L1068.2,326.7 L1070.3,325 L1072.5,323.3 L1074.7,321.5 L1076.9,319.8 L1079.2,317.9 L1081.5,316.1 L1083.1,314.8 L1084.7,313.6 L1086.3,312.3 L1087.9,311 L1089.5,309.8 L1091.1,308.5 L1092.7,307.2 L1094.3,306 L1095.9,304.7 L1097.5,303.4 L1099.1,302.2 L1100.6,300.9 L1103,299 L1105.3,297.1 L1106.8,295.8 L1108.3,294.5 L1109.9,293.2 L1111.5,291.8 L1113,290.4 L1114.6,289 L1116.1,287.6 L1117.7,286.2 L1119.2,284.8 L1120.7,283.4 L1122.2,282 L1123.6,280.6 L1125.1,279.3 L1126.6,277.9 L1128.8,275.9 L1131,273.9 L1132.5,272.5 L1134.1,271.2 L1135.6,269.9 L1137.1,268.5 L1138.7,267.2 L1140.2,265.9 L1141.8,264.6 L1143.3,263.3 L1144.8,262 L1147.1,260.1 L1149.4,258.2 L1151,256.9 L1152.5,255.6 L1154,254.2 L1155.6,252.9 L1157.1,251.6 L1158.6,250.2 L1160.2,248.9 L1161.7,247.5 L1163.3,246.1 L1164.8,244.8 L1166.3,243.4 L1167.8,242 L1169.4,240.7 L1170.8,239.3 L1173,237.3 L1175.2,235.2 L1176.7,233.8 L1178.2,232.4 L1179.6,230.9 L1181.1,229.4 L1182.6,227.9 L1184.1,226.3 L1185.5,224.8 L1186.9,223.4 L1188.3,221.9 L1190.4,219.8 L1192.5,217.7 L1194,216.3 L1195.5,214.9 L1197.1,213.5 L1198.7,212.1 L1200.3,210.8 L1201.9,209.5 L1203.5,208.3 L1205.1,207 L1206.8,205.8 L1208.6,204.6 L1210.4,203.4 L1212.3,202.2 L1214.2,201 L1216.1,199.9 L1217.9,198.8 L1220.4,197.4 L1222.8,196 L1187.8,243.6 L1186.7,245.9 L1185.5,248.4 L1184.2,251.1 L1183.2,253.1 L1182.2,255 L1181.2,257 L1180.1,259 L1179.1,260.9 L1178,262.7 L1176.9,264.5 L1175.8,266.2 L1174.1,268.6 L1172.3,270.9 L1170.4,273.2 L1169,274.7 L1167.6,276.1 L1166.2,277.6 L1164.1,279.6 L1161.9,281.6 L1159.7,283.5 L1157.4,285.4 L1155.8,286.7 L1154.2,287.9 L1152.5,289.2 L1150.9,290.6 L1149.3,291.9 L1147.7,293.2 L1146,294.5 L1144.5,295.8 L1142.9,297.2 L1141.3,298.5 L1139.7,299.9 L1138.2,301.3 L1136.6,302.7 L1135,304.1 L1133.4,305.5 L1131.9,306.9 L1130.3,308.2 L1128.8,309.6 L1126.6,311.6 L1124.5,313.6 L1122.3,315.5 L1120.2,317.4 L1118.1,319.3 L1116,321.3 L1113.9,323.2 L1111.8,325.2 L1110.3,326.5 L1108.8,327.9 L1106.7,329.9 L1104.5,331.8 L1102.4,333.8 L1100.3,335.7 L1098.8,337.1 L1097.3,338.5 L1095.8,339.9 L1094.2,341.3 L1092.6,342.8 L1091,344.2 L1089.4,345.7 L1087.8,347.2 L1086.2,348.6 L1084.6,350.1 L1083,351.5 L1081.4,352.9 L1079.9,354.3 L1078.3,355.7 L1076.7,357.1 L1075.1,358.5 L1073.5,360 L1071.9,361.4 L1070.3,362.8 L1068.7,364.3 L1067.1,365.7 L1065.5,367.1 L1063.9,368.5 L1062.3,369.9 L1060.8,371.3 L1059.2,372.6 L1057.7,374 L1055.5,375.9 L1053.3,377.8 L1051,379.7 L1049.5,381 L1047.9,382.3 L1046.4,383.6 L1044.8,384.9 L1042.5,386.7 L1040.2,388.5 L1037.9,390.3 L1035.5,392 L1033,393.7 L1030.6,395.4 L1028.1,397.1 L1025.7,398.7 L1023.2,400.3 L1021.5,401.4 L1019.7,402.6 L1018,403.7 L1016.2,404.8 L1014.4,406 L1012.6,407.1 L1010.8,408.3 L1009,409.4 L1007.2,410.6 L1005.5,411.7 L1003.8,412.9 L1002.1,414 L1000.4,415.2 L998.7,416.3 L997,417.5 L995.4,418.6 L993.8,419.8 L992.1,420.9 L990.5,422.1 L988.8,423.2 L987.2,424.4 L985.5,425.6 L983.9,426.8 L982.2,427.9 L980.5,429.1 L978.8,430.3 L977.2,431.5 L975.5,432.7 L973.8,433.9 L972.2,435.1 L970.5,436.3 L968.9,437.6 L967.3,438.8 L965.7,440.1 L964.1,441.4 L962.5,442.7 L960.8,444 L959.2,445.3 L957.5,446.6 L955.9,447.8 L954.2,449 L952.5,450.2 L950.7,451.2 L948.9,452.2 L947.1,453.2 L945.3,454 L943.4,454.7 L941.5,455.3 L939.5,455.9 L937.5,456.3 L935.4,456.6 L933.2,456.9 L931,457.1 L928.7,457.2 L926.4,457.2 L924.1,457.3 L921.8,457.2 L919.5,457.2 L917.2,457.1 L915,456.9 L912.8,456.8 L910.8,456.7 L907.9,456.5 L905.2,456.3 L902.9,456.1 L900.7,456 L900,456 Z" fill="#84b5d8"/>
<path d="M1198.2,239.5 L1197.9,237.3 L1198.5,235.2 L1199.7,232.9 L1200.7,231.2 L1202,229.4 L1203.3,227.5 L1204.8,225.7 L1206.4,223.8 L1207.9,221.9 L1209.5,220.1 L1211.1,218.3 L1212.7,216.6 L1214.2,214.9 L1215.7,213.3 L1217.2,211.8 L1218.7,210.2 L1220.3,208.7 L1221.8,207.3 L1223.4,205.8 L1225,204.4 L1226.6,203.1 L1228.2,201.8 L1229.8,200.5 L1231.5,199.3 L1233.1,198.2 L1234.8,197.1 L1236.6,196.1 L1238.4,195.1 L1240.3,194.3 L1242.3,193.4 L1244.3,192.7 L1246.4,192 L1248.5,191.5 L1250.5,191 L1252.6,190.5 L1254.6,190.1 L1256.7,189.8 L1258.7,189.5 L1260.8,189.3 L1263,189 L1265.2,188.9 L1267.3,188.8 L1270.2,189 L1272.2,189.5 L1272.7,191.5 L1271.4,193 L1269.2,194.7 L1267.6,195.9 L1265.7,197.3 L1263.9,198.6 L1262,200 L1260.2,201.4 L1258.5,202.8 L1256.9,204.2 L1255.3,205.7 L1253.8,207.1 L1252.3,208.5 L1250.9,210 L1249.4,211.4 L1248,212.9 L1246.6,214.4 L1245.2,216 L1243.9,217.5 L1242.6,219.1 L1241.4,220.7 L1240.2,222.4 L1239.1,224.1 L1238,226 L1237,227.8 L1236.1,229.7 L1235.1,231.6 L1234.2,233.4 L1233.1,235.1 L1231.3,237.4 L1229.3,239.2 L1226.8,240.7 L1224,241.7 L1221.9,242.1 L1219.7,242.5 L1217.4,242.8 L1215,242.9 L1212.6,243 L1210.2,243 L1207.9,242.9 L1205.7,242.7 L1203.7,242.4 L1201.2,241.7 L1199.3,240.8 Z" fill="#a0cce6" opacity="0.9"/>
<path d="M941.6,455.7 L943.4,454.5 L945.3,453.2 L947.4,451.8 L949.8,450.2 L951.4,449 L953.2,447.9 L955,446.6 L956.9,445.3 L958.8,444.1 L960.7,442.8 L962.6,441.4 L964.6,440.1 L966.5,438.9 L968.3,437.6 L970.1,436.3 L971.9,435.1 L973.7,433.9 L975.4,432.7 L977.1,431.5 L978.8,430.3 L980.5,429.1 L982.2,427.9 L983.9,426.8 L985.5,425.6 L987.2,424.4 L988.8,423.2 L990.5,422.1 L992.1,420.9 L993.8,419.8 L995.4,418.6 L997,417.5 L998.7,416.3 L1000.4,415.2 L1002.1,414 L1003.8,412.9 L1005.5,411.7 L1007.2,410.6 L1009,409.4 L1010.8,408.3 L1012.6,407.1 L1014.4,406 L1016.2,404.8 L1018,403.7 L1019.7,402.6 L1021.5,401.4 L1023.2,400.3 L1025.7,398.7 L1028.1,397.1 L1030.6,395.4 L1033,393.7 L1034.7,392.6 L1037.1,390.8 L1039.4,389.1 L1041.7,387.3 L1044,385.5 L1045.6,384.2 L1047.2,382.9 L1048.7,381.6 L1050.3,380.3 L1052.5,378.4 L1054.8,376.5 L1057,374.6 L1059.2,372.6 L1060.8,371.3 L1062.3,369.9 L1063.9,368.5 L1065.5,367.1 L1067.1,365.7 L1068.7,364.3 L1070.3,362.8 L1071.9,361.4 L1073.5,360 L1075.1,358.5 L1076.7,357.1 L1078.3,355.7 L1079.9,354.3 L1081.4,352.9 L1083,351.5 L1084.6,350.1 L1086.2,348.6 L1087.8,347.2 L1089.4,345.7 L1091,344.2 L1092.6,342.8 L1094.2,341.3 L1095.8,339.9 L1097.3,338.5 L1098.8,337.1 L1100.3,335.7 L1102.4,333.8 L1104.5,331.8 L1106.7,329.9 L1108.8,327.9 L1110.3,326.5 L1111.8,325.2 L1113.9,323.2 L1116,321.3 L1118.1,319.3 L1120.2,317.4 L1122.3,315.5 L1124.5,313.6 L1126.6,311.6 L1128.8,309.6 L1130.3,308.2 L1131.9,306.9 L1133.4,305.5 L1135,304.1 L1136.6,302.7 L1138.2,301.3 L1139.7,299.9 L1141.3,298.5 L1142.9,297.2 L1144.5,295.8 L1146,294.5 L1147.7,293.2 L1149.3,291.9 L1150.9,290.6 L1152.5,289.2 L1154.2,287.9 L1155.8,286.7 L1157.4,285.4 L1158.9,284.1 L1161.2,282.2 L1163.4,280.3 L1165.5,278.3 L1167.6,276.1 L1169,274.7 L1170.4,273.2 L1172.3,270.9 L1174.1,268.6 L1175.8,266.2 L1176.9,264.5 L1178,262.7 L1179.1,260.9 L1180.1,259 L1181.2,257 L1182.2,255 L1183.2,253.1 L1184.2,251.1 L1185.1,249.3 L1186.3,246.7 L1187.4,244.4 L1187.8,243.6 L1192.2,270.2 L1190.7,271.9 L1189.1,273.7 L1187.3,275.7 L1185.4,278 L1184,279.6 L1182.5,281.2 L1181,282.9 L1179.5,284.7 L1178,286.4 L1176.5,288.1 L1175,289.8 L1173.5,291.5 L1172.1,293.1 L1170.7,294.7 L1169.3,296.3 L1168,297.9 L1166.7,299.4 L1164.8,301.7 L1162.9,303.9 L1161,306.1 L1159.1,308.4 L1157.8,309.9 L1156.4,311.4 L1155,313 L1153.6,314.6 L1152.2,316.1 L1150.9,317.6 L1148.8,319.7 L1146.8,321.9 L1144.8,324 L1143.4,325.4 L1142,326.9 L1140.6,328.4 L1139.1,329.9 L1137.6,331.4 L1136.1,332.9 L1134.7,334.5 L1133.2,336 L1131.7,337.5 L1130.2,339 L1128.7,340.5 L1127.2,342 L1125.7,343.5 L1124.3,345 L1122.8,346.4 L1121.4,347.9 L1120,349.3 L1117.9,351.4 L1115.8,353.5 L1113.7,355.6 L1111.7,357.7 L1109.6,359.7 L1107.5,361.8 L1105.4,363.9 L1103.2,366 L1101.8,367.5 L1100.4,368.9 L1098.9,370.3 L1097.4,371.8 L1096,373.2 L1094.5,374.7 L1093.1,376.1 L1091.7,377.6 L1090.3,379 L1088.8,380.4 L1087.4,381.9 L1086,383.4 L1084.5,384.9 L1083.1,386.4 L1081.6,387.9 L1080.1,389.4 L1078.6,390.9 L1077.2,392.4 L1075.7,393.9 L1074.2,395.4 L1072.7,396.9 L1071.3,398.4 L1069.8,399.8 L1068.4,401.2 L1066.2,403.3 L1064.1,405.3 L1061.9,407.3 L1060.4,408.7 L1058.8,410 L1057.2,411.4 L1055.6,412.7 L1053.9,414 L1052.2,415.3 L1050.6,416.6 L1048.9,417.8 L1047.3,419 L1044.9,420.7 L1042.5,422.4 L1040,424 L1037.6,425.6 L1035.2,427.3 L1032.7,429 L1031,430.1 L1029.3,431.2 L1027.7,432.3 L1026,433.5 L1024.3,434.6 L1022.5,435.7 L1020.8,436.8 L1019.1,437.9 L1017.4,439 L1015.7,440.1 L1014,441.2 L1012.3,442.3 L1010.5,443.4 L1008.8,444.5 L1007.1,445.6 L1005.4,446.7 L1003.7,447.8 L1002,448.9 L1000.3,450 L998.6,451.1 L996.9,452.2 L994.3,453.7 L991.8,455.3 L989.3,456.9 L987.6,458 L985.9,459.1 L984.2,460.2 L982.4,461.3 L980.7,462.5 L979,463.7 L977.3,464.8 L975.5,466.1 L973.8,467.3 L972.1,468.6 L970.4,469.8 L968.6,471.2 L966.8,472.5 L965,473.9 L963.2,475.3 L961.4,476.8 L959.6,478.3 L957.7,479.7 L955.9,481.2 L954.2,482.6 L952.5,484 L950.8,485.3 L949.2,486.6 L947,488.4 L945.1,490 L943.3,491.5 L941.6,492.8 Z" fill="#487da8" stroke="#1a3f66" stroke-width="2.6" stroke-linejoin="round"/>
<path d="M941.6,492.8 L943.3,491.5 L945.1,490 L947,488.4 L949.2,486.6 L950.8,485.3 L952.5,484 L954.2,482.6 L955.9,481.2 L957.7,479.7 L959.6,478.3 L961.4,476.8 L963.2,475.3 L965,473.9 L966.8,472.5 L968.6,471.2 L970.4,469.8 L972.1,468.6 L973.8,467.3 L975.5,466.1 L977.3,464.8 L979,463.7 L980.7,462.5 L982.4,461.3 L984.2,460.2 L985.9,459.1 L987.6,458 L989.3,456.9 L991.8,455.3 L994.3,453.7 L996.9,452.2 L998.6,451.1 L1000.3,450 L1002,448.9 L1003.7,447.8 L1005.4,446.7 L1007.1,445.6 L1008.8,444.5 L1010.5,443.4 L1012.3,442.3 L1014,441.2 L1015.7,440.1 L1017.4,439 L1019.1,437.9 L1020.8,436.8 L1022.5,435.7 L1024.3,434.6 L1026,433.5 L1027.7,432.3 L1029.3,431.2 L1031,430.1 L1032.7,429 L1035.2,427.3 L1037.6,425.6 L1040,424 L1042.5,422.4 L1044.9,420.7 L1047.3,419 L1048.9,417.8 L1050.6,416.6 L1052.2,415.3 L1053.9,414 L1055.6,412.7 L1057.2,411.4 L1058.8,410 L1060.4,408.7 L1061.9,407.3 L1064.1,405.3 L1066.2,403.3 L1068.4,401.2 L1069.8,399.8 L1071.3,398.4 L1072.7,396.9 L1074.2,395.4 L1075.7,393.9 L1077.2,392.4 L1078.6,390.9 L1080.1,389.4 L1081.6,387.9 L1083.1,386.4 L1084.5,384.9 L1086,383.4 L1087.4,381.9 L1088.8,380.4 L1090.3,379 L1091.7,377.6 L1093.1,376.1 L1094.5,374.7 L1096,373.2 L1097.4,371.8 L1098.9,370.3 L1100.4,368.9 L1101.8,367.5 L1103.2,366 L1104.7,364.6 L1106.8,362.5 L1108.9,360.4 L1111,358.4 L1113,356.3 L1115.1,354.2 L1117.2,352.1 L1119.3,350 L1121.4,347.9 L1122.8,346.4 L1124.3,345 L1125.7,343.5 L1127.2,342 L1128.7,340.5 L1130.2,339 L1131.7,337.5 L1133.2,336 L1134.7,334.5 L1136.1,332.9 L1137.6,331.4 L1139.1,329.9 L1140.6,328.4 L1142,326.9 L1143.4,325.4 L1144.8,324 L1146.8,321.9 L1148.8,319.7 L1150.9,317.6 L1152.2,316.1 L1153.6,314.6 L1155,313 L1156.4,311.4 L1157.8,309.9 L1159.1,308.4 L1161,306.1 L1162.9,303.9 L1164.8,301.7 L1166.7,299.4 L1168,297.9 L1169.3,296.3 L1170.7,294.7 L1172.1,293.1 L1173.5,291.5 L1175,289.8 L1176.5,288.1 L1178,286.4 L1179.5,284.7 L1181,282.9 L1182.5,281.2 L1184,279.6 L1185.4,278 L1186.7,276.5 L1188.5,274.4 L1190.2,272.5 L1191.7,270.8 L1192.2,270.2 L1192.5,296.4 L1190.5,298.4 L1188.3,300.4 L1186.8,301.9 L1185.3,303.5 L1183.8,305 L1182.3,306.6 L1180.9,308.2 L1179.5,309.7 L1178.2,311.3 L1176.9,312.8 L1175.7,314.4 L1174.5,316 L1173.4,317.7 L1172.3,319.4 L1171.2,321.2 L1170.2,323 L1169.3,324.8 L1168.4,326.6 L1167.4,328.5 L1166.6,330.4 L1165.7,332.3 L1164.9,334.1 L1164.1,336 L1163.3,337.9 L1162.5,339.7 L1161.4,342.5 L1160.3,345.3 L1159.3,348.1 L1158.3,350.9 L1157.3,353.7 L1156.3,356.5 L1155.6,358.4 L1154.8,360.3 L1154,362.1 L1153.2,364 L1152.2,365.8 L1151.2,367.5 L1150.1,369.2 L1148.9,370.8 L1147.7,372.4 L1146.4,374 L1145.1,375.6 L1143.8,377.2 L1142.4,378.7 L1141.1,380.3 L1139.7,381.8 L1138.4,383.4 L1137.1,385 L1135.8,386.6 L1134.6,388.2 L1133.3,389.8 L1132.1,391.4 L1130.8,393 L1129.5,394.6 L1128.3,396.2 L1127,397.8 L1125,400 L1123.1,402.2 L1121.1,404.3 L1119,406.5 L1117.5,407.9 L1116.1,409.3 L1114.6,410.8 L1113,412.2 L1111.5,413.5 L1109.9,414.9 L1108.4,416.2 L1106.8,417.4 L1105.3,418.7 L1103.7,419.9 L1102.1,421.2 L1100.4,422.4 L1098.8,423.6 L1097.1,424.9 L1095.4,426.1 L1093.7,427.2 L1092,428.4 L1090.3,429.5 L1088.6,430.6 L1086.1,432.1 L1083.5,433.5 L1080.9,434.9 L1078.3,436.1 L1075.7,437.3 L1073,438.5 L1070.3,439.8 L1068.4,440.6 L1066.6,441.5 L1064.8,442.4 L1063,443.4 L1060.4,444.8 L1057.8,446.2 L1055.2,447.6 L1053.4,448.6 L1051.6,449.7 L1049.8,450.7 L1048,451.7 L1046.2,452.8 L1044.4,453.8 L1042.6,454.9 L1040.8,455.9 L1039,457 L1037.2,458 L1035.4,459 L1033.6,460 L1031.8,461 L1030,462 L1028.3,463 L1026.5,464 L1024.7,465 L1022.9,465.9 L1021.2,466.9 L1019.4,467.9 L1016.8,469.3 L1014.2,470.7 L1011.5,472.2 L1008.9,473.6 L1006.3,475.1 L1004.6,476 L1002.8,477 L1001.1,478 L999.3,479 L997.6,480 L995.8,481 L994.1,482 L992.3,483 L990.6,484 L988.8,485 L987.1,486 L985.3,487 L983.6,488 L981.8,489.1 L980,490.2 L978.2,491.2 L976.5,492.3 L974.7,493.4 L972.9,494.5 L971.1,495.7 L969.3,496.8 L967.5,498 L965.6,499.2 L963.7,500.5 L961.8,501.7 L959.9,503 L958,504.2 L956.2,505.5 L954.3,506.7 L952.6,507.9 L950.9,509 L948.5,510.6 L946.3,512.1 L944.4,513.4 L942.6,514.6 L942,515 Z" fill="#80b4d8" stroke="#1a3f66" stroke-width="2.6" stroke-linejoin="round"/>
<path d="M900,456 L941.6,455.7 L941.6,492.8 L939.1,492.8 L936.5,492.9 L933.5,492.9 L931.4,493 L929.2,493.1 L927,493.2 L924.8,493.3 L922.6,493.5 L920.4,493.8 L918.3,494.2 L916.2,494.6 L914.1,495.1 L912.1,495.8 L910.1,496.5 L908.2,497.3 L906.3,498.1 L904.4,499 L902.6,500 L900.8,500.9 L898.9,502 L897.1,503 L895.4,504.1 L893.6,505.3 L891.9,506.5 L890.2,507.7 L888.5,509 L887,510.3 L885.4,511.7 L884,513.2 L882.5,514.7 L881.2,516.2 L879.9,517.8 L878.6,519.5 L877.5,521.2 L876.4,522.9 L875.4,524.7 L874.4,526.6 L873.6,528.5 L872.8,530.4 L872.1,532.3 L871.4,534.2 L870.7,536.1 L870.1,538 L869.1,540.9 L868.2,543.7 L867.4,546.6 L867,548.6 L866.6,550.5 L866.2,552.5 L865.9,554.5 L865.7,556.6 L865.5,558.7 L865.3,560.8 L865.2,563 L865.1,565.2 L865,567.3 L865,569.5 L865,571.6 L865.1,573.7 L865.2,575.7 L865.3,577.7 L865.5,579.8 L865.7,581.8 L866,583.7 L866.3,585.7 L866.6,587.7 L867,589.7 L867.5,591.7 L867.9,593.6 L868.5,595.5 L869,597.5 L869.7,599.4 L870.3,601.3 L871,603.2 L871.8,605.1 L872.6,607 L873.4,608.9 L874.3,610.7 L875.2,612.6 L876.2,614.4 L877.2,616.3 L878.2,618.1 L879.3,619.9 L880.4,621.7 L881.5,623.5 L882.7,625.2 L883.8,627 L885,628.7 L886.2,630.4 L887.4,632.1 L888.5,633.7 L889.7,635.3 L890.9,637 L892.1,638.6 L893.3,640.2 L894.6,641.8 L895.9,643.4 L897.2,644.9 L899.3,647 L900.8,648.4 L902.3,649.8 L903.8,651.1 L905.5,652.4 L907.1,653.7 L908.8,654.9 L910.5,656.2 L912.2,657.5 L913.9,658.7 L915.6,660 L917.3,661.2 L919,662.4 L920.6,663.6 L922.3,664.8 L923.9,666 L925.6,667.1 L927.2,668.3 L928.9,669.4 L930.6,670.4 L932.4,671.5 L934.2,672.5 L936,673.4 L937.8,674.4 L939.6,675.2 L941.5,676.1 L943.3,676.9 L945.2,677.7 L947.1,678.4 L949,679.1 L951,679.8 L952.9,680.4 L954.9,681 L956.8,681.5 L958.8,682 L960.8,682.5 L962.8,682.8 L964.9,683.2 L966.9,683.4 L969,683.6 L971.1,683.8 L973.2,683.9 L975.3,683.9 L977.3,683.8 L979.4,683.7 L981.5,683.4 L983.6,683.2 L985.7,682.8 L987.7,682.4 L989.8,682 L991.8,681.5 L993.9,681 L995.9,680.5 L997.9,679.9 L999.9,679.4 L1001.8,678.8 L1003.8,678.2 L1005.7,677.5 L1007.7,676.8 L1009.6,676.1 L1011.5,675.4 L1013.4,674.6 L1015.2,673.7 L1017.1,672.9 L1018.9,671.9 L1020.7,671 L1022.5,670 L1024.3,668.9 L1026,667.8 L1027.7,666.7 L1029.4,665.5 L1031,664.3 L1032.6,663 L1034.2,661.8 L1035.8,660.4 L1037.3,659.1 L1038.8,657.7 L1040.3,656.3 L1041.7,654.9 L1043.2,653.4 L1044.6,651.9 L1045.9,650.3 L1047.2,648.7 L1048.4,647 L1049.6,645.3 L1050.7,643.5 L1051.6,641.7 L1052.5,639.8 L1053.4,637.9 L1054.1,635.9 L1054.8,633.9 L1055.4,631.9 L1056,629.8 L1056.6,627.8 L1057.1,625.8 L1057.6,623.8 L1058.1,621.8 L1058.5,619.8 L1058.9,617.8 L1059.2,615.8 L1059.5,613.7 L1059.8,611.7 L1060,609.6 L1060.3,607.5 L1060.5,605.4 L1060.8,603.4 L1061,601.3 L1061.3,598.4 L1091.1,607.8 L1090.9,610.3 L1090.8,612.9 L1090.6,615.9 L1090.4,618 L1090.2,620.1 L1089.9,622.3 L1089.7,624.5 L1089.3,626.6 L1089,628.8 L1088.6,630.9 L1088.2,633 L1087.8,635.1 L1087.3,637.1 L1086.8,639.2 L1086.3,641.2 L1085.8,643.2 L1085.2,645.2 L1084.2,648 L1083.2,650.7 L1082.1,653.4 L1080.9,656.1 L1080,658 L1079.1,659.8 L1078.1,661.7 L1077.1,663.6 L1076,665.5 L1075,667.4 L1073.8,669.4 L1072.7,671.4 L1071.5,673.4 L1070.4,675.4 L1069.2,677.3 L1068.1,679.2 L1067.1,681 L1065.6,683.4 L1064.3,685.6 L1063.5,687 L1061.5,688.4 L1059.4,689.9 L1057,691.6 L1055.3,692.8 L1053.5,694 L1051.7,695.2 L1049.8,696.5 L1048,697.7 L1046.1,698.8 L1044.3,699.9 L1042.5,701 L1040.7,702.1 L1038.8,703.1 L1037,704.2 L1035.1,705.2 L1033.3,706.1 L1031.5,707.1 L1029.7,707.9 L1027.8,708.8 L1026,709.5 L1024.1,710.3 L1022.2,710.9 L1020.2,711.5 L1018.3,712 L1015.4,712.7 L1012.5,713.3 L1009.5,713.8 L1007.5,714.1 L1005.5,714.4 L1003.4,714.6 L1001.3,714.8 L999.2,715 L997.1,715.1 L995.1,715.2 L993,715.3 L990.9,715.3 L988.8,715.2 L986.7,715.2 L984.6,715.1 L982.6,714.9 L980.5,714.7 L978.4,714.6 L976.3,714.3 L974.2,714.1 L972.1,713.8 L970,713.5 L968,713.2 L965.9,712.8 L963.8,712.4 L961.8,711.9 L959.8,711.3 L957.8,710.7 L955.8,710.1 L953.9,709.4 L951.9,708.7 L950,707.9 L948.1,707.2 L946.2,706.4 L944.3,705.6 L942.4,704.8 L940.5,704 L938.7,703.2 L936.9,702.4 L935,701.5 L933.2,700.6 L930.6,699.2 L928,697.8 L925.4,696.3 L922.9,694.8 L921.2,693.8 L919.4,692.7 L917.7,691.6 L916,690.5 L913.5,688.9 L911,687.3 L908.6,685.6 L906.1,684 L904.4,682.8 L902.7,681.6 L901,680.4 L899.3,679.2 L897.7,678 L896,676.7 L894.4,675.4 L892.8,674.2 L891.3,672.9 L889.7,671.6 L888.2,670.3 L886.7,668.9 L885.2,667.6 L883.6,666.2 L882.1,664.8 L880.7,663.4 L879.2,662 L877.8,660.6 L876.4,659.1 L875.1,657.6 L873.7,656.1 L872.4,654.6 L871.2,653 L869.9,651.4 L868.7,649.8 L867.6,648.2 L866.4,646.5 L865.3,644.9 L864.3,643.2 L863.2,641.5 L862.2,639.7 L861.2,638 L860.2,636.2 L859.2,634.4 L858.2,632.7 L857.3,630.9 L856.4,629.1 L855.4,627.2 L854.6,625.4 L853.7,623.6 L852.8,621.7 L852,619.8 L851.2,617.9 L850.4,616 L849.7,614 L848.9,612.1 L848.3,610.1 L847.6,608.2 L847,606.2 L846.5,604.1 L845.9,602.1 L845.4,600 L845,598 L844.5,595.9 L844.1,593.8 L843.7,591.7 L843.3,589.6 L843,587.6 L842.6,585.6 L842.3,583.6 L842,581.7 L841.7,579.7 L841.5,577.6 L841.2,575.6 L841,573.6 L840.8,571.6 L840.6,568.6 L840.4,565.7 L840.3,562.8 L840.2,559.9 L840.2,556.9 L840.2,554.8 L840.3,552.8 L840.3,550.7 L840.4,548.7 L840.5,546.6 L840.6,544.6 L840.8,542.5 L841,540.5 L841.3,538.5 L841.6,536.4 L842,534.4 L842.4,532.3 L842.8,530.3 L843.3,528.3 L843.8,526.3 L844.4,524.3 L845,522.3 L845.7,520.3 L846.3,518.4 L847.1,516.4 L847.8,514.5 L848.7,512.5 L849.5,510.6 L850.4,508.7 L851.3,506.9 L852.3,505.1 L853.3,503.3 L854.8,500.7 L856.3,498.2 L858,495.7 L859.2,494 L860.4,492.4 L861.6,490.8 L862.8,489.2 L864.1,487.6 L865.4,486.1 L866.8,484.6 L868.1,483.1 L869.5,481.7 L870.9,480.2 L872.4,478.8 L873.9,477.3 L875.4,475.9 L876.9,474.5 L878.5,473 L880.1,471.6 L881.7,470.2 L883.3,468.8 L885,467.4 L886.7,466 L888.4,464.6 L890.2,463.2 L891.9,461.8 L893.6,460.4 L895.3,459.1 L897.6,457.3 L899.7,455.7 L901.6,454.2 L902.8,453.3 L900,456 Z" fill="url(#rRing)" stroke="#1a3f66" stroke-width="2.6" stroke-linejoin="round"/>
<path d="M1061.3,598.4 L1061,601.3 L1060.8,603.4 L1060.5,605.4 L1060.3,607.5 L1060,609.6 L1059.8,611.7 L1059.5,613.7 L1059.2,615.8 L1058.9,617.8 L1058.5,619.8 L1058.1,621.8 L1057.6,623.8 L1057.1,625.8 L1056.6,627.8 L1056,629.8 L1055.4,631.9 L1054.8,633.9 L1054.1,635.9 L1053.4,637.9 L1052.5,639.8 L1051.6,641.7 L1050.7,643.5 L1049.6,645.3 L1048.4,647 L1047.2,648.7 L1045.9,650.3 L1044.6,651.9 L1043.2,653.4 L1041.7,654.9 L1040.3,656.3 L1038.8,657.7 L1037.3,659.1 L1035.8,660.4 L1034.2,661.8 L1032.6,663 L1031,664.3 L1029.4,665.5 L1027.7,666.7 L1026,667.8 L1024.3,668.9 L1022.5,670 L1020.7,671 L1018.9,671.9 L1017.1,672.9 L1015.2,673.7 L1013.4,674.6 L1011.5,675.4 L1009.6,676.1 L1007.7,676.8 L1005.7,677.5 L1003.8,678.2 L1001.8,678.8 L999.9,679.4 L997.9,679.9 L995.9,680.5 L993.9,681 L991.8,681.5 L989.8,682 L987.7,682.4 L985.7,682.8 L983.6,683.2 L981.5,683.4 L979.4,683.7 L977.3,683.8 L975.3,683.9 L973.2,683.9 L971.1,683.8 L969,683.6 L966.9,683.4 L964.9,683.2 L962.8,682.8 L960.8,682.5 L958.8,682 L956.8,681.5 L954.9,681 L952.9,680.4 L951,679.8 L949,679.1 L947.1,678.4 L945.2,677.7 L943.3,676.9 L941.5,676.1 L939.6,675.2 L937.8,674.4 L936,673.4 L934.2,672.5 L932.4,671.5 L930.6,670.4 L928.9,669.4 L927.2,668.3 L925.6,667.1 L923.9,666 L922.3,664.8 L920.6,663.6 L919,662.4 L917.3,661.2 L915.6,660 L913.9,658.7 L912.2,657.5 L910.5,656.2 L908.8,654.9 L907.1,653.7 L905.5,652.4 L903.8,651.1 L902.3,649.8 L900.8,648.4 L899.3,647 L897.2,644.9 L895.9,643.4 L894.6,641.8 L893.3,640.2 L892.1,638.6 L890.9,637 L889.7,635.3 L888.5,633.7 L887.4,632.1 L886.2,630.4 L885,628.7 L883.8,627 L882.7,625.2 L881.5,623.5 L880.4,621.7 L879.3,619.9 L878.2,618.1 L877.2,616.3 L876.2,614.4 L875.2,612.6 L874.3,610.7 L873.4,608.9 L872.6,607 L871.8,605.1 L871,603.2 L870.3,601.3 L869.7,599.4 L869,597.5 L868.5,595.5 L867.9,593.6 L867.5,591.7 L867,589.7 L866.6,587.7 L866.3,585.7 L866,583.7 L865.7,581.8 L865.5,579.8 L865.3,577.7 L865.2,575.7 L865.1,573.7 L865,571.6 L865,569.5 L865,567.3 L865.1,565.2 L865.2,563 L865.3,560.8 L865.5,558.7 L865.7,556.6 L865.9,554.5 L866.2,552.5 L866.6,550.5 L867,548.6 L867.4,546.6 L868,544.7 L868.8,541.8 L869.8,539 L870.7,536.1 L871.4,534.2 L872.1,532.3 L872.8,530.4 L873.6,528.5 L874.4,526.6 L875.4,524.7 L876.4,522.9 L877.5,521.2 L878.6,519.5 L879.9,517.8 L881.2,516.2 L882.5,514.7 L884,513.2 L885.4,511.7 L887,510.3 L888.5,509 L890.2,507.7 L891.9,506.5 L893.6,505.3 L895.4,504.1 L897.1,503 L898.9,502 L900.8,500.9 L902.6,500 L904.4,499 L906.3,498.1 L908.2,497.3 L910.1,496.5 L912.1,495.8 L914.1,495.1 L916.2,494.6 L918.3,494.2 L920.4,493.8 L922.6,493.5 L924.8,493.3 L927,493.2 L929.2,493.1 L931.4,493 L933.5,492.9 L936.5,492.9 L939.1,492.8 L941.6,492.8 L942,515 L939.5,515 L936.7,515 L933.7,515 L931.5,515.1 L929.3,515.1 L927,515.2 L924.7,515.3 L922.5,515.5 L920.3,515.8 L918.2,516.1 L916.1,516.6 L914.1,517.2 L912.2,517.9 L910.3,518.7 L908.5,519.6 L906,521.2 L903.6,523 L902.1,524.3 L900.7,525.8 L899.3,527.3 L898.1,528.9 L896.8,530.6 L895.7,532.3 L894.7,534.1 L893.7,535.9 L892.8,537.7 L892.1,539.6 L891.3,541.5 L890.7,543.5 L890.2,545.5 L889.8,547.5 L889.4,549.6 L889.1,551.6 L888.8,553.7 L888.6,555.8 L888.3,557.9 L888.1,559.9 L887.8,562 L887.6,564 L887.4,566.1 L887.2,568.2 L887,570.3 L887,572.4 L886.9,574.5 L886.9,576.6 L886.9,578.7 L887,580.8 L887.1,583 L887.3,585.2 L887.5,587.4 L887.7,589.5 L888.1,591.6 L888.5,593.7 L889,595.8 L889.6,597.8 L890.3,599.8 L891,601.8 L891.8,603.7 L892.7,605.6 L893.7,607.4 L894.7,609.2 L895.7,611 L896.9,612.8 L898.1,614.5 L899.3,616.2 L900.6,617.9 L901.9,619.5 L903.2,621.1 L904.5,622.7 L905.8,624.3 L907,625.9 L908.3,627.5 L909.5,629.1 L911.3,631.5 L913.1,633.8 L915.2,635.9 L917.4,637.8 L919.8,639.6 L921.5,640.7 L923.2,641.8 L925,642.8 L926.7,643.9 L928.5,644.9 L930.3,646 L932.1,647 L933.9,648.1 L935.6,649.2 L937.4,650.3 L939.2,651.4 L940.9,652.4 L942.7,653.4 L944.5,654.3 L946.3,655.1 L948.1,655.9 L950,656.6 L952,657.1 L954.9,657.8 L957.8,658.3 L959.8,658.5 L961.8,658.7 L963.8,658.7 L965.9,658.7 L968,658.5 L970,658.4 L972.1,658.2 L974.2,658 L976.3,657.8 L978.4,657.7 L980.5,657.6 L982.6,657.6 L984.6,657.6 L986.7,657.6 L988.8,657.5 L990.9,657.4 L992.9,657.2 L995,656.8 L997,656.4 L999.1,655.8 L1001.1,655.2 L1003.1,654.4 L1005,653.4 L1006.8,652.4 L1008.5,651.2 L1010.1,649.8 L1011.5,648.3 L1012.9,646.6 L1014.2,644.8 L1015.4,643.1 L1016.6,641.3 L1017.9,639.6 L1019.2,638 L1020.6,636.4 L1022,635 L1023.5,633.6 L1024.9,632.2 L1026.3,630.7 L1027.7,629.2 L1028.9,627.6 L1030.1,625.9 L1031.3,624.1 L1032.3,622.3 L1033.2,620.4 L1034.1,618.5 L1034.8,616.5 L1035.5,614.5 L1036.1,612.5 L1036.6,610.5 L1037.1,608.4 L1037.5,606.4 L1037.8,604.3 L1038.1,602.2 L1038.3,600.2 L1038.5,597.3 L1038.6,594.6 L1038.6,593.7 Z" fill="#7db0d8" stroke="#1a3f66" stroke-width="2.6" stroke-linejoin="round"/>
<path d="M1273.9,357.3 L1273,359.8 L1272.1,362.5 L1271.4,364.4 L1270.6,366.5 L1269.8,368.5 L1268.9,370.5 L1268,372.5 L1267.1,374.4 L1266.1,376.3 L1265.1,378.1 L1264,379.9 L1262.9,381.6 L1261.8,383.3 L1260.6,385 L1259.4,386.7 L1258.2,388.3 L1256.9,389.8 L1255.5,391.3 L1254.1,392.7 L1252.7,394.1 L1251.2,395.5 L1249.7,396.8 L1248.1,398.1 L1246.5,399.3 L1244.9,400.6 L1243.3,401.8 L1241.6,402.9 L1239.9,404.1 L1238.2,405.2 L1236.4,406.3 L1234.7,407.4 L1232.9,408.5 L1231.1,409.5 L1229.2,410.5 L1227.4,411.5 L1225.6,412.5 L1223.7,413.5 L1221.9,414.4 L1220,415.4 L1218.1,416.3 L1216.2,417.2 L1214.3,418.1 L1212.4,419 L1210.5,419.8 L1208.6,420.7 L1206.8,421.6 L1204.9,422.4 L1203,423.3 L1201.1,424.1 L1199.2,425 L1197.3,425.8 L1195.4,426.6 L1193.5,427.5 L1191.7,428.3 L1189.8,429.2 L1187.9,430 L1186,430.9 L1184,431.8 L1182.1,432.6 L1180.2,433.5 L1178.3,434.4 L1176.4,435.3 L1174.5,436.3 L1172.7,437.2 L1170.8,438.2 L1169,439.2 L1167.2,440.2 L1165.4,441.3 L1163.6,442.4 L1161.9,443.5 L1160.2,444.7 L1158.5,445.8 L1156.8,446.9 L1155.2,448.1 L1153.5,449.2 L1151.8,450.4 L1150.2,451.6 L1148.6,452.9 L1147,454.1 L1145.4,455.5 L1143.8,456.8 L1142.3,458.1 L1140.2,460.2 L1138,462.2 L1136.7,463.7 L1135.3,465.2 L1133.9,466.7 L1132.5,468.2 L1131.2,469.8 L1129.9,471.5 L1128.6,473.1 L1127.5,474.8 L1126.3,476.5 L1125.2,478.3 L1124.2,480 L1123.2,481.8 L1122.2,483.7 L1121.2,485.5 L1120.2,487.4 L1119.3,489.3 L1118.3,491.1 L1117.4,493 L1116.5,494.9 L1115.7,496.7 L1114.8,498.6 L1114,500.5 L1113.2,502.4 L1112.4,504.2 L1111.7,506.1 L1110.9,508 L1110.2,509.9 L1109.4,511.7 L1108.7,513.6 L1107.9,515.4 L1107,517.2 L1106.1,519 L1105.2,520.8 L1104.2,522.5 L1103.2,524.3 L1102.2,526 L1101.1,527.7 L1100,529.4 L1098.9,531.1 L1097.8,532.8 L1096.6,534.4 L1095.5,536.1 L1094.3,537.7 L1093.1,539.4 L1092,541 L1090.8,542.7 L1089.6,544.3 L1088.4,546 L1087.1,547.6 L1085.9,549.2 L1084.7,550.8 L1083.4,552.4 L1082.1,554 L1080.9,555.5 L1079.5,557 L1077.5,559.2 L1076.2,560.7 L1074.7,562.1 L1073.3,563.5 L1071.8,564.8 L1070.3,566.2 L1068.8,567.5 L1067.3,568.8 L1065.7,570.2 L1064.1,571.5 L1062.5,572.9 L1060.9,574.2 L1059.3,575.6 L1057.7,577.1 L1056,578.5 L1054.3,580 L1052.6,581.5 L1050.9,582.9 L1049.2,584.4 L1047.5,585.9 L1045.9,587.3 L1044.4,588.6 L1042.3,590.5 L1040.4,592.2 L1038.6,593.7 L1061.3,598.4 L1063.2,596.7 L1064.8,595.3 L1066.5,593.7 L1068.5,592 L1070.5,590.2 L1072.7,588.2 L1074.3,586.8 L1075.8,585.4 L1077.5,584 L1079.1,582.5 L1080.8,581 L1082.5,579.5 L1084.2,577.9 L1085.9,576.4 L1087.6,574.8 L1089.4,573.3 L1091.1,571.7 L1092.7,570.2 L1094.4,568.7 L1096,567.2 L1097.6,565.7 L1099.2,564.2 L1100.7,562.8 L1102.3,561.3 L1103.8,559.9 L1105.3,558.4 L1106.8,556.9 L1108.3,555.5 L1109.8,554 L1111.3,552.4 L1112.8,550.9 L1114.3,549.4 L1115.8,547.9 L1117.2,546.4 L1118.7,544.9 L1120.1,543.4 L1121.6,541.9 L1123,540.4 L1124.4,538.9 L1125.8,537.5 L1127.9,535.3 L1129.9,533.2 L1131.9,531.1 L1133.9,529.1 L1135.9,527.1 L1138,525.1 L1139.4,523.7 L1140.9,522.2 L1142.5,520.8 L1144,519.3 L1145.6,517.9 L1147.2,516.5 L1148.7,515.2 L1150.3,513.8 L1152.5,511.9 L1154.7,509.9 L1156.9,508 L1159.1,506.1 L1161.3,504.1 L1163.5,502.1 L1165,500.7 L1166.4,499.3 L1167.9,497.9 L1169.3,496.5 L1170.7,495 L1172.2,493.6 L1173.6,492.1 L1175,490.7 L1176.4,489.2 L1177.8,487.7 L1179.2,486.2 L1180.7,484.7 L1182.1,483.2 L1183.5,481.7 L1184.9,480.2 L1186.3,478.7 L1187.7,477.2 L1189.2,475.7 L1190.6,474.2 L1192,472.8 L1193.4,471.3 L1194.8,469.8 L1196.2,468.3 L1197.5,466.8 L1198.9,465.3 L1200.3,463.8 L1201.6,462.3 L1203,460.9 L1204.4,459.4 L1205.7,457.9 L1207.1,456.4 L1208.5,454.9 L1209.9,453.5 L1211.4,452 L1212.8,450.5 L1214.3,449.1 L1215.8,447.6 L1217.3,446.2 L1218.8,444.8 L1220.4,443.4 L1221.9,442.1 L1223.5,440.7 L1225.1,439.4 L1226.8,438.1 L1228.5,436.7 L1230.2,435.4 L1231.9,434.1 L1233.6,432.8 L1235.4,431.4 L1237.1,430.1 L1238.8,428.9 L1240.5,427.6 L1242.2,426.4 L1243.8,425.1 L1245.5,423.9 L1247.8,422.2 L1250.1,420.4 L1252.5,418.6 L1254.1,417.3 L1255.8,416 L1257.5,414.7 L1259.2,413.3 L1260.8,412 L1262.3,410.7 L1264.5,408.8 L1266.6,406.9 L1268.6,404.8 L1270.6,402.7 L1272.5,400.5 L1274.3,398.1 L1275.5,396.5 L1276.7,394.9 L1277.9,393.2 L1279,391.5 L1280.1,389.7 L1281.2,387.9 L1282.3,386 L1283.3,384.1 L1284.4,382.2 L1285.4,380.2 L1286.4,378.2 L1287.3,376.2 L1288.3,374.1 L1289.2,372 L1290.2,370 L1291,368 L1291.9,366.1 L1293,363.5 L1294,361.2 L1295,359 Z" fill="#80b4d8" stroke="#1a3f66" stroke-width="2.6" stroke-linejoin="round"/>
<path d="M1295,359 L1294,361.2 L1293,363.5 L1291.9,366.1 L1291,368 L1290.2,370 L1289.2,372 L1288.3,374.1 L1287.3,376.2 L1286.4,378.2 L1285.4,380.2 L1284.4,382.2 L1283.3,384.1 L1282.3,386 L1281.2,387.9 L1280.1,389.7 L1279,391.5 L1277.9,393.2 L1276.7,394.9 L1275.5,396.5 L1274.3,398.1 L1272.5,400.5 L1270.6,402.7 L1268.6,404.8 L1266.6,406.9 L1264.5,408.8 L1262.3,410.7 L1260.8,412 L1259.2,413.3 L1257.5,414.7 L1255.8,416 L1254.1,417.3 L1252.5,418.6 L1250.1,420.4 L1247.8,422.2 L1245.5,423.9 L1243.8,425.1 L1242.2,426.4 L1240.5,427.6 L1238.8,428.9 L1237.1,430.1 L1235.4,431.4 L1233.6,432.8 L1231.9,434.1 L1230.2,435.4 L1228.5,436.7 L1226.8,438.1 L1225.1,439.4 L1223.5,440.7 L1221.9,442.1 L1220.4,443.4 L1218.8,444.8 L1217.3,446.2 L1215.8,447.6 L1214.3,449.1 L1212.8,450.5 L1211.4,452 L1209.9,453.5 L1208.5,454.9 L1207.1,456.4 L1205.7,457.9 L1204.4,459.4 L1203,460.9 L1201.6,462.3 L1200.3,463.8 L1198.9,465.3 L1197.5,466.8 L1196.2,468.3 L1194.8,469.8 L1193.4,471.3 L1192,472.8 L1190.6,474.2 L1189.2,475.7 L1187.7,477.2 L1186.3,478.7 L1184.9,480.2 L1183.5,481.7 L1182.1,483.2 L1180.7,484.7 L1179.2,486.2 L1177.8,487.7 L1176.4,489.2 L1175,490.7 L1173.6,492.1 L1172.2,493.6 L1170.7,495 L1169.3,496.5 L1167.9,497.9 L1166.4,499.3 L1165,500.7 L1163.5,502.1 L1161.3,504.1 L1159.1,506.1 L1156.9,508 L1154.7,509.9 L1152.5,511.9 L1150.3,513.8 L1148.7,515.2 L1147.2,516.5 L1145.6,517.9 L1144,519.3 L1142.5,520.8 L1140.9,522.2 L1139.4,523.7 L1138,525.1 L1135.9,527.1 L1133.9,529.1 L1131.9,531.1 L1129.9,533.2 L1127.9,535.3 L1125.8,537.5 L1124.4,538.9 L1123,540.4 L1121.6,541.9 L1120.1,543.4 L1118.7,544.9 L1117.2,546.4 L1115.8,547.9 L1114.3,549.4 L1112.8,550.9 L1111.3,552.4 L1109.8,554 L1108.3,555.5 L1106.8,556.9 L1105.3,558.4 L1103.8,559.9 L1102.3,561.3 L1100.7,562.8 L1099.2,564.2 L1097.6,565.7 L1096,567.2 L1094.4,568.7 L1092.7,570.2 L1091.1,571.7 L1089.4,573.3 L1087.6,574.8 L1085.9,576.4 L1084.2,577.9 L1082.5,579.5 L1080.8,581 L1079.1,582.5 L1077.5,584 L1075.8,585.4 L1074.3,586.8 L1072.7,588.2 L1070.5,590.2 L1068.5,592 L1066.5,593.7 L1064.8,595.3 L1063.2,596.7 L1061.3,598.4 L1091.1,607.8 L1093,606 L1094.6,604.6 L1096.4,603 L1098.3,601.2 L1100.4,599.3 L1101.9,597.9 L1103.4,596.5 L1105,595 L1106.6,593.5 L1108.3,592 L1110,590.4 L1111.7,588.8 L1113.5,587.2 L1115.3,585.6 L1117,584 L1118.8,582.3 L1120.6,580.7 L1122.4,579 L1124.1,577.4 L1125.8,575.8 L1127.5,574.3 L1129.2,572.7 L1130.8,571.2 L1132.4,569.8 L1133.9,568.3 L1135.4,567 L1137.5,565 L1139.6,563.1 L1141.7,561 L1143.2,559.6 L1144.8,558.1 L1146.4,556.5 L1147.9,555 L1149.9,552.9 L1151.7,551 L1153.3,549.4 L1155,547.7 L1156.8,545.9 L1158.8,544.1 L1160.9,542.3 L1163,540.5 L1165.3,538.6 L1167.6,536.7 L1169.2,535.4 L1170.8,534.1 L1172.5,532.7 L1174.1,531.4 L1175.7,530 L1177.4,528.6 L1179,527.2 L1180.5,525.8 L1182.1,524.5 L1183.6,523.1 L1185.1,521.7 L1186.6,520.3 L1188.7,518.3 L1190.9,516.2 L1193,514.1 L1195.1,512 L1196.5,510.5 L1197.9,509.1 L1199.3,507.6 L1200.7,506.2 L1202.1,504.7 L1203.5,503.3 L1205,501.8 L1206.4,500.4 L1207.8,498.9 L1209.2,497.5 L1210.6,496 L1212,494.5 L1213.4,493.1 L1214.9,491.6 L1216.3,490.2 L1217.7,488.7 L1219.2,487.2 L1220.6,485.7 L1222,484.3 L1223.4,482.8 L1224.9,481.3 L1226.3,479.8 L1227.7,478.4 L1229.1,476.9 L1230.5,475.4 L1231.9,473.9 L1233.3,472.4 L1234.7,470.9 L1236.1,469.5 L1237.5,468 L1238.9,466.5 L1240.3,465 L1241.7,463.5 L1243.1,462 L1244.5,460.6 L1245.9,459.1 L1247.3,457.6 L1248.7,456.1 L1250,454.6 L1251.4,453.1 L1252.8,451.6 L1254.1,450.1 L1255.4,448.6 L1256.8,447.1 L1258.1,445.5 L1259.4,444 L1260.6,442.4 L1261.9,440.8 L1263.1,439.1 L1264.3,437.5 L1265.5,435.8 L1266.7,434.1 L1267.8,432.3 L1269,430.6 L1270.1,428.8 L1271.2,427 L1272.3,425.2 L1273.4,423.4 L1274.5,421.6 L1275.6,419.9 L1276.7,418.1 L1277.8,416.4 L1278.9,414.7 L1280,413 L1281.7,410.6 L1282.9,409 L1284.1,407.3 L1285.4,405.7 L1286.7,404.1 L1288,402.5 L1289.4,401 L1290.8,399.5 L1292.2,398 L1293.6,396.6 L1295,395.1 L1297.1,393 L1298.5,391.6 L1299.9,390.1 L1301.4,388.7 L1302.8,387.2 L1304.2,385.7 L1305.7,384.2 L1307.2,382.7 L1308.7,381.1 L1310.2,379.5 L1311.8,377.8 L1313.3,376.2 L1314.9,374.5 L1316.5,372.9 L1318,371.2 L1319.5,369.6 L1321,368.1 L1322.4,366.6 L1324.3,364.6 L1326,362.7 L1327.6,361.1 L1328.6,360 Z" fill="#93c3e2" stroke="#1a3f66" stroke-width="2.6" stroke-linejoin="round"/>
<path d="M1187.8,243.6 L1190.3,243.1 L1193,242.6 L1195.9,242.1 L1198,241.7 L1200.2,241.4 L1202.4,241.1 L1204.6,240.9 L1206.8,240.7 L1208.9,240.6 L1211,240.6 L1213.1,240.6 L1215.1,240.7 L1217.1,240.8 L1219.1,241 L1221.1,241.2 L1223.1,241.5 L1225.1,241.8 L1227.1,242.1 L1229.1,242.5 L1231.1,243 L1233.1,243.4 L1235.2,243.9 L1237.2,244.5 L1239.2,245.1 L1241.2,245.7 L1243.2,246.4 L1245.2,247 L1247.1,247.8 L1249,248.5 L1251,249.2 L1252.8,250 L1254.7,250.8 L1256.6,251.7 L1258.4,252.5 L1260.2,253.4 L1262,254.3 L1263.8,255.2 L1265.5,256.2 L1267.3,257.1 L1269.1,258 L1270.9,258.9 L1272.8,259.8 L1274.6,260.6 L1276.5,261.5 L1278.3,262.4 L1280.2,263.3 L1282,264.2 L1283.8,265.1 L1285.6,266.1 L1287.4,267.2 L1289.1,268.3 L1290.8,269.4 L1292.5,270.6 L1294.1,271.9 L1295.7,273.2 L1297.2,274.6 L1298.7,276 L1300.2,277.4 L1301.6,278.9 L1302.9,280.4 L1304.2,282 L1305.4,283.6 L1306.5,285.3 L1307.6,287 L1308.6,288.8 L1309.6,290.6 L1310.6,292.4 L1311.6,294.2 L1312.5,296 L1313.4,297.9 L1314.3,299.7 L1315.2,301.6 L1316.1,303.4 L1317,305.3 L1317.8,307.2 L1318.6,309.1 L1319.4,311 L1320.1,313 L1320.8,314.9 L1321.5,316.9 L1322.2,318.8 L1322.8,320.8 L1323.4,322.8 L1323.9,324.7 L1324.4,326.8 L1324.9,328.8 L1325.4,330.8 L1325.8,332.9 L1326.2,335 L1326.5,337.1 L1326.8,339.3 L1327.1,341.5 L1327.4,343.7 L1327.6,345.9 L1327.8,348.1 L1328,350.2 L1328.1,352.2 L1328.3,355 L1328.5,357.5 L1328.6,359.1 L1273.9,357.3 L1273.4,354.8 L1272.8,352.1 L1272.2,349.1 L1271.8,347 L1271.3,344.8 L1270.7,342.6 L1270.1,340.4 L1269.5,338.3 L1268.9,336.2 L1268.2,334.2 L1267.4,332.2 L1266.7,330.3 L1265.8,328.4 L1265,326.6 L1264.1,324.8 L1263.1,323.1 L1261.5,320.5 L1259.7,318.1 L1258.5,316.5 L1257.2,315 L1255.8,313.5 L1254.3,312.1 L1252.8,310.7 L1251.1,309.4 L1249.5,308.1 L1247.8,307 L1246,305.9 L1244.3,304.9 L1241.6,303.5 L1238.9,302.4 L1236.2,301.3 L1234.3,300.6 L1232.3,300 L1230.3,299.5 L1228.3,298.9 L1226.2,298.5 L1224.2,298.1 L1222.1,297.7 L1220,297.4 L1217.8,297.2 L1215.6,297 L1213.4,296.8 L1211.1,296.7 L1208.8,296.6 L1206.5,296.5 L1204.3,296.5 L1202.2,296.5 L1200.1,296.5 L1197.3,296.4 L1194.8,296.4 L1192.5,296.4 Z" fill="#588abc" stroke="#1a3f66" stroke-width="2.6" stroke-linejoin="round"/>
<path d="M1192.2,270.2 L1194.6,270.2 L1197.2,270.3 L1200.1,270.3 L1202.2,270.3 L1204.4,270.4 L1206.6,270.5 L1208.8,270.6 L1211,270.7 L1213.2,270.9 L1215.3,271.1 L1217.4,271.4 L1219.5,271.7 L1221.5,272 L1223.5,272.4 L1225.5,272.8 L1227.5,273.3 L1229.4,273.8 L1231.4,274.3 L1233.3,274.9 L1235.3,275.6 L1237.2,276.2 L1239.1,277 L1241,277.8 L1242.9,278.6 L1244.8,279.5 L1246.7,280.4 L1248.6,281.3 L1250.5,282.3 L1252.3,283.2 L1254.1,284.2 L1255.9,285.2 L1257.7,286.2 L1259.5,287.2 L1261.3,288.3 L1263.1,289.4 L1264.9,290.5 L1266.6,291.6 L1268.3,292.8 L1270,294 L1271.6,295.2 L1273.2,296.5 L1274.7,297.8 L1276.3,299.1 L1277.8,300.5 L1279.3,302 L1280.7,303.5 L1282.1,305 L1283.3,306.6 L1284.5,308.3 L1285.6,310 L1286.5,311.8 L1287.7,314.5 L1288.5,316.4 L1289.1,318.3 L1289.7,320.3 L1290.2,322.3 L1290.7,324.4 L1291.2,326.5 L1291.6,328.7 L1292,330.8 L1292.4,332.9 L1292.7,335.1 L1293,337.3 L1293.2,339.5 L1293.5,341.7 L1293.7,344 L1293.9,346.2 L1294.1,348.3 L1294.3,350.3 L1294.6,353.2 L1294.8,355.7 L1295,358 L1273.9,357.3 L1273.4,354.8 L1272.8,352.1 L1272.2,349.1 L1271.8,347 L1271.3,344.8 L1270.7,342.6 L1270.1,340.4 L1269.5,338.3 L1268.9,336.2 L1268.2,334.2 L1267.4,332.2 L1266.7,330.3 L1265.8,328.4 L1265,326.6 L1264.1,324.8 L1263.1,323.1 L1261.5,320.5 L1259.7,318.1 L1258.5,316.5 L1257.2,315 L1255.8,313.5 L1254.3,312.1 L1252.8,310.7 L1251.1,309.4 L1249.5,308.1 L1247.8,307 L1246,305.9 L1244.3,304.9 L1241.6,303.5 L1238.9,302.4 L1236.2,301.3 L1234.3,300.6 L1232.3,300 L1230.3,299.5 L1228.3,298.9 L1226.2,298.5 L1224.2,298.1 L1222.1,297.7 L1220,297.4 L1217.8,297.2 L1215.6,297 L1213.4,296.8 L1211.1,296.7 L1208.8,296.6 L1206.5,296.5 L1204.3,296.5 L1202.2,296.5 L1200.1,296.5 L1197.3,296.4 L1194.8,296.4 L1192.5,296.4 Z" fill="#6ea3cf" stroke="#1a3f66" stroke-width="2.6" stroke-linejoin="round"/>
<path d="M1193.7,287.7 L1196.2,287.8 L1198.9,287.9 L1201.9,288.1 L1204.1,288.2 L1206.3,288.4 L1208.6,288.5 L1210.8,288.8 L1213.1,289 L1215.3,289.3 L1217.4,289.7 L1219.5,290 L1221.5,290.5 L1223.6,290.9 L1225.6,291.4 L1227.6,291.9 L1229.6,292.5 L1231.6,293.1 L1233.5,293.8 L1235.4,294.5 L1237.3,295.2 L1239.2,296 L1241.1,296.9 L1243,297.8 L1244.8,298.7 L1246.6,299.7 L1248.3,300.8 L1250,301.9 L1251.6,303 L1253.2,304.3 L1254.8,305.5 L1256.3,306.9 L1257.8,308.3 L1259.2,309.9 L1260.6,311.4 L1261.8,313 L1263,314.7 L1264.2,316.4 L1265.2,318.1 L1266.2,319.9 L1267.5,322.5 L1268.7,325.3 L1269.7,328.1 L1270.3,330 L1270.8,332 L1271.4,334 L1271.8,336 L1272.3,338.1 L1272.7,340.2 L1273,342.4 L1273.4,344.6 L1273.7,346.8 L1273.9,348.9 L1274.2,350.9 L1274.5,353.8 L1274.8,356.4 L1275,358" fill="none" stroke="#1a3f66" stroke-width="2"/>
<path d="M1187.8,243.6 L1192.2,270.2 L1192.5,296.4" fill="none" stroke="#1a3f66" stroke-width="2.4"/>
<path d="M942,515 L939.5,515 L936.7,515 L933.7,515 L931.5,515.1 L929.3,515.1 L927,515.2 L924.7,515.3 L922.5,515.5 L920.3,515.8 L918.2,516.1 L916.1,516.6 L914.1,517.2 L912.2,517.9 L910.3,518.7 L908.5,519.6 L906,521.2 L903.6,523 L902.1,524.3 L900.7,525.8 L899.3,527.3 L898.1,528.9 L896.8,530.6 L895.7,532.3 L894.7,534.1 L893.7,535.9 L892.8,537.7 L892.1,539.6 L891.3,541.5 L890.7,543.5 L890.2,545.5 L889.8,547.5 L889.4,549.6 L889.1,551.6 L888.8,553.7 L888.6,555.8 L888.3,557.9 L888.1,559.9 L887.8,562 L887.6,564 L887.4,566.1 L887.2,568.2 L887,570.3 L887,572.4 L886.9,574.5 L886.9,576.6 L886.9,578.7 L887,580.8 L887.1,583 L887.3,585.2 L887.5,587.4 L887.7,589.5 L888.1,591.6 L888.5,593.7 L889,595.8 L889.6,597.8 L890.3,599.8 L891,601.8 L891.8,603.7 L892.7,605.6 L893.7,607.4 L894.7,609.2 L895.7,611 L896.9,612.8 L898.1,614.5 L899.3,616.2 L900.6,617.9 L901.9,619.5 L903.2,621.1 L904.5,622.7 L905.8,624.3 L907,625.9 L908.3,627.5 L909.5,629.1 L911.3,631.5 L913.1,633.8 L915.2,635.9 L917.4,637.8 L919.8,639.6 L921.5,640.7 L923.2,641.8 L925,642.8 L926.7,643.9 L928.5,644.9 L930.3,646 L932.1,647 L933.9,648.1 L935.6,649.2 L937.4,650.3 L939.2,651.4 L940.9,652.4 L942.7,653.4 L944.5,654.3 L946.3,655.1 L948.1,655.9 L950,656.6 L952,657.1 L954.9,657.8 L957.8,658.3 L959.8,658.5 L961.8,658.7 L963.8,658.7 L965.9,658.7 L968,658.5 L970,658.4 L972.1,658.2 L974.2,658 L976.3,657.8 L978.4,657.7 L980.5,657.6 L982.6,657.6 L984.6,657.6 L986.7,657.6 L988.8,657.5 L990.9,657.4 L992.9,657.2 L995,656.8 L997,656.4 L999.1,655.8 L1001.1,655.2 L1003.1,654.4 L1005,653.4 L1006.8,652.4 L1008.5,651.2 L1010.1,649.8 L1011.5,648.3 L1012.9,646.6 L1014.2,644.8 L1015.4,643.1 L1016.6,641.3 L1017.9,639.6 L1019.2,638 L1020.6,636.4 L1022,635 L1023.5,633.6 L1024.9,632.2 L1026.3,630.7 L1027.7,629.2 L1028.9,627.6 L1030.1,625.9 L1031.3,624.1 L1032.3,622.3 L1033.2,620.4 L1034.1,618.5 L1034.8,616.5 L1035.5,614.5 L1036.1,612.5 L1036.6,610.5 L1037.1,608.4 L1037.5,606.4 L1037.8,604.3 L1038.1,602.2 L1038.3,600.2 L1038.5,597.3 L1038.6,594.6 L1038.6,593.7 L1040.4,592.2 L1042.3,590.5 L1044.4,588.6 L1045.9,587.3 L1047.5,585.9 L1049.2,584.4 L1050.9,582.9 L1052.6,581.5 L1054.3,580 L1056,578.5 L1057.7,577.1 L1059.3,575.6 L1060.9,574.2 L1062.5,572.9 L1064.1,571.5 L1065.7,570.2 L1067.3,568.8 L1068.8,567.5 L1070.3,566.2 L1071.8,564.8 L1073.3,563.5 L1074.7,562.1 L1076.2,560.7 L1077.5,559.2 L1079.5,557 L1080.9,555.5 L1082.1,554 L1083.4,552.4 L1084.7,550.8 L1085.9,549.2 L1087.1,547.6 L1088.4,546 L1089.6,544.3 L1090.8,542.7 L1092,541 L1093.1,539.4 L1094.3,537.7 L1095.5,536.1 L1096.6,534.4 L1097.8,532.8 L1098.9,531.1 L1100,529.4 L1101.1,527.7 L1102.2,526 L1103.2,524.3 L1104.2,522.5 L1105.2,520.8 L1106.1,519 L1107,517.2 L1107.9,515.4 L1108.7,513.6 L1109.4,511.7 L1110.2,509.9 L1110.9,508 L1111.7,506.1 L1112.4,504.2 L1113.2,502.4 L1114,500.5 L1114.8,498.6 L1115.7,496.7 L1116.5,494.9 L1117.4,493 L1118.3,491.1 L1119.3,489.3 L1120.2,487.4 L1121.2,485.5 L1122.2,483.7 L1123.2,481.8 L1124.2,480 L1125.2,478.3 L1126.3,476.5 L1127.5,474.8 L1128.6,473.1 L1129.9,471.5 L1131.2,469.8 L1132.5,468.2 L1133.9,466.7 L1135.3,465.2 L1136.7,463.7 L1138,462.2 L1140.2,460.2 L1142.3,458.1 L1143.8,456.8 L1145.4,455.5 L1147,454.1 L1148.6,452.9 L1150.2,451.6 L1151.8,450.4 L1153.5,449.2 L1155.2,448.1 L1156.8,446.9 L1158.5,445.8 L1160.2,444.7 L1161.9,443.5 L1163.6,442.4 L1165.4,441.3 L1167.2,440.2 L1169,439.2 L1170.8,438.2 L1172.7,437.2 L1174.5,436.3 L1176.4,435.3 L1178.3,434.4 L1180.2,433.5 L1182.1,432.6 L1184,431.8 L1186,430.9 L1187.9,430 L1189.8,429.2 L1191.7,428.3 L1193.5,427.5 L1195.4,426.6 L1197.3,425.8 L1199.2,425 L1201.1,424.1 L1203,423.3 L1204.9,422.4 L1206.8,421.6 L1208.6,420.7 L1210.5,419.8 L1212.4,419 L1214.3,418.1 L1216.2,417.2 L1218.1,416.3 L1220,415.4 L1221.9,414.4 L1223.7,413.5 L1225.6,412.5 L1227.4,411.5 L1229.2,410.5 L1231.1,409.5 L1232.9,408.5 L1234.7,407.4 L1236.4,406.3 L1238.2,405.2 L1239.9,404.1 L1241.6,402.9 L1243.3,401.8 L1244.9,400.6 L1246.5,399.3 L1248.1,398.1 L1249.7,396.8 L1251.2,395.5 L1252.7,394.1 L1254.1,392.7 L1255.5,391.3 L1256.9,389.8 L1258.2,388.3 L1259.4,386.7 L1260.6,385 L1261.8,383.3 L1262.9,381.6 L1264,379.9 L1265.1,378.1 L1266.1,376.3 L1267.1,374.4 L1268,372.5 L1268.9,370.5 L1269.8,368.5 L1270.6,366.5 L1271.4,364.4 L1272.1,362.5 L1273,359.8 L1273.9,357.3 L1273.4,354.8 L1272.8,352.1 L1272.2,349.1 L1271.8,347 L1271.3,344.8 L1270.7,342.6 L1270.1,340.4 L1269.5,338.3 L1268.9,336.2 L1268.2,334.2 L1267.4,332.2 L1266.7,330.3 L1265.8,328.4 L1265,326.6 L1264.1,324.8 L1263.1,323.1 L1261.5,320.5 L1259.7,318.1 L1258.5,316.5 L1257.2,315 L1255.8,313.5 L1254.3,312.1 L1252.8,310.7 L1251.1,309.4 L1249.5,308.1 L1247.8,307 L1246,305.9 L1244.3,304.9 L1241.6,303.5 L1238.9,302.4 L1236.2,301.3 L1234.3,300.6 L1232.3,300 L1230.3,299.5 L1228.3,298.9 L1226.2,298.5 L1224.2,298.1 L1222.1,297.7 L1220,297.4 L1217.8,297.2 L1215.6,297 L1213.4,296.8 L1211.1,296.7 L1208.8,296.6 L1206.5,296.5 L1204.3,296.5 L1202.2,296.5 L1200.1,296.5 L1197.3,296.4 L1194.8,296.4 L1192.5,296.4 L1190.5,298.4 L1188.3,300.4 L1186.8,301.9 L1185.3,303.5 L1183.8,305 L1182.3,306.6 L1180.9,308.2 L1179.5,309.7 L1178.2,311.3 L1176.9,312.8 L1175.7,314.4 L1174.5,316 L1173.4,317.7 L1172.3,319.4 L1171.2,321.2 L1170.2,323 L1169.3,324.8 L1168.4,326.6 L1167.4,328.5 L1166.6,330.4 L1165.7,332.3 L1164.9,334.1 L1164.1,336 L1163.3,337.9 L1162.5,339.7 L1161.4,342.5 L1160.3,345.3 L1159.3,348.1 L1158.3,350.9 L1157.3,353.7 L1156.3,356.5 L1155.6,358.4 L1154.8,360.3 L1154,362.1 L1153.2,364 L1152.2,365.8 L1151.2,367.5 L1150.1,369.2 L1148.9,370.8 L1147.7,372.4 L1146.4,374 L1145.1,375.6 L1143.8,377.2 L1142.4,378.7 L1141.1,380.3 L1139.7,381.8 L1138.4,383.4 L1137.1,385 L1135.8,386.6 L1134.6,388.2 L1133.3,389.8 L1132.1,391.4 L1130.8,393 L1129.5,394.6 L1128.3,396.2 L1127,397.8 L1125,400 L1123.1,402.2 L1121.1,404.3 L1119,406.5 L1117.5,407.9 L1116.1,409.3 L1114.6,410.8 L1113,412.2 L1111.5,413.5 L1109.9,414.9 L1108.4,416.2 L1106.8,417.4 L1105.3,418.7 L1103.7,419.9 L1102.1,421.2 L1100.4,422.4 L1098.8,423.6 L1097.1,424.9 L1095.4,426.1 L1093.7,427.2 L1092,428.4 L1090.3,429.5 L1088.6,430.6 L1086.1,432.1 L1083.5,433.5 L1080.9,434.9 L1078.3,436.1 L1075.7,437.3 L1073,438.5 L1070.3,439.8 L1068.4,440.6 L1066.6,441.5 L1064.8,442.4 L1063,443.4 L1060.4,444.8 L1057.8,446.2 L1055.2,447.6 L1053.4,448.6 L1051.6,449.7 L1049.8,450.7 L1048,451.7 L1046.2,452.8 L1044.4,453.8 L1042.6,454.9 L1040.8,455.9 L1039,457 L1037.2,458 L1035.4,459 L1033.6,460 L1031.8,461 L1030,462 L1028.3,463 L1026.5,464 L1024.7,465 L1022.9,465.9 L1021.2,466.9 L1019.4,467.9 L1016.8,469.3 L1014.2,470.7 L1011.5,472.2 L1008.9,473.6 L1006.3,475.1 L1004.6,476 L1002.8,477 L1001.1,478 L999.3,479 L997.6,480 L995.8,481 L994.1,482 L992.3,483 L990.6,484 L988.8,485 L987.1,486 L985.3,487 L983.6,488 L981.8,489.1 L980,490.2 L978.2,491.2 L976.5,492.3 L974.7,493.4 L972.9,494.5 L971.1,495.7 L969.3,496.8 L967.5,498 L965.6,499.2 L963.7,500.5 L961.8,501.7 L959.9,503 L958,504.2 L956.2,505.5 L954.3,506.7 L952.6,507.9 L950.9,509 L948.5,510.6 L946.3,512.1 L944.4,513.4 L942.6,514.6 L942,515 Z" fill="url(#rLum)" stroke="#1a3f66" stroke-width="2.6" stroke-linejoin="round"/>
<path d="M942,515 L939.5,515 L936.7,515 L933.7,515 L931.5,515.1 L929.3,515.1 L927,515.2 L924.7,515.3 L922.5,515.5 L920.3,515.8 L918.2,516.1 L916.1,516.6 L914.1,517.2 L912.2,517.9 L910.3,518.7 L908.5,519.6 L906,521.2 L903.6,523 L902.1,524.3 L900.7,525.8 L899.3,527.3 L898.1,528.9 L896.8,530.6 L895.7,532.3 L894.7,534.1 L893.7,535.9 L892.8,537.7 L892.1,539.6 L891.3,541.5 L890.7,543.5 L890.2,545.5 L889.8,547.5 L889.4,549.6 L889.1,551.6 L888.8,553.7 L888.6,555.8 L888.3,557.9 L888.1,559.9 L887.8,562 L887.6,564 L887.4,566.1 L887.2,568.2 L887,570.3 L887,572.4 L886.9,574.5 L886.9,576.6 L886.9,578.7 L887,580.8 L887.1,583 L887.3,585.2 L887.5,587.4 L887.7,589.5 L888.1,591.6 L888.5,593.7 L889,595.8 L889.6,597.8 L890.3,599.8 L891,601.8 L891.8,603.7 L892.7,605.6 L893.7,607.4 L894.7,609.2 L895.7,611 L896.9,612.8 L898.1,614.5 L899.3,616.2 L900.6,617.9 L901.9,619.5 L903.2,621.1 L904.5,622.7 L905.8,624.3 L907,625.9 L908.3,627.5 L909.5,629.1 L911.3,631.5 L913.1,633.8 L915.2,635.9 L917.4,637.8 L919.8,639.6 L921.5,640.7 L923.2,641.8 L925,642.8 L926.7,643.9 L928.5,644.9 L930.3,646 L932.1,647 L933.9,648.1 L935.6,649.2 L937.4,650.3 L939.2,651.4 L940.9,652.4 L942.7,653.4 L944.5,654.3 L946.3,655.1 L948.1,655.9 L950,656.6 L952,657.1 L954.9,657.8 L957.8,658.3 L959.8,658.5 L961.8,658.7 L963.8,658.7 L965.9,658.7 L968,658.5 L970,658.4 L972.1,658.2 L974.2,658 L976.3,657.8 L978.4,657.7 L980.5,657.6 L982.6,657.6 L984.6,657.6 L986.7,657.6 L988.8,657.5 L990.9,657.4 L992.9,657.2 L995,656.8 L997,656.4 L999.1,655.8 L1001.1,655.2 L1003.1,654.4 L1005,653.4 L1006.8,652.4 L1008.5,651.2 L1010.1,649.8 L1011.5,648.3 L1012.9,646.6 L1014.2,644.8 L1015.4,643.1 L1016.6,641.3 L1017.9,639.6 L1019.2,638 L1020.6,636.4 L1022,635 L1023.5,633.6 L1024.9,632.2 L1026.3,630.7 L1027.7,629.2 L1028.9,627.6 L1030.1,625.9 L1031.3,624.1 L1032.3,622.3 L1033.2,620.4 L1034.1,618.5 L1034.8,616.5 L1035.5,614.5 L1036.1,612.5 L1036.6,610.5 L1037.1,608.4 L1037.5,606.4 L1037.8,604.3 L1038.1,602.2 L1038.3,600.2 L1038.5,597.3 L1038.6,594.6 L1038.6,593.7 L1040.4,592.2 L1042.3,590.5 L1044.4,588.6 L1045.9,587.3 L1047.5,585.9 L1049.2,584.4 L1050.9,582.9 L1052.6,581.5 L1054.3,580 L1056,578.5 L1057.7,577.1 L1059.3,575.6 L1060.9,574.2 L1062.5,572.9 L1064.1,571.5 L1065.7,570.2 L1067.3,568.8 L1068.8,567.5 L1070.3,566.2 L1071.8,564.8 L1073.3,563.5 L1074.7,562.1 L1076.2,560.7 L1077.5,559.2 L1079.5,557 L1080.9,555.5 L1082.1,554 L1083.4,552.4 L1084.7,550.8 L1085.9,549.2 L1087.1,547.6 L1088.4,546 L1089.6,544.3 L1090.8,542.7 L1092,541 L1093.1,539.4 L1094.3,537.7 L1095.5,536.1 L1096.6,534.4 L1097.8,532.8 L1098.9,531.1 L1100,529.4 L1101.1,527.7 L1102.2,526 L1103.2,524.3 L1104.2,522.5 L1105.2,520.8 L1106.1,519 L1107,517.2 L1107.9,515.4 L1108.7,513.6 L1109.4,511.7 L1110.2,509.9 L1110.9,508 L1111.7,506.1 L1112.4,504.2 L1113.2,502.4 L1114,500.5 L1114.8,498.6 L1115.7,496.7 L1116.5,494.9 L1117.4,493 L1118.3,491.1 L1119.3,489.3 L1120.2,487.4 L1121.2,485.5 L1122.2,483.7 L1123.2,481.8 L1124.2,480 L1125.2,478.3 L1126.3,476.5 L1127.5,474.8 L1128.6,473.1 L1129.9,471.5 L1131.2,469.8 L1132.5,468.2 L1133.9,466.7 L1135.3,465.2 L1136.7,463.7 L1138,462.2 L1140.2,460.2 L1142.3,458.1 L1143.8,456.8 L1145.4,455.5 L1147,454.1 L1148.6,452.9 L1150.2,451.6 L1151.8,450.4 L1153.5,449.2 L1155.2,448.1 L1156.8,446.9 L1158.5,445.8 L1160.2,444.7 L1161.9,443.5 L1163.6,442.4 L1165.4,441.3 L1167.2,440.2 L1169,439.2 L1170.8,438.2 L1172.7,437.2 L1174.5,436.3 L1176.4,435.3 L1178.3,434.4 L1180.2,433.5 L1182.1,432.6 L1184,431.8 L1186,430.9 L1187.9,430 L1189.8,429.2 L1191.7,428.3 L1193.5,427.5 L1195.4,426.6 L1197.3,425.8 L1199.2,425 L1201.1,424.1 L1203,423.3 L1204.9,422.4 L1206.8,421.6 L1208.6,420.7 L1210.5,419.8 L1212.4,419 L1214.3,418.1 L1216.2,417.2 L1218.1,416.3 L1220,415.4 L1221.9,414.4 L1223.7,413.5 L1225.6,412.5 L1227.4,411.5 L1229.2,410.5 L1231.1,409.5 L1232.9,408.5 L1234.7,407.4 L1236.4,406.3 L1238.2,405.2 L1239.9,404.1 L1241.6,402.9 L1243.3,401.8 L1244.9,400.6 L1246.5,399.3 L1248.1,398.1 L1249.7,396.8 L1251.2,395.5 L1252.7,394.1 L1254.1,392.7 L1255.5,391.3 L1256.9,389.8 L1258.2,388.3 L1259.4,386.7 L1260.6,385 L1261.8,383.3 L1262.9,381.6 L1264,379.9 L1265.1,378.1 L1266.1,376.3 L1267.1,374.4 L1268,372.5 L1268.9,370.5 L1269.8,368.5 L1270.6,366.5 L1271.4,364.4 L1272.1,362.5 L1273,359.8 L1273.9,357.3 L1273.4,354.8 L1272.8,352.1 L1272.2,349.1 L1271.8,347 L1271.3,344.8 L1270.7,342.6 L1270.1,340.4 L1269.5,338.3 L1268.9,336.2 L1268.2,334.2 L1267.4,332.2 L1266.7,330.3 L1265.8,328.4 L1265,326.6 L1264.1,324.8 L1263.1,323.1 L1261.5,320.5 L1259.7,318.1 L1258.5,316.5 L1257.2,315 L1255.8,313.5 L1254.3,312.1 L1252.8,310.7 L1251.1,309.4 L1249.5,308.1 L1247.8,307 L1246,305.9 L1244.3,304.9 L1241.6,303.5 L1238.9,302.4 L1236.2,301.3 L1234.3,300.6 L1232.3,300 L1230.3,299.5 L1228.3,298.9 L1226.2,298.5 L1224.2,298.1 L1222.1,297.7 L1220,297.4 L1217.8,297.2 L1215.6,297 L1213.4,296.8 L1211.1,296.7 L1208.8,296.6 L1206.5,296.5 L1204.3,296.5 L1202.2,296.5 L1200.1,296.5 L1197.3,296.4 L1194.8,296.4 L1192.5,296.4 L1190.5,298.4 L1188.3,300.4 L1186.8,301.9 L1185.3,303.5 L1183.8,305 L1182.3,306.6 L1180.9,308.2 L1179.5,309.7 L1178.2,311.3 L1176.9,312.8 L1175.7,314.4 L1174.5,316 L1173.4,317.7 L1172.3,319.4 L1171.2,321.2 L1170.2,323 L1169.3,324.8 L1168.4,326.6 L1167.4,328.5 L1166.6,330.4 L1165.7,332.3 L1164.9,334.1 L1164.1,336 L1163.3,337.9 L1162.5,339.7 L1161.4,342.5 L1160.3,345.3 L1159.3,348.1 L1158.3,350.9 L1157.3,353.7 L1156.3,356.5 L1155.6,358.4 L1154.8,360.3 L1154,362.1 L1153.2,364 L1152.2,365.8 L1151.2,367.5 L1150.1,369.2 L1148.9,370.8 L1147.7,372.4 L1146.4,374 L1145.1,375.6 L1143.8,377.2 L1142.4,378.7 L1141.1,380.3 L1139.7,381.8 L1138.4,383.4 L1137.1,385 L1135.8,386.6 L1134.6,388.2 L1133.3,389.8 L1132.1,391.4 L1130.8,393 L1129.5,394.6 L1128.3,396.2 L1127,397.8 L1125,400 L1123.1,402.2 L1121.1,404.3 L1119,406.5 L1117.5,407.9 L1116.1,409.3 L1114.6,410.8 L1113,412.2 L1111.5,413.5 L1109.9,414.9 L1108.4,416.2 L1106.8,417.4 L1105.3,418.7 L1103.7,419.9 L1102.1,421.2 L1100.4,422.4 L1098.8,423.6 L1097.1,424.9 L1095.4,426.1 L1093.7,427.2 L1092,428.4 L1090.3,429.5 L1088.6,430.6 L1086.1,432.1 L1083.5,433.5 L1080.9,434.9 L1078.3,436.1 L1075.7,437.3 L1073,438.5 L1070.3,439.8 L1068.4,440.6 L1066.6,441.5 L1064.8,442.4 L1063,443.4 L1060.4,444.8 L1057.8,446.2 L1055.2,447.6 L1053.4,448.6 L1051.6,449.7 L1049.8,450.7 L1048,451.7 L1046.2,452.8 L1044.4,453.8 L1042.6,454.9 L1040.8,455.9 L1039,457 L1037.2,458 L1035.4,459 L1033.6,460 L1031.8,461 L1030,462 L1028.3,463 L1026.5,464 L1024.7,465 L1022.9,465.9 L1021.2,466.9 L1019.4,467.9 L1016.8,469.3 L1014.2,470.7 L1011.5,472.2 L1008.9,473.6 L1006.3,475.1 L1004.6,476 L1002.8,477 L1001.1,478 L999.3,479 L997.6,480 L995.8,481 L994.1,482 L992.3,483 L990.6,484 L988.8,485 L987.1,486 L985.3,487 L983.6,488 L981.8,489.1 L980,490.2 L978.2,491.2 L976.5,492.3 L974.7,493.4 L972.9,494.5 L971.1,495.7 L969.3,496.8 L967.5,498 L965.6,499.2 L963.7,500.5 L961.8,501.7 L959.9,503 L958,504.2 L956.2,505.5 L954.3,506.7 L952.6,507.9 L950.9,509 L948.5,510.6 L946.3,512.1 L944.4,513.4 L942.6,514.6 L942,515 Z" fill="url(#rLumC)"/>
<path d="M942,515 L939.5,515 L936.7,515 L933.7,515 L931.5,515.1 L929.3,515.1 L927,515.2 L924.7,515.3 L922.5,515.5 L920.3,515.8 L918.2,516.1 L916.1,516.6 L914.1,517.2 L912.2,517.9 L910.3,518.7 L908.5,519.6 L906,521.2 L903.6,523 L902.1,524.3 L900.7,525.8 L899.3,527.3 L898.1,528.9 L896.8,530.6 L895.7,532.3 L894.7,534.1 L893.7,535.9 L892.8,537.7 L892.1,539.6 L891.3,541.5 L890.7,543.5 L890.2,545.5 L889.8,547.5 L889.4,549.6 L889.1,551.6 L888.8,553.7 L888.6,555.8 L888.3,557.9 L888.1,559.9 L887.8,562 L887.6,564 L887.4,566.1 L887.2,568.2 L887,570.3 L887,572.4 L886.9,574.5 L886.9,576.6 L886.9,578.7 L887,580.8 L887.1,583 L887.3,585.2 L887.5,587.4 L887.7,589.5 L888.1,591.6 L888.5,593.7 L889,595.8 L889.6,597.8 L890.3,599.8 L891,601.8 L891.8,603.7 L892.7,605.6 L893.7,607.4 L894.7,609.2 L895.7,611 L896.9,612.8 L898.1,614.5 L899.3,616.2 L900.6,617.9 L901.9,619.5 L903.2,621.1 L904.5,622.7 L905.8,624.3 L907,625.9 L908.3,627.5 L909.5,629.1 L911.3,631.5 L913.1,633.8 L915.2,635.9 L917.4,637.8 L919.8,639.6 L921.5,640.7 L923.2,641.8 L925,642.8 L926.7,643.9 L928.5,644.9 L930.3,646 L932.1,647 L933.9,648.1 L935.6,649.2 L937.4,650.3 L939.2,651.4 L940.9,652.4 L942.7,653.4 L944.5,654.3 L946.3,655.1 L948.1,655.9 L950,656.6 L952,657.1 L954.9,657.8 L957.8,658.3 L959.8,658.5 L961.8,658.7 L963.8,658.7 L965.9,658.7 L968,658.5 L970,658.4 L972.1,658.2 L974.2,658 L976.3,657.8 L978.4,657.7 L980.5,657.6 L982.6,657.6 L984.6,657.6 L986.7,657.6 L988.8,657.5 L990.9,657.4 L992.9,657.2 L995,656.8 L997,656.4 L999.1,655.8 L1001.1,655.2 L1003.1,654.4 L1005,653.4 L1006.8,652.4 L1008.5,651.2 L1010.1,649.8 L1011.5,648.3 L1012.9,646.6 L1014.2,644.8 L1015.4,643.1 L1016.6,641.3 L1017.9,639.6 L1019.2,638 L1020.6,636.4 L1022,635 L1023.5,633.6 L1024.9,632.2 L1026.3,630.7 L1027.7,629.2 L1028.9,627.6 L1030.1,625.9 L1031.3,624.1 L1032.3,622.3 L1033.2,620.4 L1034.1,618.5 L1034.8,616.5 L1035.5,614.5 L1036.1,612.5 L1036.6,610.5 L1037.1,608.4 L1037.5,606.4 L1037.8,604.3 L1038.1,602.2 L1038.3,600.2 L1038.5,597.3 L1038.6,594.6 L1038.6,593.7 L1040.4,592.2 L1042.3,590.5 L1044.4,588.6 L1045.9,587.3 L1047.5,585.9 L1049.2,584.4 L1050.9,582.9 L1052.6,581.5 L1054.3,580 L1056,578.5 L1057.7,577.1 L1059.3,575.6 L1060.9,574.2 L1062.5,572.9 L1064.1,571.5 L1065.7,570.2 L1067.3,568.8 L1068.8,567.5 L1070.3,566.2 L1071.8,564.8 L1073.3,563.5 L1074.7,562.1 L1076.2,560.7 L1077.5,559.2 L1079.5,557 L1080.9,555.5 L1082.1,554 L1083.4,552.4 L1084.7,550.8 L1085.9,549.2 L1087.1,547.6 L1088.4,546 L1089.6,544.3 L1090.8,542.7 L1092,541 L1093.1,539.4 L1094.3,537.7 L1095.5,536.1 L1096.6,534.4 L1097.8,532.8 L1098.9,531.1 L1100,529.4 L1101.1,527.7 L1102.2,526 L1103.2,524.3 L1104.2,522.5 L1105.2,520.8 L1106.1,519 L1107,517.2 L1107.9,515.4 L1108.7,513.6 L1109.4,511.7 L1110.2,509.9 L1110.9,508 L1111.7,506.1 L1112.4,504.2 L1113.2,502.4 L1114,500.5 L1114.8,498.6 L1115.7,496.7 L1116.5,494.9 L1117.4,493 L1118.3,491.1 L1119.3,489.3 L1120.2,487.4 L1121.2,485.5 L1122.2,483.7 L1123.2,481.8 L1124.2,480 L1125.2,478.3 L1126.3,476.5 L1127.5,474.8 L1128.6,473.1 L1129.9,471.5 L1131.2,469.8 L1132.5,468.2 L1133.9,466.7 L1135.3,465.2 L1136.7,463.7 L1138,462.2 L1140.2,460.2 L1142.3,458.1 L1143.8,456.8 L1145.4,455.5 L1147,454.1 L1148.6,452.9 L1150.2,451.6 L1151.8,450.4 L1153.5,449.2 L1155.2,448.1 L1156.8,446.9 L1158.5,445.8 L1160.2,444.7 L1161.9,443.5 L1163.6,442.4 L1165.4,441.3 L1167.2,440.2 L1169,439.2 L1170.8,438.2 L1172.7,437.2 L1174.5,436.3 L1176.4,435.3 L1178.3,434.4 L1180.2,433.5 L1182.1,432.6 L1184,431.8 L1186,430.9 L1187.9,430 L1189.8,429.2 L1191.7,428.3 L1193.5,427.5 L1195.4,426.6 L1197.3,425.8 L1199.2,425 L1201.1,424.1 L1203,423.3 L1204.9,422.4 L1206.8,421.6 L1208.6,420.7 L1210.5,419.8 L1212.4,419 L1214.3,418.1 L1216.2,417.2 L1218.1,416.3 L1220,415.4 L1221.9,414.4 L1223.7,413.5 L1225.6,412.5 L1227.4,411.5 L1229.2,410.5 L1231.1,409.5 L1232.9,408.5 L1234.7,407.4 L1236.4,406.3 L1238.2,405.2 L1239.9,404.1 L1241.6,402.9 L1243.3,401.8 L1244.9,400.6 L1246.5,399.3 L1248.1,398.1 L1249.7,396.8 L1251.2,395.5 L1252.7,394.1 L1254.1,392.7 L1255.5,391.3 L1256.9,389.8 L1258.2,388.3 L1259.4,386.7 L1260.6,385 L1261.8,383.3 L1262.9,381.6 L1264,379.9 L1265.1,378.1 L1266.1,376.3 L1267.1,374.4 L1268,372.5 L1268.9,370.5 L1269.8,368.5 L1270.6,366.5 L1271.4,364.4 L1272.1,362.5 L1273,359.8 L1273.9,357.3 L1273.4,354.8 L1272.8,352.1 L1272.2,349.1 L1271.8,347 L1271.3,344.8 L1270.7,342.6 L1270.1,340.4 L1269.5,338.3 L1268.9,336.2 L1268.2,334.2 L1267.4,332.2 L1266.7,330.3 L1265.8,328.4 L1265,326.6 L1264.1,324.8 L1263.1,323.1 L1261.5,320.5 L1259.7,318.1 L1258.5,316.5 L1257.2,315 L1255.8,313.5 L1254.3,312.1 L1252.8,310.7 L1251.1,309.4 L1249.5,308.1 L1247.8,307 L1246,305.9 L1244.3,304.9 L1241.6,303.5 L1238.9,302.4 L1236.2,301.3 L1234.3,300.6 L1232.3,300 L1230.3,299.5 L1228.3,298.9 L1226.2,298.5 L1224.2,298.1 L1222.1,297.7 L1220,297.4 L1217.8,297.2 L1215.6,297 L1213.4,296.8 L1211.1,296.7 L1208.8,296.6 L1206.5,296.5 L1204.3,296.5 L1202.2,296.5 L1200.1,296.5 L1197.3,296.4 L1194.8,296.4 L1192.5,296.4 L1190.5,298.4 L1188.3,300.4 L1186.8,301.9 L1185.3,303.5 L1183.8,305 L1182.3,306.6 L1180.9,308.2 L1179.5,309.7 L1178.2,311.3 L1176.9,312.8 L1175.7,314.4 L1174.5,316 L1173.4,317.7 L1172.3,319.4 L1171.2,321.2 L1170.2,323 L1169.3,324.8 L1168.4,326.6 L1167.4,328.5 L1166.6,330.4 L1165.7,332.3 L1164.9,334.1 L1164.1,336 L1163.3,337.9 L1162.5,339.7 L1161.4,342.5 L1160.3,345.3 L1159.3,348.1 L1158.3,350.9 L1157.3,353.7 L1156.3,356.5 L1155.6,358.4 L1154.8,360.3 L1154,362.1 L1153.2,364 L1152.2,365.8 L1151.2,367.5 L1150.1,369.2 L1148.9,370.8 L1147.7,372.4 L1146.4,374 L1145.1,375.6 L1143.8,377.2 L1142.4,378.7 L1141.1,380.3 L1139.7,381.8 L1138.4,383.4 L1137.1,385 L1135.8,386.6 L1134.6,388.2 L1133.3,389.8 L1132.1,391.4 L1130.8,393 L1129.5,394.6 L1128.3,396.2 L1127,397.8 L1125,400 L1123.1,402.2 L1121.1,404.3 L1119,406.5 L1117.5,407.9 L1116.1,409.3 L1114.6,410.8 L1113,412.2 L1111.5,413.5 L1109.9,414.9 L1108.4,416.2 L1106.8,417.4 L1105.3,418.7 L1103.7,419.9 L1102.1,421.2 L1100.4,422.4 L1098.8,423.6 L1097.1,424.9 L1095.4,426.1 L1093.7,427.2 L1092,428.4 L1090.3,429.5 L1088.6,430.6 L1086.1,432.1 L1083.5,433.5 L1080.9,434.9 L1078.3,436.1 L1075.7,437.3 L1073,438.5 L1070.3,439.8 L1068.4,440.6 L1066.6,441.5 L1064.8,442.4 L1063,443.4 L1060.4,444.8 L1057.8,446.2 L1055.2,447.6 L1053.4,448.6 L1051.6,449.7 L1049.8,450.7 L1048,451.7 L1046.2,452.8 L1044.4,453.8 L1042.6,454.9 L1040.8,455.9 L1039,457 L1037.2,458 L1035.4,459 L1033.6,460 L1031.8,461 L1030,462 L1028.3,463 L1026.5,464 L1024.7,465 L1022.9,465.9 L1021.2,466.9 L1019.4,467.9 L1016.8,469.3 L1014.2,470.7 L1011.5,472.2 L1008.9,473.6 L1006.3,475.1 L1004.6,476 L1002.8,477 L1001.1,478 L999.3,479 L997.6,480 L995.8,481 L994.1,482 L992.3,483 L990.6,484 L988.8,485 L987.1,486 L985.3,487 L983.6,488 L981.8,489.1 L980,490.2 L978.2,491.2 L976.5,492.3 L974.7,493.4 L972.9,494.5 L971.1,495.7 L969.3,496.8 L967.5,498 L965.6,499.2 L963.7,500.5 L961.8,501.7 L959.9,503 L958,504.2 L956.2,505.5 L954.3,506.7 L952.6,507.9 L950.9,509 L948.5,510.6 L946.3,512.1 L944.4,513.4 L942.6,514.6 L942,515 Z" fill="none" stroke="#6394c4" stroke-width="11" clip-path="url(#lumClip)" opacity="0.9"/>
<path d="M942,515 L939.5,515 L936.7,515 L933.7,515 L931.5,515.1 L929.3,515.1 L927,515.2 L924.7,515.3 L922.5,515.5 L920.3,515.8 L918.2,516.1 L916.1,516.6 L914.1,517.2 L912.2,517.9 L910.3,518.7 L908.5,519.6 L906,521.2 L903.6,523 L902.1,524.3 L900.7,525.8 L899.3,527.3 L898.1,528.9 L896.8,530.6 L895.7,532.3 L894.7,534.1 L893.7,535.9 L892.8,537.7 L892.1,539.6 L891.3,541.5 L890.7,543.5 L890.2,545.5 L889.8,547.5 L889.4,549.6 L889.1,551.6 L888.8,553.7 L888.6,555.8 L888.3,557.9 L888.1,559.9 L887.8,562 L887.6,564 L887.4,566.1 L887.2,568.2 L887,570.3 L887,572.4 L886.9,574.5 L886.9,576.6 L886.9,578.7 L887,580.8 L887.1,583 L887.3,585.2 L887.5,587.4 L887.7,589.5 L888.1,591.6 L888.5,593.7 L889,595.8 L889.6,597.8 L890.3,599.8 L891,601.8 L891.8,603.7 L892.7,605.6 L893.7,607.4 L894.7,609.2 L895.7,611 L896.9,612.8 L898.1,614.5 L899.3,616.2 L900.6,617.9 L901.9,619.5 L903.2,621.1 L904.5,622.7 L905.8,624.3 L907,625.9 L908.3,627.5 L909.5,629.1 L911.3,631.5 L913.1,633.8 L915.2,635.9 L917.4,637.8 L919.8,639.6 L921.5,640.7 L923.2,641.8 L925,642.8 L926.7,643.9 L928.5,644.9 L930.3,646 L932.1,647 L933.9,648.1 L935.6,649.2 L937.4,650.3 L939.2,651.4 L940.9,652.4 L942.7,653.4 L944.5,654.3 L946.3,655.1 L948.1,655.9 L950,656.6 L952,657.1 L954.9,657.8 L957.8,658.3 L959.8,658.5 L961.8,658.7 L963.8,658.7 L965.9,658.7 L968,658.5 L970,658.4 L972.1,658.2 L974.2,658 L976.3,657.8 L978.4,657.7 L980.5,657.6 L982.6,657.6 L984.6,657.6 L986.7,657.6 L988.8,657.5 L990.9,657.4 L992.9,657.2 L995,656.8 L997,656.4 L999.1,655.8 L1001.1,655.2 L1003.1,654.4 L1005,653.4 L1006.8,652.4 L1008.5,651.2 L1010.1,649.8 L1011.5,648.3 L1012.9,646.6 L1014.2,644.8 L1015.4,643.1 L1016.6,641.3 L1017.9,639.6 L1019.2,638 L1020.6,636.4 L1022,635 L1023.5,633.6 L1024.9,632.2 L1026.3,630.7 L1027.7,629.2 L1028.9,627.6 L1030.1,625.9 L1031.3,624.1 L1032.3,622.3 L1033.2,620.4 L1034.1,618.5 L1034.8,616.5 L1035.5,614.5 L1036.1,612.5 L1036.6,610.5 L1037.1,608.4 L1037.5,606.4 L1037.8,604.3 L1038.1,602.2 L1038.3,600.2 L1038.5,597.3 L1038.6,594.6 L1038.6,593.7 L1040.4,592.2 L1042.3,590.5 L1044.4,588.6 L1045.9,587.3 L1047.5,585.9 L1049.2,584.4 L1050.9,582.9 L1052.6,581.5 L1054.3,580 L1056,578.5 L1057.7,577.1 L1059.3,575.6 L1060.9,574.2 L1062.5,572.9 L1064.1,571.5 L1065.7,570.2 L1067.3,568.8 L1068.8,567.5 L1070.3,566.2 L1071.8,564.8 L1073.3,563.5 L1074.7,562.1 L1076.2,560.7 L1077.5,559.2 L1079.5,557 L1080.9,555.5 L1082.1,554 L1083.4,552.4 L1084.7,550.8 L1085.9,549.2 L1087.1,547.6 L1088.4,546 L1089.6,544.3 L1090.8,542.7 L1092,541 L1093.1,539.4 L1094.3,537.7 L1095.5,536.1 L1096.6,534.4 L1097.8,532.8 L1098.9,531.1 L1100,529.4 L1101.1,527.7 L1102.2,526 L1103.2,524.3 L1104.2,522.5 L1105.2,520.8 L1106.1,519 L1107,517.2 L1107.9,515.4 L1108.7,513.6 L1109.4,511.7 L1110.2,509.9 L1110.9,508 L1111.7,506.1 L1112.4,504.2 L1113.2,502.4 L1114,500.5 L1114.8,498.6 L1115.7,496.7 L1116.5,494.9 L1117.4,493 L1118.3,491.1 L1119.3,489.3 L1120.2,487.4 L1121.2,485.5 L1122.2,483.7 L1123.2,481.8 L1124.2,480 L1125.2,478.3 L1126.3,476.5 L1127.5,474.8 L1128.6,473.1 L1129.9,471.5 L1131.2,469.8 L1132.5,468.2 L1133.9,466.7 L1135.3,465.2 L1136.7,463.7 L1138,462.2 L1140.2,460.2 L1142.3,458.1 L1143.8,456.8 L1145.4,455.5 L1147,454.1 L1148.6,452.9 L1150.2,451.6 L1151.8,450.4 L1153.5,449.2 L1155.2,448.1 L1156.8,446.9 L1158.5,445.8 L1160.2,444.7 L1161.9,443.5 L1163.6,442.4 L1165.4,441.3 L1167.2,440.2 L1169,439.2 L1170.8,438.2 L1172.7,437.2 L1174.5,436.3 L1176.4,435.3 L1178.3,434.4 L1180.2,433.5 L1182.1,432.6 L1184,431.8 L1186,430.9 L1187.9,430 L1189.8,429.2 L1191.7,428.3 L1193.5,427.5 L1195.4,426.6 L1197.3,425.8 L1199.2,425 L1201.1,424.1 L1203,423.3 L1204.9,422.4 L1206.8,421.6 L1208.6,420.7 L1210.5,419.8 L1212.4,419 L1214.3,418.1 L1216.2,417.2 L1218.1,416.3 L1220,415.4 L1221.9,414.4 L1223.7,413.5 L1225.6,412.5 L1227.4,411.5 L1229.2,410.5 L1231.1,409.5 L1232.9,408.5 L1234.7,407.4 L1236.4,406.3 L1238.2,405.2 L1239.9,404.1 L1241.6,402.9 L1243.3,401.8 L1244.9,400.6 L1246.5,399.3 L1248.1,398.1 L1249.7,396.8 L1251.2,395.5 L1252.7,394.1 L1254.1,392.7 L1255.5,391.3 L1256.9,389.8 L1258.2,388.3 L1259.4,386.7 L1260.6,385 L1261.8,383.3 L1262.9,381.6 L1264,379.9 L1265.1,378.1 L1266.1,376.3 L1267.1,374.4 L1268,372.5 L1268.9,370.5 L1269.8,368.5 L1270.6,366.5 L1271.4,364.4 L1272.1,362.5 L1273,359.8 L1273.9,357.3 L1273.4,354.8 L1272.8,352.1 L1272.2,349.1 L1271.8,347 L1271.3,344.8 L1270.7,342.6 L1270.1,340.4 L1269.5,338.3 L1268.9,336.2 L1268.2,334.2 L1267.4,332.2 L1266.7,330.3 L1265.8,328.4 L1265,326.6 L1264.1,324.8 L1263.1,323.1 L1261.5,320.5 L1259.7,318.1 L1258.5,316.5 L1257.2,315 L1255.8,313.5 L1254.3,312.1 L1252.8,310.7 L1251.1,309.4 L1249.5,308.1 L1247.8,307 L1246,305.9 L1244.3,304.9 L1241.6,303.5 L1238.9,302.4 L1236.2,301.3 L1234.3,300.6 L1232.3,300 L1230.3,299.5 L1228.3,298.9 L1226.2,298.5 L1224.2,298.1 L1222.1,297.7 L1220,297.4 L1217.8,297.2 L1215.6,297 L1213.4,296.8 L1211.1,296.7 L1208.8,296.6 L1206.5,296.5 L1204.3,296.5 L1202.2,296.5 L1200.1,296.5 L1197.3,296.4 L1194.8,296.4 L1192.5,296.4 L1190.5,298.4 L1188.3,300.4 L1186.8,301.9 L1185.3,303.5 L1183.8,305 L1182.3,306.6 L1180.9,308.2 L1179.5,309.7 L1178.2,311.3 L1176.9,312.8 L1175.7,314.4 L1174.5,316 L1173.4,317.7 L1172.3,319.4 L1171.2,321.2 L1170.2,323 L1169.3,324.8 L1168.4,326.6 L1167.4,328.5 L1166.6,330.4 L1165.7,332.3 L1164.9,334.1 L1164.1,336 L1163.3,337.9 L1162.5,339.7 L1161.4,342.5 L1160.3,345.3 L1159.3,348.1 L1158.3,350.9 L1157.3,353.7 L1156.3,356.5 L1155.6,358.4 L1154.8,360.3 L1154,362.1 L1153.2,364 L1152.2,365.8 L1151.2,367.5 L1150.1,369.2 L1148.9,370.8 L1147.7,372.4 L1146.4,374 L1145.1,375.6 L1143.8,377.2 L1142.4,378.7 L1141.1,380.3 L1139.7,381.8 L1138.4,383.4 L1137.1,385 L1135.8,386.6 L1134.6,388.2 L1133.3,389.8 L1132.1,391.4 L1130.8,393 L1129.5,394.6 L1128.3,396.2 L1127,397.8 L1125,400 L1123.1,402.2 L1121.1,404.3 L1119,406.5 L1117.5,407.9 L1116.1,409.3 L1114.6,410.8 L1113,412.2 L1111.5,413.5 L1109.9,414.9 L1108.4,416.2 L1106.8,417.4 L1105.3,418.7 L1103.7,419.9 L1102.1,421.2 L1100.4,422.4 L1098.8,423.6 L1097.1,424.9 L1095.4,426.1 L1093.7,427.2 L1092,428.4 L1090.3,429.5 L1088.6,430.6 L1086.1,432.1 L1083.5,433.5 L1080.9,434.9 L1078.3,436.1 L1075.7,437.3 L1073,438.5 L1070.3,439.8 L1068.4,440.6 L1066.6,441.5 L1064.8,442.4 L1063,443.4 L1060.4,444.8 L1057.8,446.2 L1055.2,447.6 L1053.4,448.6 L1051.6,449.7 L1049.8,450.7 L1048,451.7 L1046.2,452.8 L1044.4,453.8 L1042.6,454.9 L1040.8,455.9 L1039,457 L1037.2,458 L1035.4,459 L1033.6,460 L1031.8,461 L1030,462 L1028.3,463 L1026.5,464 L1024.7,465 L1022.9,465.9 L1021.2,466.9 L1019.4,467.9 L1016.8,469.3 L1014.2,470.7 L1011.5,472.2 L1008.9,473.6 L1006.3,475.1 L1004.6,476 L1002.8,477 L1001.1,478 L999.3,479 L997.6,480 L995.8,481 L994.1,482 L992.3,483 L990.6,484 L988.8,485 L987.1,486 L985.3,487 L983.6,488 L981.8,489.1 L980,490.2 L978.2,491.2 L976.5,492.3 L974.7,493.4 L972.9,494.5 L971.1,495.7 L969.3,496.8 L967.5,498 L965.6,499.2 L963.7,500.5 L961.8,501.7 L959.9,503 L958,504.2 L956.2,505.5 L954.3,506.7 L952.6,507.9 L950.9,509 L948.5,510.6 L946.3,512.1 L944.4,513.4 L942.6,514.6 L942,515 Z" fill="none" stroke="#1a3f66" stroke-width="2.4"/>
<g fill="#d3ecfa" opacity="0.4" filter="url(#soft)"><ellipse cx="975" cy="468" rx="14" ry="4" transform="rotate(-33 975 468)"/><ellipse cx="1005" cy="456" rx="16" ry="5" transform="rotate(-33 1005 456)"/><ellipse cx="1040" cy="440" rx="18" ry="5" transform="rotate(-35 1040 440)"/><ellipse cx="1072" cy="420" rx="16" ry="5" transform="rotate(-40 1072 420)"/><ellipse cx="1098" cy="398" rx="15" ry="5" transform="rotate(-45 1098 398)"/><ellipse cx="1122" cy="375" rx="13" ry="5" transform="rotate(-50 1122 375)"/><ellipse cx="1140" cy="352" rx="10" ry="4" transform="rotate(-55 1140 352)"/><ellipse cx="1158" cy="330" rx="8" ry="4" transform="rotate(-55 1158 330)"/><ellipse cx="1030" cy="452" rx="10" ry="3" transform="rotate(-35 1030 452)"/><ellipse cx="1090" cy="412" rx="9" ry="3" transform="rotate(-42 1090 412)"/><ellipse cx="1150" cy="478" rx="16" ry="5" transform="rotate(-40 1150 478)"/><ellipse cx="1178" cy="456" rx="15" ry="5" transform="rotate(-38 1178 456)"/><ellipse cx="1205" cy="436" rx="16" ry="5" transform="rotate(-35 1205 436)"/><ellipse cx="1232" cy="418" rx="14" ry="4" transform="rotate(-33 1232 418)"/><ellipse cx="1128" cy="505" rx="13" ry="5" transform="rotate(-50 1128 505)"/><ellipse cx="1112" cy="530" rx="10" ry="4" transform="rotate(-55 1112 530)"/><ellipse cx="1258" cy="398" rx="10" ry="4" transform="rotate(-35 1258 398)"/><ellipse cx="1192" cy="470" rx="10" ry="3" transform="rotate(-40 1192 470)"/><ellipse cx="1160" cy="500" rx="9" ry="3" transform="rotate(-45 1160 500)"/><ellipse cx="1096" cy="552" rx="8" ry="3" transform="rotate(-50 1096 552)"/><ellipse cx="874" cy="560" rx="4" ry="12" transform="rotate(0 874 560)"/><ellipse cx="878" cy="595" rx="4" ry="11" transform="rotate(-12 878 595)"/><ellipse cx="890" cy="626" rx="5" ry="10" transform="rotate(-35 890 626)"/><ellipse cx="910" cy="650" rx="10" ry="4" transform="rotate(-25 910 650)"/><ellipse cx="942" cy="666" rx="12" ry="4" transform="rotate(-5 942 666)"/><ellipse cx="978" cy="671" rx="12" ry="4" transform="rotate(0 978 671)"/><ellipse cx="1016" cy="662" rx="10" ry="4" transform="rotate(25 1016 662)"/><ellipse cx="1045" cy="632" rx="4" ry="10" transform="rotate(25 1045 632)"/><ellipse cx="905" cy="506" rx="10" ry="4" transform="rotate(-12 905 506)"/><ellipse cx="928" cy="502" rx="9" ry="3" transform="rotate(0 928 502)"/></g>
<g fill="#5f97cc" opacity="0.45" filter="url(#soft)"><ellipse cx="990" cy="470" rx="12" ry="2.5" transform="rotate(-33 990 470)"/><ellipse cx="1055" cy="438" rx="14" ry="2.5" transform="rotate(-37 1055 438)"/><ellipse cx="1110" cy="395" rx="12" ry="2.5" transform="rotate(-47 1110 395)"/><ellipse cx="1170" cy="470" rx="14" ry="2.5" transform="rotate(-40 1170 470)"/><ellipse cx="1220" cy="432" rx="12" ry="2.5" transform="rotate(-35 1220 432)"/><ellipse cx="1140" cy="500" rx="10" ry="2.5" transform="rotate(-47 1140 500)"/></g>
<path d="M941.6,455.7 L941.6,515 M900,456 L941.6,455.7" fill="none" stroke="#1a3f66" stroke-width="2.4"/>
<path d="M1038.6,593.7 L1061.3,598.4 L1091.1,607.8 M1273.9,357.3 L1328.6,359.5" fill="none" stroke="#1a3f66" stroke-width="2.4"/>
<path d="M923.1,438.7 L925.4,437 L927.7,435.3 L930,433.5 L932.3,431.7 L934.6,429.9 L937,428.1 L938.6,426.8 L940.2,425.6 L941.9,424.3 L943.5,423.1 L945.1,421.8 L947.5,420 L949.8,418.2 L952.2,416.4 L953.8,415.2 L955.4,414 L957.1,412.8 L958.7,411.5 L960.4,410.3 L962,409 L963.7,407.8 L965.4,406.5 L967.1,405.3 L968.7,404.1 L970.4,402.8 L972,401.7 L973.6,400.5 L976,398.8 L978.4,397.1 L980.7,395.6 L983,394 L985.3,392.5 L987.6,390.9 L990,389.3 L991.7,388.1 L993.4,386.9 L995.1,385.7 L996.9,384.4 L998.7,383.1 L1000.4,381.8 L1002.1,380.5 L1003.8,379.2 L1006.1,377.4 L1008.3,375.6 L1010.6,373.8 L1012.9,372 L1014.4,370.7 L1016,369.4 L1017.7,368 L1019.3,366.7 L1020.9,365.3 L1022.6,364 L1024.3,362.6 L1026,361.2 L1027.7,359.8 L1029.3,358.4 L1031,357 L1032.7,355.6 L1034.3,354.2 L1036,352.9 L1037.6,351.6 L1039.2,350.2 L1040.7,348.9 L1043,347.1 L1045.2,345.2 L1047.5,343.4 L1049.8,341.5 L1051.4,340.2 L1053.1,338.8 L1054.8,337.4 L1056.5,336.1 L1058.2,334.7 L1059.8,333.4 L1061.4,332.1 L1063.7,330.3 L1066,328.5 L1068.2,326.7 L1070.3,325 L1072.5,323.3 L1074.7,321.5 L1076.9,319.8 L1079.2,317.9 L1081.5,316.1 L1083.1,314.8 L1084.7,313.6 L1086.3,312.3 L1087.9,311 L1089.5,309.8 L1091.1,308.5 L1092.7,307.2 L1094.3,306 L1095.9,304.7 L1097.5,303.4 L1099.1,302.2 L1100.6,300.9 L1103,299 L1105.3,297.1 L1106.8,295.8 L1108.3,294.5 L1109.9,293.2 L1111.5,291.8 L1113,290.4 L1114.6,289 L1116.1,287.6 L1117.7,286.2 L1119.2,284.8 L1120.7,283.4 L1122.2,282 L1123.6,280.6 L1125.1,279.3 L1126.6,277.9 L1128.8,275.9 L1131,273.9 L1132.5,272.5 L1134.1,271.2 L1135.6,269.9 L1137.1,268.5 L1138.7,267.2 L1140.2,265.9 L1141.8,264.6 L1143.3,263.3 L1144.8,262 L1147.1,260.1 L1149.4,258.2 L1151,256.9 L1152.5,255.6 L1154,254.2 L1155.6,252.9 L1157.1,251.6 L1158.6,250.2 L1160.2,248.9 L1161.7,247.5 L1163.3,246.1 L1164.8,244.8 L1166.3,243.4 L1167.8,242 L1169.4,240.7 L1170.8,239.3 L1173,237.3 L1175.2,235.2 L1176.7,233.8 L1178.2,232.4 L1179.6,230.9 L1181.1,229.4 L1182.6,227.9 L1184.1,226.3 L1185.5,224.8 L1186.9,223.4 L1188.3,221.9 L1190.4,219.8 L1192.5,217.7 L1194,216.3 L1195.5,214.9 L1197.1,213.5 L1198.7,212.1 L1200.3,210.8 L1201.9,209.5 L1203.5,208.3 L1205.1,207.1 L1206.7,205.8 L1208.4,204.7 L1210.2,203.5 L1211.9,202.3 L1213.7,201.2 L1215.5,200.1 L1217.3,199 L1219.2,198 L1221,197.1 L1222.9,196.1 L1224.8,195.3 L1226.7,194.5 L1228.6,193.7 L1230.6,193.1 L1232.5,192.4 L1234.5,191.8 L1236.4,191.3 L1238.5,190.8 L1240.5,190.4 L1242.5,190 L1244.6,189.7 L1246.7,189.4 L1248.8,189.1 L1250.9,188.9 L1252.9,188.7 L1255,188.5 L1257.1,188.4 L1259.2,188.3 L1261.3,188.3 L1263.4,188.3 L1265.5,188.3 L1267.6,188.4 L1269.7,188.5 L1271.8,188.7 L1273.9,189 L1276,189.3 L1278,189.7 L1280.1,190.3 L1282,190.9 L1284,191.6 L1285.9,192.3 L1287.9,193.2 L1289.8,194 L1291.8,194.8 L1293.7,195.6 L1295.7,196.4 L1297.6,197.2 L1299.6,198 L1301.6,198.9 L1303.5,199.7 L1305.4,200.6 L1307.3,201.5 L1309.1,202.5 L1310.9,203.5 L1312.7,204.5 L1314.5,205.5 L1316.3,206.6 L1318,207.7 L1319.7,208.9 L1321.4,210.1 L1323,211.3 L1324.7,212.6 L1326.3,213.9 L1327.9,215.2 L1329.5,216.5 L1331.1,217.9 L1332.7,219.3 L1334.2,220.7 L1335.7,222.1 L1337.2,223.5 L1338.7,224.9 L1340.2,226.4 L1341.6,227.9 L1343.1,229.4 L1344.5,230.9 L1345.9,232.4 L1347.3,234 L1348.6,235.6 L1349.9,237.2 L1351.2,238.9 L1352.5,240.5 L1353.7,242.2 L1354.9,243.9 L1356.1,245.6 L1357.2,247.3 L1358.4,249.1 L1359.4,250.8 L1360.5,252.6 L1361.5,254.4 L1362.4,256.2 L1363.4,258.1 L1364.3,259.9 L1365.2,261.8 L1366,263.6 L1366.8,265.5 L1367.6,267.4 L1368.4,269.3 L1369.1,271.3 L1369.9,273.2 L1370.5,275.1 L1371.2,277.1 L1371.8,279 L1372.4,281 L1372.9,283 L1373.4,284.9 L1373.9,286.9 L1374.4,288.9 L1374.8,290.8 L1375.2,292.8 L1375.5,294.8 L1375.8,296.8 L1376.1,298.8 L1376.3,301.8 L1376.5,304.8 L1376.6,306.8 L1376.6,308.8 L1376.5,310.8 L1376.4,312.8 L1376.3,314.8 L1376.1,316.8 L1375.8,318.8 L1375.5,320.8 L1375.1,322.8 L1374.7,324.8 L1374.2,326.8 L1373.7,328.8 L1373.1,330.8 L1372.5,332.7 L1371.8,334.7 L1371.1,336.6 L1370.4,338.5 L1369.6,340.4 L1368.7,342.2 L1367.8,344.1 L1366.9,345.9 L1366,347.7 L1365,349.5 L1364,351.2 L1362.9,353 L1361.8,354.7 L1360.7,356.4 L1359.5,358.1 L1358.3,359.8 L1357.1,361.4 L1355.8,363.1 L1354.6,364.7 L1353.3,366.3 L1352,368 L1350.8,369.6 L1349.5,371.2 L1348.3,372.8 L1347,374.4 L1345.8,376 L1344.5,377.6 L1343.2,379.2 L1341.9,380.8 L1340.7,382.5 L1339.4,384.1 L1338.1,385.7 L1336.8,387.4 L1335.5,389 L1334.2,390.6 L1332.9,392.3 L1331.6,393.9 L1330.3,395.6 L1329,397.2 L1327.6,398.9 L1326.3,400.5 L1325,402.2 L1323.7,403.8 L1322.3,405.5 L1321,407.1 L1319.7,408.8 L1318.4,410.4 L1317.1,412 L1315.7,413.6 L1314.4,415.3 L1313.2,416.9 L1311.9,418.5 L1310.6,420.1 L1309.4,421.7 L1308.1,423.3 L1306.9,424.9 L1305.7,426.5 L1303.9,428.9 L1302.2,431.3 L1300.4,433.8 L1298.6,436.2 L1296.8,438.6 L1295.7,440.2 L1294.5,441.8 L1293.3,443.4 L1292.1,445.1 L1290.9,446.7 L1289.7,448.4 L1288.6,450 L1287.4,451.6 L1286.2,453.3 L1284.5,455.7 L1282.8,458.2 L1281.2,460.6 L1279.5,463 L1277.9,465.4 L1276.7,467.1 L1275.6,468.7 L1274.5,470.4 L1273.3,472.1 L1272.1,473.8 L1271,475.4 L1269.9,477.1 L1268.7,478.7 L1267.6,480.4 L1266.4,482 L1265.3,483.7 L1264.1,485.4 L1262.9,487.1 L1261.7,488.8 L1260.5,490.5 L1259.3,492.2 L1258,493.9 L1256.8,495.5 L1255.6,497.2 L1254.3,498.8 L1253.1,500.4 L1251.8,502 L1250.5,503.7 L1249.3,505.3 L1248,506.8 L1246.7,508.4 L1245.4,510 L1244.1,511.6 L1242.8,513.1 L1241.5,514.7 L1240.2,516.2 L1238.9,517.8 L1237.6,519.3 L1236.2,520.9 L1234.9,522.4 L1233.5,524 L1232.1,525.6 L1230.8,527.1 L1229.4,528.7 L1228,530.2 L1226.6,531.7 L1225.2,533.3 L1223.8,534.8 L1222.5,536.3 L1221.1,537.8 L1219.7,539.3 L1218.2,540.8 L1216.8,542.3 L1215.4,543.7 L1214,545.2 L1212.5,546.7 L1211.1,548.1 L1209.6,549.6 L1208.2,551 L1206.8,552.4 L1205.3,553.8 L1203.9,555.2 L1202.4,556.6 L1200.9,558 L1199.5,559.4 L1198,560.8 L1196.5,562.1 L1195,563.5 L1193.5,564.8 L1192,566.2 L1190.5,567.5 L1188.2,569.5 L1186.7,570.8 L1185.2,572.1 L1183.7,573.4 L1182.1,574.7 L1180.5,576 L1178.9,577.3 L1177.3,578.7 L1175.7,580 L1174.1,581.3 L1172.5,582.6 L1171,583.9 L1169.4,585.2 L1167.9,586.5 L1165.7,588.5 L1163.6,590.6 L1161.5,592.7 L1159.4,594.9 L1158.1,596.4 L1156.8,597.9 L1155.4,599.4 L1154,601 L1152.7,602.5 L1151.4,604.1 L1149.5,606.3 L1147.6,608.5 L1145.6,610.8 L1144.3,612.3 L1143,613.9 L1141.7,615.4 L1140.3,617 L1138.9,618.6 L1137.5,620.2 L1136.1,621.8 L1134.7,623.3 L1133.3,624.9 L1131.9,626.4 L1130.5,627.9 L1129.1,629.4 L1127.7,630.9 L1126.3,632.4 L1124.9,633.8 L1123.4,635.3 L1122,636.8 L1120.5,638.2 L1119.1,639.7 L1117.6,641.1 L1116.2,642.5 L1114.7,644 L1113.3,645.4 L1111.8,646.8 L1110.4,648.2 L1108.9,649.6 L1107.4,651 L1105.9,652.4 L1104.4,653.7 L1102.9,655.1 L1101.4,656.5 L1099.9,657.8 L1098.4,659.2 L1096.9,660.5 L1095.4,661.8 L1093.9,663.2 L1092.4,664.5 L1090.8,665.8 L1089.3,667.1 L1087.7,668.4 L1086.1,669.7 L1084.5,671 L1082.9,672.3 L1081.2,673.6 L1079.6,674.9 L1077.9,676.2 L1076.3,677.5 L1074.6,678.7 L1072.9,680 L1071.3,681.2 L1069.7,682.4 L1068.1,683.6 L1065.6,685.4 L1064,686.6 L1062.4,687.8 L1060.7,689 L1059.1,690.2 L1057.4,691.4 L1055,693.1 L1052.6,694.7 L1050.1,696.3 L1047.6,697.9 L1045.9,699 L1044.2,700 L1042.4,701.1 L1040.6,702.1 L1038.8,703.1 L1037,704.2 L1035.1,705.2 L1033.3,706.1 L1031.5,707.1 L1029.7,707.9 L1027.8,708.8 L1026,709.5 L1024.1,710.3 L1022.2,710.9 L1020.2,711.5 L1018.3,712 L1015.4,712.7 L1012.5,713.3 L1009.5,713.8 L1007.5,714.1 L1005.5,714.4 L1003.4,714.6 L1001.3,714.8 L999.2,715 L997.1,715.1 L995.1,715.2 L993,715.3 L990.9,715.3 L988.8,715.2 L986.7,715.2 L984.6,715.1 L982.6,714.9 L980.5,714.7 L978.4,714.6 L976.3,714.3 L974.2,714.1 L972.1,713.8 L970,713.5 L968,713.2 L965.9,712.8 L963.8,712.4 L961.8,711.9 L959.8,711.3 L957.8,710.7 L955.8,710.1 L953.9,709.4 L951.9,708.7 L950,707.9 L948.1,707.2 L946.2,706.4 L944.3,705.6 L942.4,704.8 L940.5,704 L938.7,703.2 L936.9,702.4 L935,701.5 L933.2,700.6 L930.6,699.2 L928,697.8 L925.4,696.3 L922.9,694.8 L921.2,693.8 L919.4,692.7 L917.7,691.6 L916,690.5 L913.5,688.9 L911,687.3 L908.6,685.6 L906.1,684 L904.4,682.8 L902.7,681.6 L901,680.4 L899.3,679.2 L897.7,678 L896,676.7 L894.4,675.4 L892.8,674.2 L891.3,672.9 L889.7,671.6 L888.2,670.3 L886.7,668.9 L885.2,667.6 L883.6,666.2 L882.1,664.8 L880.7,663.4 L879.2,662 L877.8,660.6 L876.4,659.1 L875.1,657.6 L873.7,656.1 L872.4,654.6 L871.2,653 L869.9,651.4 L868.7,649.8 L867.6,648.2 L866.4,646.5 L865.3,644.9 L864.3,643.2 L863.2,641.5 L862.2,639.7 L861.2,638 L860.2,636.2 L859.2,634.4 L858.2,632.7 L857.3,630.9 L856.4,629.1 L855.4,627.2 L854.6,625.4 L853.7,623.6 L852.8,621.7 L852,619.8 L851.2,617.9 L850.4,616 L849.7,614 L848.9,612.1 L848.3,610.1 L847.6,608.2 L847,606.2 L846.5,604.1 L845.9,602.1 L845.4,600 L845,598 L844.5,595.9 L844.1,593.8 L843.7,591.7 L843.3,589.6 L843,587.6 L842.6,585.6 L842.3,583.6 L842,581.7 L841.7,579.7 L841.5,577.6 L841.2,575.6 L841,573.6 L840.8,571.6 L840.6,568.6 L840.4,565.7 L840.3,562.8 L840.2,559.9 L840.2,556.9 L840.2,554.8 L840.3,552.8 L840.3,550.7 L840.4,548.7 L840.5,546.6 L840.6,544.6 L840.8,542.5 L841,540.5 L841.3,538.5 L841.6,536.4 L842,534.4 L842.4,532.3 L842.8,530.3 L843.3,528.3 L843.8,526.3 L844.4,524.3 L845,522.3 L845.7,520.3 L846.3,518.4 L847.1,516.4 L847.8,514.5 L848.7,512.5 L849.5,510.6 L850.4,508.7 L851.3,506.9 L852.3,505.1 L853.3,503.3 L854.8,500.7 L856.3,498.2 L858,495.7 L859.2,494 L860.4,492.4 L861.6,490.8 L862.8,489.2 L864.1,487.6 L865.4,486.1 L866.8,484.6 L868.1,483.1 L869.5,481.7 L870.9,480.2 L872.4,478.8 L873.9,477.3 L875.4,475.9 L876.9,474.5 L878.5,473.1 L880,471.7 L881.5,470.3 L883.1,469 L884.6,467.7 L886.2,466.4 L887.7,465.1 L889.3,463.8 L890.9,462.5 L892.5,461.3 L894.1,460 L895.7,458.8 L897.3,457.5 L898.9,456.3 L900.5,455.1 L902.1,453.9 L903.7,452.7 L905.3,451.5 L906.9,450.3 L908.6,449.1 L911,447.4 L913.4,445.7 L915.9,444 L918.3,442.2 L920.7,440.5 Z" fill="none" stroke="#1a3f66" stroke-width="3.2" stroke-linejoin="round"/>
<path d="M1121.5,413.7 L1124.4,413.6 L1127.3,413.3 L1130,412.9 L1132.8,412.3 L1135.4,411.5 L1138,410.5 L1140.5,409.4 L1142.9,408.1 L1145.2,406.7 L1147.5,405.2 L1149.7,403.5 L1151.9,401.7 L1153.9,399.9 L1155.9,397.9 L1157.8,395.8 L1159.7,393.7 L1161.5,391.5 L1163.3,389.2 L1165,386.9 L1166.6,384.6 L1168.3,382.2 L1169.9,379.8 L1171.5,377.4 L1173,374.9 L1174.6,372.5 L1176.1,370.1 L1177.6,367.7 L1179.1,365.2 L1180.7,362.9 L1182.2,360.5 L1183.8,358.2 L1185.3,355.9 L1186.9,353.7 L1188.6,351.5 L1190.2,349.4 L1191.9,347.3 L1193.7,345.3 L1195.4,343.4 L1197.3,341.6 L1199.3,339.7 L1205.7,346.7 L1220.1,310.8 L1183.3,322.5 L1189.7,329.5 L1187.5,331.5 L1185.3,333.7 L1183.2,336 L1181.2,338.3 L1179.3,340.7 L1177.5,343.2 L1175.7,345.7 L1174,348.2 L1172.3,350.7 L1170.8,353.2 L1169.2,355.8 L1167.7,358.4 L1166.3,360.9 L1164.9,363.5 L1163.5,366.1 L1162.1,368.6 L1160.8,371.1 L1159.5,373.6 L1158.2,376.1 L1156.9,378.5 L1155.5,380.9 L1154.2,383.2 L1152.9,385.5 L1151.5,387.7 L1150.2,389.9 L1148.8,392 L1147.3,394.1 L1145.9,396.1 L1144.3,398 L1142.8,399.8 L1141.1,401.6 L1139.4,403.3 L1137.6,404.9 L1135.7,406.5 L1133.7,407.9 L1131.5,409.3 L1129.2,410.6 L1126.8,411.7 L1124.2,412.8 L1121.5,413.7 Z" fill="#ec5f58" stroke="#8e1419" stroke-width="2" stroke-linejoin="round"/>
<path d="M1146,438.5 L1147.3,436.7 L1148.7,435 L1150.2,433.4 L1151.8,431.8 L1153.4,430.3 L1155.1,428.8 L1156.8,427.4 L1158.6,426 L1160.4,424.6 L1162.4,423.2 L1164.3,421.8 L1166.4,420.4 L1168.4,419 L1170.6,417.7 L1172.8,416.3 L1175,414.9 L1177.3,413.5 L1179.6,412.1 L1181.9,410.6 L1184.3,409.2 L1186.7,407.7 L1189.2,406.2 L1191.6,404.7 L1194.1,403.1 L1196.6,401.5 L1199.2,399.9 L1201.7,398.2 L1204.2,396.5 L1206.8,394.8 L1209.3,392.9 L1211.8,391.1 L1214.3,389.2 L1216.8,387.2 L1219.3,385.2 L1221.8,383.1 L1224.2,381 L1226.6,378.8 L1229,376.5 L1231.3,374.1 L1233.5,371.8 L1241.2,379 L1251,342.9 L1215.6,355 L1223.3,362.2 L1221.2,364.4 L1219.1,366.6 L1217,368.6 L1214.8,370.7 L1212.6,372.6 L1210.4,374.6 L1208.1,376.5 L1205.8,378.4 L1203.5,380.3 L1201.2,382.1 L1198.8,383.9 L1196.5,385.7 L1194.1,387.5 L1191.7,389.2 L1189.4,391 L1187,392.7 L1184.7,394.5 L1182.4,396.2 L1180.1,397.9 L1177.8,399.7 L1175.5,401.4 L1173.3,403.2 L1171.2,405 L1169,406.7 L1167,408.5 L1164.9,410.4 L1163,412.2 L1161.1,414.1 L1159.3,415.9 L1157.5,417.9 L1155.9,419.8 L1154.3,421.8 L1152.9,423.8 L1151.5,425.8 L1150.3,427.9 L1149.1,429.9 L1148.2,432.1 L1147.3,434.2 L1146.6,436.3 L1146,438.5 Z" fill="#ec5f58" stroke="#8e1419" stroke-width="2" stroke-linejoin="round"/>
<path d="M942.1,560.3 L945.5,557 L948.8,553.7 L952.3,550.5 L955.8,547.3 L959.3,544.2 L962.8,541.1 L966.4,538 L970.1,535 L973.7,532 L977.4,529.1 L981.1,526.2 L984.9,523.3 L988.6,520.5 L992.4,517.7 L996.2,515 L1000.1,512.3 L1003.9,509.6 L1007.8,507 L1011.7,504.4 L1015.6,501.9 L1019.5,499.4 L1023.4,496.9 L1027.3,494.5 L1031.3,492.1 L1035.2,489.7 L1039.1,487.4 L1043,485.1 L1047,482.9 L1050.9,480.7 L1054.8,478.5 L1058.7,476.4 L1062.6,474.4 L1066.5,472.3 L1070.4,470.3 L1074.2,468.4 L1078,466.5 L1081.9,464.6 L1085.6,462.8 L1089.4,461 L1093.2,459.2 L1097.8,469.2 L1123.8,437.3 L1082.6,436.6 L1087.2,446.6 L1083.4,448.3 L1079.6,450.2 L1075.7,452 L1071.8,454 L1067.9,456 L1064,458 L1060,460.1 L1056.1,462.3 L1052.1,464.5 L1048.2,466.7 L1044.2,469 L1040.2,471.4 L1036.3,473.8 L1032.3,476.3 L1028.4,478.9 L1024.5,481.5 L1020.6,484.1 L1016.7,486.8 L1012.8,489.6 L1009,492.4 L1005.2,495.3 L1001.4,498.2 L997.7,501.2 L993.9,504.3 L990.3,507.4 L986.6,510.5 L983.1,513.7 L979.5,517 L976.1,520.3 L972.6,523.7 L969.3,527.1 L966,530.6 L962.7,534.2 L959.5,537.7 L956.4,541.4 L953.4,545.1 L950.5,548.8 L947.6,552.6 L944.8,556.4 L942.1,560.3 Z" fill="#ec5f58" stroke="#8e1419" stroke-width="2" stroke-linejoin="round"/>
<path d="M1124.6,452.9 L1122.1,454.6 L1119.4,456.3 L1116.8,458 L1114,459.7 L1111.2,461.4 L1108.4,463.1 L1105.5,464.8 L1102.5,466.5 L1099.6,468.3 L1096.5,470 L1093.5,471.8 L1090.4,473.6 L1087.3,475.4 L1084.2,477.2 L1081.1,479 L1078,480.8 L1074.8,482.7 L1071.7,484.6 L1068.6,486.5 L1065.5,488.4 L1062.4,490.4 L1059.3,492.4 L1056.3,494.4 L1053.3,496.4 L1050.3,498.5 L1047.4,500.6 L1044.5,502.7 L1041.7,504.9 L1038.9,507.1 L1036.2,509.3 L1033.6,511.6 L1031.1,513.9 L1028.6,516.2 L1026.2,518.6 L1024,521.1 L1021.8,523.5 L1019.7,526.1 L1017.8,528.7 L1015.9,531.3 L1014.3,533.8 L1003.8,527.1 L1000.3,568.8 L1036.6,548.1 L1026.1,541.4 L1027.6,539.1 L1029.1,536.9 L1030.7,534.7 L1032.5,532.5 L1034.3,530.4 L1036.3,528.2 L1038.4,526 L1040.6,523.9 L1042.8,521.7 L1045.2,519.5 L1047.6,517.4 L1050.1,515.2 L1052.7,513 L1055.3,510.9 L1058,508.7 L1060.7,506.6 L1063.5,504.4 L1066.3,502.3 L1069.1,500.1 L1072,497.9 L1074.9,495.8 L1077.8,493.6 L1080.7,491.4 L1083.6,489.2 L1086.5,487 L1089.4,484.8 L1092.2,482.6 L1095.1,480.4 L1097.9,478.2 L1100.6,475.9 L1103.3,473.7 L1106,471.4 L1108.6,469.1 L1111.2,466.9 L1113.6,464.6 L1116,462.3 L1118.3,459.9 L1120.5,457.6 L1122.6,455.3 L1124.6,452.9 Z" fill="#ec5f58" stroke="#8e1419" stroke-width="2" stroke-linejoin="round"/>
<path d="M1090.3,498.8 L1089.8,500.7 L1089.2,502.6 L1088.6,504.3 L1088,506.1 L1087.3,507.8 L1086.6,509.4 L1085.8,511 L1085,512.5 L1084.2,514 L1083.3,515.5 L1082.4,516.9 L1081.5,518.3 L1080.6,519.6 L1079.6,521 L1078.6,522.3 L1077.6,523.6 L1076.6,524.8 L1075.6,526.1 L1074.5,527.3 L1073.5,528.5 L1072.4,529.7 L1071.3,530.9 L1070.2,532 L1069.1,533.2 L1068,534.3 L1066.9,535.5 L1065.8,536.6 L1064.6,537.7 L1063.5,538.8 L1062.4,539.9 L1061.3,541 L1060.2,542.1 L1059.1,543.2 L1058,544.3 L1056.9,545.5 L1055.8,546.6 L1054.8,547.7 L1053.7,548.8 L1052.7,549.9 L1051.8,551 L1046.1,546 L1041.2,570.4 L1064.9,562.6 L1059.2,557.6 L1060.2,556.6 L1061.1,555.5 L1062.1,554.5 L1063.1,553.4 L1064.1,552.3 L1065.1,551.2 L1066.2,550.1 L1067.2,549 L1068.3,547.8 L1069.4,546.6 L1070.5,545.4 L1071.6,544.2 L1072.6,543 L1073.7,541.7 L1074.8,540.4 L1075.9,539.1 L1076.9,537.7 L1078,536.4 L1079,535 L1080,533.5 L1080.9,532.1 L1081.9,530.6 L1082.8,529.1 L1083.7,527.5 L1084.5,525.9 L1085.3,524.3 L1086,522.7 L1086.7,521 L1087.4,519.3 L1088,517.6 L1088.5,515.8 L1089,514 L1089.4,512.2 L1089.8,510.4 L1090,508.5 L1090.2,506.6 L1090.4,504.7 L1090.4,502.7 L1090.4,500.8 L1090.3,498.8 Z" fill="#ec5f58" stroke="#8e1419" stroke-width="2" stroke-linejoin="round"/>
<path d="M1275.8,442.4 L1316.7,473.1 L1307.1,485.9 L1361.6,489 L1343.4,437.5 L1333.8,450.3 L1293,419.6 Z" fill="#d42626" stroke="#7f1414" stroke-width="1.6" stroke-linejoin="miter"/>
<path d="M1210,519.5 L1249.3,550.1 L1239.6,562.6 L1294.5,567 L1276.8,514.9 L1267.1,527.3 L1227.8,496.6 Z" fill="#d42626" stroke="#7f1414" stroke-width="1.6" stroke-linejoin="miter"/>
<path d="M1140.8,595.9 L1181.2,627.4 L1171.8,639.4 L1227.7,645 L1208.7,592.1 L1199.3,604.1 L1159,572.6 Z" fill="#d42626" stroke="#7f1414" stroke-width="1.6" stroke-linejoin="miter"/>
<text x="243.4" y="810.2" font-family="Liberation Sans" font-weight="bold" font-size="48" fill="#1b2c4f" textLength="327.2" lengthAdjust="spacingAndGlyphs">HEALTHY ARTERY</text>
<text x="553.8" y="611.6" font-family="Liberation Sans" font-weight="bold" font-size="43.6" fill="#1b2c4f" textLength="151.6" lengthAdjust="spacingAndGlyphs">NORMAL</text>
<text x="538.5" y="652.9" font-family="Liberation Sans" font-weight="bold" font-size="43.6" fill="#1b2c4f" textLength="183.4" lengthAdjust="spacingAndGlyphs">PRESSURE</text>
<text x="1287.4" y="611.2" font-family="Liberation Sans" font-weight="bold" font-size="43.6" fill="#1b2c4f" textLength="172" lengthAdjust="spacingAndGlyphs">ELEVATED</text>
<text x="1282.2" y="652.4" font-family="Liberation Sans" font-weight="bold" font-size="43.6" fill="#1b2c4f" textLength="183.8" lengthAdjust="spacingAndGlyphs">PRESSURE</text>
<text x="1031.6" y="802.8" font-family="Liberation Sans" font-weight="bold" font-size="47" fill="#1b2c4f" textLength="261.2" lengthAdjust="spacingAndGlyphs">ARTERY WITH</text>
<text x="943.4" y="848.2" font-family="Liberation Sans" font-weight="bold" font-size="48" fill="#1b2c4f" textLength="447.2" lengthAdjust="spacingAndGlyphs">HIGH BLOOD PRESSURE</text>
<text x="221.2" y="561" font-family="Liberation Sans" font-weight="bold" font-size="26.7" fill="#f4f8fc" textLength="93.6" lengthAdjust="spacingAndGlyphs">NORMAL</text>
<text x="236.8" y="586.2" font-family="Liberation Sans" font-weight="bold" font-size="27.3" fill="#f4f8fc" textLength="61.2" lengthAdjust="spacingAndGlyphs">FLOW</text>
<text x="899.2" y="603.6" font-family="Liberation Sans" font-weight="bold" font-size="27.5" fill="#f4f8fc" textLength="132.8" lengthAdjust="spacingAndGlyphs">RESTRICTED</text>
<text x="936" y="628.8" font-family="Liberation Sans" font-weight="bold" font-size="28.2" fill="#f4f8fc" textLength="60.2" lengthAdjust="spacingAndGlyphs">FLOW</text>
</svg></body></html>
